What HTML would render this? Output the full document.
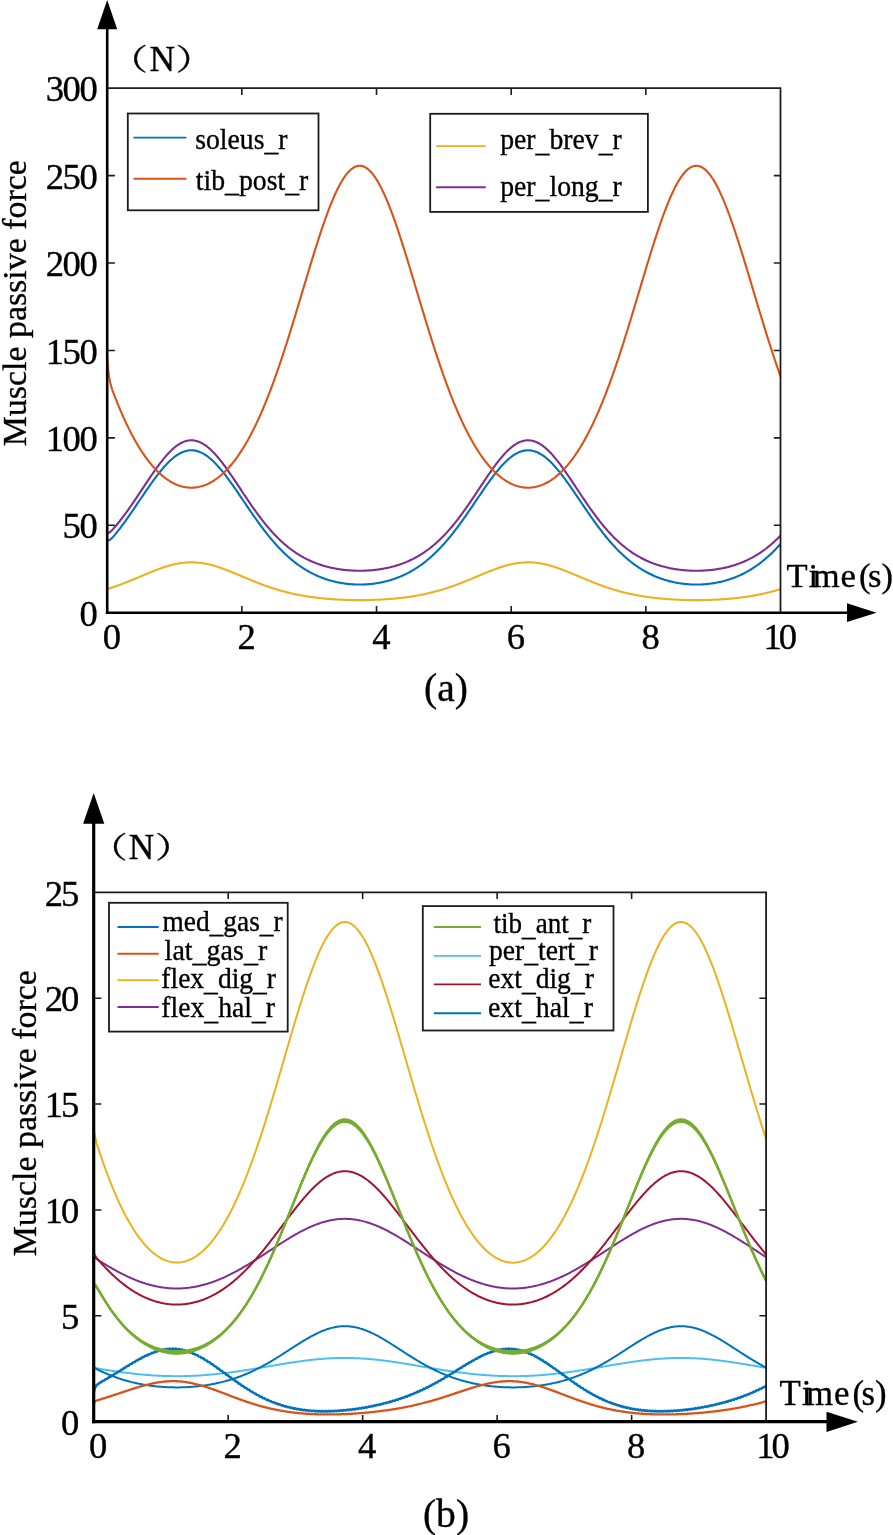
<!DOCTYPE html>
<html lang="en"><head><meta charset="utf-8"><title>Muscle passive force</title>
<style>html,body{margin:0;padding:0;background:#fff}svg{display:block}text{font-family:'Liberation Serif', serif;fill:#000;stroke:#000;stroke-width:0.35px}</style>
</head><body>
<svg width="893" height="1535" viewBox="0 0 893 1535">
<rect width="893" height="1535" fill="#fff"/>
<clipPath id="ca"><rect x="107.20" y="86.20" width="673.90" height="528.50"/></clipPath>
<g clip-path="url(#ca)" fill="none" stroke-linejoin="round" stroke-linecap="butt">
<path d="M107.2 589.10L108.2 588.78L109.2 588.47L110.2 588.14L111.2 587.82L112.2 587.48L113.2 587.15L114.2 586.80L115.2 586.46L116.2 586.10L117.2 585.75L118.2 585.38L119.2 585.02L120.2 584.65L121.2 584.27L122.2 583.89L123.2 583.51L124.2 583.13L125.2 582.74L126.2 582.34L127.2 581.94L128.2 581.54L129.2 581.14L130.2 580.73L131.2 580.32L132.2 579.91L133.2 579.50L134.2 579.08L135.2 578.66L136.2 578.25L137.2 577.83L138.2 577.40L139.2 576.98L140.2 576.56L141.2 576.14L142.2 575.71L143.2 575.29L144.2 574.87L145.2 574.45L146.2 574.03L147.2 573.62L148.2 573.20L149.2 572.79L150.2 572.38L151.2 571.97L152.2 571.57L153.2 571.17L154.2 570.78L155.2 570.39L156.2 570.00L157.2 569.62L158.2 569.25L159.2 568.88L160.2 568.52L161.2 568.17L162.2 567.82L163.2 567.48L164.2 567.15L165.2 566.83L166.2 566.51L167.2 566.21L168.2 565.91L169.2 565.63L170.2 565.35L171.2 565.09L172.2 564.83L173.2 564.59L174.2 564.35L175.2 564.13L176.2 563.93L177.2 563.73L178.2 563.54L179.2 563.37L180.2 563.21L181.2 563.07L182.2 562.93L183.2 562.81L184.2 562.71L185.2 562.61L186.2 562.53L187.2 562.47L188.2 562.42L189.2 562.38L190.2 562.36L191.2 562.35L192.2 562.35L193.2 562.37L194.2 562.40L195.2 562.45L196.2 562.51L197.2 562.59L198.2 562.68L199.2 562.78L200.2 562.89L201.2 563.02L202.2 563.16L203.2 563.32L204.2 563.49L205.2 563.67L206.2 563.86L207.2 564.06L208.2 564.28L209.2 564.51L210.2 564.75L211.2 565.00L212.2 565.26L213.2 565.54L214.2 565.82L215.2 566.11L216.2 566.41L217.2 566.72L218.2 567.04L219.2 567.37L220.2 567.71L221.2 568.05L222.2 568.41L223.2 568.76L224.2 569.13L225.2 569.50L226.2 569.88L227.2 570.26L228.2 570.65L229.2 571.04L230.2 571.44L231.2 571.84L232.2 572.25L233.2 572.66L234.2 573.07L235.2 573.48L236.2 573.90L237.2 574.31L238.2 574.73L239.2 575.16L240.2 575.58L241.2 576.00L242.2 576.42L243.2 576.84L244.2 577.27L245.2 577.69L246.2 578.11L247.2 578.53L248.2 578.95L249.2 579.36L250.2 579.78L251.2 580.19L252.2 580.60L253.2 581.01L254.2 581.41L255.2 581.81L256.2 582.21L257.2 582.61L258.2 583.00L259.2 583.39L260.2 583.77L261.2 584.15L262.2 584.53L263.2 584.90L264.2 585.27L265.2 585.63L266.2 585.99L267.2 586.34L268.2 586.69L269.2 587.03L270.2 587.37L271.2 587.71L272.2 588.04L273.2 588.36L274.2 588.68L275.2 589.00L276.2 589.31L277.2 589.61L278.2 589.91L279.2 590.20L280.2 590.49L281.2 590.77L282.2 591.05L283.2 591.33L284.2 591.59L285.2 591.86L286.2 592.11L287.2 592.37L288.2 592.61L289.2 592.86L290.2 593.09L291.2 593.33L292.2 593.55L293.2 593.78L294.2 593.99L295.2 594.21L296.2 594.41L297.2 594.62L298.2 594.82L299.2 595.01L300.2 595.20L301.2 595.38L302.2 595.56L303.2 595.74L304.2 595.91L305.2 596.08L306.2 596.24L307.2 596.40L308.2 596.56L309.2 596.71L310.2 596.86L311.2 597.00L312.2 597.14L313.2 597.27L314.2 597.40L315.2 597.53L316.2 597.66L317.2 597.78L318.2 597.89L319.2 598.01L320.2 598.12L321.2 598.22L322.2 598.32L323.2 598.42L324.2 598.52L325.2 598.61L326.2 598.70L327.2 598.79L328.2 598.87L329.2 598.96L330.2 599.03L331.2 599.11L332.2 599.18L333.2 599.25L334.2 599.31L335.2 599.38L336.2 599.44L337.2 599.49L338.2 599.55L339.2 599.60L340.2 599.65L341.2 599.70L342.2 599.74L343.2 599.78L344.2 599.82L345.2 599.86L346.2 599.89L347.2 599.92L348.2 599.95L349.2 599.98L350.2 600.00L351.2 600.03L352.2 600.04L353.2 600.06L354.2 600.08L355.2 600.09L356.2 600.10L357.2 600.10L358.2 600.11L359.2 600.11L360.2 600.11L361.2 600.11L362.2 600.10L363.2 600.10L364.2 600.09L365.2 600.08L366.2 600.06L367.2 600.04L368.2 600.03L369.2 600.00L370.2 599.98L371.2 599.95L372.2 599.92L373.2 599.89L374.2 599.86L375.2 599.82L376.2 599.78L377.2 599.74L378.2 599.70L379.2 599.65L380.2 599.60L381.2 599.55L382.2 599.49L383.2 599.44L384.2 599.38L385.2 599.31L386.2 599.25L387.2 599.18L388.2 599.11L389.2 599.03L390.2 598.95L391.2 598.87L392.2 598.79L393.2 598.70L394.2 598.61L395.2 598.52L396.2 598.42L397.2 598.32L398.2 598.22L399.2 598.11L400.2 598.00L401.2 597.89L402.2 597.77L403.2 597.65L404.2 597.53L405.2 597.40L406.2 597.27L407.2 597.13L408.2 596.99L409.2 596.85L410.2 596.70L411.2 596.55L412.2 596.40L413.2 596.24L414.2 596.08L415.2 595.91L416.2 595.74L417.2 595.56L418.2 595.38L419.2 595.19L420.2 595.01L421.2 594.81L422.2 594.61L423.2 594.41L424.2 594.20L425.2 593.99L426.2 593.77L427.2 593.55L428.2 593.32L429.2 593.09L430.2 592.85L431.2 592.61L432.2 592.36L433.2 592.11L434.2 591.85L435.2 591.59L436.2 591.32L437.2 591.05L438.2 590.77L439.2 590.48L440.2 590.19L441.2 589.90L442.2 589.60L443.2 589.30L444.2 588.99L445.2 588.67L446.2 588.35L447.2 588.03L448.2 587.70L449.2 587.37L450.2 587.03L451.2 586.68L452.2 586.33L453.2 585.98L454.2 585.62L455.2 585.26L456.2 584.89L457.2 584.52L458.2 584.14L459.2 583.76L460.2 583.38L461.2 582.99L462.2 582.60L463.2 582.20L464.2 581.80L465.2 581.40L466.2 581.00L467.2 580.59L468.2 580.18L469.2 579.77L470.2 579.35L471.2 578.94L472.2 578.52L473.2 578.10L474.2 577.68L475.2 577.26L476.2 576.83L477.2 576.41L478.2 575.99L479.2 575.57L480.2 575.14L481.2 574.72L482.2 574.30L483.2 573.89L484.2 573.47L485.2 573.06L486.2 572.65L487.2 572.24L488.2 571.83L489.2 571.43L490.2 571.03L491.2 570.64L492.2 570.25L493.2 569.87L494.2 569.49L495.2 569.12L496.2 568.76L497.2 568.40L498.2 568.04L499.2 567.70L500.2 567.36L501.2 567.04L502.2 566.72L503.2 566.41L504.2 566.10L505.2 565.81L506.2 565.53L507.2 565.26L508.2 565.00L509.2 564.74L510.2 564.50L511.2 564.28L512.2 564.06L513.2 563.85L514.2 563.66L515.2 563.48L516.2 563.31L517.2 563.16L518.2 563.02L519.2 562.89L520.2 562.77L521.2 562.67L522.2 562.58L523.2 562.51L524.2 562.45L525.2 562.40L526.2 562.37L527.2 562.35L528.2 562.35L529.2 562.36L530.2 562.38L531.2 562.42L532.2 562.47L533.2 562.54L534.2 562.62L535.2 562.71L536.2 562.82L537.2 562.94L538.2 563.07L539.2 563.22L540.2 563.38L541.2 563.55L542.2 563.73L543.2 563.93L544.2 564.14L545.2 564.36L546.2 564.59L547.2 564.84L548.2 565.09L549.2 565.36L550.2 565.63L551.2 565.92L552.2 566.22L553.2 566.52L554.2 566.84L555.2 567.16L556.2 567.49L557.2 567.83L558.2 568.18L559.2 568.53L560.2 568.89L561.2 569.26L562.2 569.63L563.2 570.01L564.2 570.40L565.2 570.79L566.2 571.18L567.2 571.58L568.2 571.98L569.2 572.39L570.2 572.80L571.2 573.21L572.2 573.63L573.2 574.04L574.2 574.46L575.2 574.88L576.2 575.30L577.2 575.72L578.2 576.15L579.2 576.57L580.2 576.99L581.2 577.41L582.2 577.84L583.2 578.26L584.2 578.68L585.2 579.09L586.2 579.51L587.2 579.92L588.2 580.33L589.2 580.74L590.2 581.15L591.2 581.55L592.2 581.95L593.2 582.35L594.2 582.74L595.2 583.14L596.2 583.52L597.2 583.90L598.2 584.28L599.2 584.66L600.2 585.03L601.2 585.39L602.2 585.76L603.2 586.11L604.2 586.46L605.2 586.81L606.2 587.15L607.2 587.49L608.2 587.82L609.2 588.15L610.2 588.48L611.2 588.79L612.2 589.11L613.2 589.41L614.2 589.71L615.2 590.01L616.2 590.30L617.2 590.59L618.2 590.87L619.2 591.15L620.2 591.42L621.2 591.69L622.2 591.95L623.2 592.20L624.2 592.45L625.2 592.70L626.2 592.94L627.2 593.17L628.2 593.41L629.2 593.63L630.2 593.85L631.2 594.07L632.2 594.28L633.2 594.49L634.2 594.69L635.2 594.88L636.2 595.08L637.2 595.26L638.2 595.45L639.2 595.63L640.2 595.80L641.2 595.97L642.2 596.14L643.2 596.30L644.2 596.46L645.2 596.61L646.2 596.76L647.2 596.91L648.2 597.05L649.2 597.19L650.2 597.32L651.2 597.45L652.2 597.58L653.2 597.70L654.2 597.82L655.2 597.93L656.2 598.04L657.2 598.15L658.2 598.26L659.2 598.36L660.2 598.46L661.2 598.55L662.2 598.65L663.2 598.73L664.2 598.82L665.2 598.90L666.2 598.98L667.2 599.06L668.2 599.13L669.2 599.20L670.2 599.27L671.2 599.34L672.2 599.40L673.2 599.46L674.2 599.51L675.2 599.57L676.2 599.62L677.2 599.67L678.2 599.71L679.2 599.76L680.2 599.80L681.2 599.84L682.2 599.87L683.2 599.90L684.2 599.94L685.2 599.96L686.2 599.99L687.2 600.01L688.2 600.03L689.2 600.05L690.2 600.07L691.2 600.08L692.2 600.09L693.2 600.10L694.2 600.11L695.2 600.11L696.2 600.11L697.2 600.11L698.2 600.11L699.2 600.10L700.2 600.09L701.2 600.08L702.2 600.07L703.2 600.06L704.2 600.04L705.2 600.02L706.2 600.00L707.2 599.97L708.2 599.94L709.2 599.91L710.2 599.88L711.2 599.85L712.2 599.81L713.2 599.77L714.2 599.73L715.2 599.68L716.2 599.63L717.2 599.58L718.2 599.53L719.2 599.47L720.2 599.41L721.2 599.35L722.2 599.29L723.2 599.22L724.2 599.15L725.2 599.08L726.2 599.00L727.2 598.93L728.2 598.84L729.2 598.76L730.2 598.67L731.2 598.58L732.2 598.49L733.2 598.39L734.2 598.29L735.2 598.18L736.2 598.07L737.2 597.96L738.2 597.85L739.2 597.73L740.2 597.61L741.2 597.48L742.2 597.36L743.2 597.22L744.2 597.09L745.2 596.95L746.2 596.80L747.2 596.65L748.2 596.50L749.2 596.34L750.2 596.18L751.2 596.02L752.2 595.85L753.2 595.68L754.2 595.50L755.2 595.32L756.2 595.13L757.2 594.94L758.2 594.74L759.2 594.54L760.2 594.34L761.2 594.13L762.2 593.91L763.2 593.69L764.2 593.47L765.2 593.24L766.2 593.00L767.2 592.77L768.2 592.52L769.2 592.27L770.2 592.02L771.2 591.76L772.2 591.49L773.2 591.22L774.2 590.95L775.2 590.67L776.2 590.38L777.2 590.09L778.2 589.80L779.2 589.50L780.2 589.19L780.5 589.10" stroke="#EDB120" stroke-width="2.1"/>
<path d="M107.2 539.62L108.2 540.20L109.2 540.10L110.2 539.57L111.2 538.78L112.2 537.82L113.2 536.75L114.2 535.61L115.2 534.42L116.2 533.19L117.2 531.94L118.2 530.66L119.2 529.36L120.2 528.05L121.2 526.72L122.2 525.37L123.2 524.01L124.2 522.64L125.2 521.26L126.2 519.86L127.2 518.45L128.2 517.04L129.2 515.61L130.2 514.17L131.2 512.73L132.2 511.28L133.2 509.82L134.2 508.36L135.2 506.89L136.2 505.41L137.2 503.94L138.2 502.46L139.2 500.98L140.2 499.50L141.2 498.02L142.2 496.54L143.2 495.07L144.2 493.60L145.2 492.13L146.2 490.67L147.2 489.22L148.2 487.78L149.2 486.34L150.2 484.92L151.2 483.50L152.2 482.11L153.2 480.72L154.2 479.35L155.2 478.00L156.2 476.67L157.2 475.35L158.2 474.06L159.2 472.79L160.2 471.54L161.2 470.32L162.2 469.12L163.2 467.95L164.2 466.81L165.2 465.69L166.2 464.61L167.2 463.56L168.2 462.54L169.2 461.56L170.2 460.61L171.2 459.69L172.2 458.82L173.2 457.98L174.2 457.18L175.2 456.42L176.2 455.70L177.2 455.03L178.2 454.39L179.2 453.80L180.2 453.26L181.2 452.75L182.2 452.30L183.2 451.89L184.2 451.52L185.2 451.20L186.2 450.93L187.2 450.71L188.2 450.53L189.2 450.40L190.2 450.32L191.2 450.29L192.2 450.31L193.2 450.37L194.2 450.49L195.2 450.65L196.2 450.85L197.2 451.11L198.2 451.41L199.2 451.76L200.2 452.16L201.2 452.60L202.2 453.09L203.2 453.62L204.2 454.20L205.2 454.82L206.2 455.48L207.2 456.18L208.2 456.93L209.2 457.72L210.2 458.54L211.2 459.40L212.2 460.31L213.2 461.24L214.2 462.22L215.2 463.22L216.2 464.26L217.2 465.34L218.2 466.44L219.2 467.57L220.2 468.74L221.2 469.93L222.2 471.14L223.2 472.38L224.2 473.65L225.2 474.93L226.2 476.24L227.2 477.57L228.2 478.91L229.2 480.28L230.2 481.65L231.2 483.05L232.2 484.46L233.2 485.88L234.2 487.31L235.2 488.75L236.2 490.20L237.2 491.66L238.2 493.12L239.2 494.59L240.2 496.06L241.2 497.54L242.2 499.02L243.2 500.50L244.2 501.98L245.2 503.46L246.2 504.94L247.2 506.41L248.2 507.88L249.2 509.35L250.2 510.80L251.2 512.26L252.2 513.70L253.2 515.14L254.2 516.57L255.2 517.99L256.2 519.40L257.2 520.80L258.2 522.19L259.2 523.57L260.2 524.93L261.2 526.28L262.2 527.62L263.2 528.95L264.2 530.26L265.2 531.55L266.2 532.83L267.2 534.10L268.2 535.35L269.2 536.58L270.2 537.80L271.2 539.00L272.2 540.18L273.2 541.35L274.2 542.49L275.2 543.63L276.2 544.74L277.2 545.84L278.2 546.92L279.2 547.98L280.2 549.02L281.2 550.05L282.2 551.06L283.2 552.05L284.2 553.02L285.2 553.97L286.2 554.91L287.2 555.83L288.2 556.73L289.2 557.62L290.2 558.48L291.2 559.33L292.2 560.16L293.2 560.98L294.2 561.78L295.2 562.56L296.2 563.32L297.2 564.07L298.2 564.80L299.2 565.51L300.2 566.21L301.2 566.89L302.2 567.56L303.2 568.21L304.2 568.85L305.2 569.46L306.2 570.07L307.2 570.66L308.2 571.23L309.2 571.79L310.2 572.34L311.2 572.87L312.2 573.39L313.2 573.89L314.2 574.38L315.2 574.85L316.2 575.32L317.2 575.76L318.2 576.20L319.2 576.62L320.2 577.03L321.2 577.43L322.2 577.82L323.2 578.19L324.2 578.55L325.2 578.90L326.2 579.24L327.2 579.56L328.2 579.88L329.2 580.18L330.2 580.47L331.2 580.75L332.2 581.02L333.2 581.28L334.2 581.53L335.2 581.77L336.2 582.00L337.2 582.21L338.2 582.42L339.2 582.62L340.2 582.80L341.2 582.98L342.2 583.15L343.2 583.30L344.2 583.45L345.2 583.59L346.2 583.72L347.2 583.84L348.2 583.95L349.2 584.05L350.2 584.14L351.2 584.22L352.2 584.29L353.2 584.36L354.2 584.41L355.2 584.46L356.2 584.49L357.2 584.52L358.2 584.54L359.2 584.55L360.2 584.55L361.2 584.54L362.2 584.52L363.2 584.49L364.2 584.45L365.2 584.41L366.2 584.35L367.2 584.29L368.2 584.22L369.2 584.14L370.2 584.05L371.2 583.94L372.2 583.84L373.2 583.72L374.2 583.59L375.2 583.45L376.2 583.30L377.2 583.14L378.2 582.98L379.2 582.80L380.2 582.61L381.2 582.42L382.2 582.21L383.2 581.99L384.2 581.76L385.2 581.53L386.2 581.28L387.2 581.02L388.2 580.75L389.2 580.47L390.2 580.17L391.2 579.87L392.2 579.56L393.2 579.23L394.2 578.89L395.2 578.54L396.2 578.18L397.2 577.81L398.2 577.42L399.2 577.02L400.2 576.61L401.2 576.19L402.2 575.75L403.2 575.30L404.2 574.84L405.2 574.37L406.2 573.88L407.2 573.37L408.2 572.86L409.2 572.32L410.2 571.78L411.2 571.22L412.2 570.64L413.2 570.05L414.2 569.45L415.2 568.83L416.2 568.19L417.2 567.54L418.2 566.88L419.2 566.19L420.2 565.50L421.2 564.78L422.2 564.05L423.2 563.30L424.2 562.54L425.2 561.76L426.2 560.96L427.2 560.14L428.2 559.31L429.2 558.46L430.2 557.60L431.2 556.71L432.2 555.81L433.2 554.89L434.2 553.95L435.2 553.00L436.2 552.02L437.2 551.03L438.2 550.02L439.2 549.00L440.2 547.95L441.2 546.89L442.2 545.81L443.2 544.71L444.2 543.60L445.2 542.47L446.2 541.32L447.2 540.15L448.2 538.97L449.2 537.77L450.2 536.55L451.2 535.31L452.2 534.07L453.2 532.80L454.2 531.52L455.2 530.22L456.2 528.91L457.2 527.59L458.2 526.25L459.2 524.90L460.2 523.53L461.2 522.16L462.2 520.77L463.2 519.37L464.2 517.96L465.2 516.54L466.2 515.11L467.2 513.67L468.2 512.22L469.2 510.77L470.2 509.31L471.2 507.84L472.2 506.37L473.2 504.90L474.2 503.42L475.2 501.94L476.2 500.46L477.2 498.98L478.2 497.50L479.2 496.03L480.2 494.55L481.2 493.08L482.2 491.62L483.2 490.16L484.2 488.71L485.2 487.27L486.2 485.84L487.2 484.42L488.2 483.01L489.2 481.62L490.2 480.24L491.2 478.88L492.2 477.53L493.2 476.21L494.2 474.90L495.2 473.61L496.2 472.35L497.2 471.11L498.2 469.90L499.2 468.71L500.2 467.55L501.2 466.41L502.2 465.31L503.2 464.24L504.2 463.20L505.2 462.19L506.2 461.22L507.2 460.28L508.2 459.38L509.2 458.52L510.2 457.70L511.2 456.91L512.2 456.17L513.2 455.46L514.2 454.80L515.2 454.18L516.2 453.61L517.2 453.08L518.2 452.59L519.2 452.15L520.2 451.75L521.2 451.40L522.2 451.10L523.2 450.85L524.2 450.64L525.2 450.48L526.2 450.37L527.2 450.31L528.2 450.29L529.2 450.33L530.2 450.41L531.2 450.54L532.2 450.71L533.2 450.94L534.2 451.21L535.2 451.53L536.2 451.90L537.2 452.31L538.2 452.77L539.2 453.27L540.2 453.82L541.2 454.41L542.2 455.04L543.2 455.72L544.2 456.44L545.2 457.20L546.2 458.00L547.2 458.84L548.2 459.72L549.2 460.63L550.2 461.58L551.2 462.57L552.2 463.58L553.2 464.64L554.2 465.72L555.2 466.83L556.2 467.98L557.2 469.15L558.2 470.35L559.2 471.57L560.2 472.82L561.2 474.09L562.2 475.39L563.2 476.70L564.2 478.04L565.2 479.39L566.2 480.76L567.2 482.14L568.2 483.54L569.2 484.95L570.2 486.38L571.2 487.81L572.2 489.26L573.2 490.71L574.2 492.17L575.2 493.64L576.2 495.11L577.2 496.58L578.2 498.06L579.2 499.54L580.2 501.02L581.2 502.50L582.2 503.98L583.2 505.45L584.2 506.92L585.2 508.39L586.2 509.86L587.2 511.31L588.2 512.77L589.2 514.21L590.2 515.64L591.2 517.07L592.2 518.49L593.2 519.90L594.2 521.29L595.2 522.68L596.2 524.05L597.2 525.41L598.2 526.75L599.2 528.09L600.2 529.41L601.2 530.71L602.2 532.00L603.2 533.28L604.2 534.54L605.2 535.78L606.2 537.01L607.2 538.22L608.2 539.41L609.2 540.59L610.2 541.75L611.2 542.89L612.2 544.02L613.2 545.13L614.2 546.22L615.2 547.29L616.2 548.35L617.2 549.38L618.2 550.40L619.2 551.41L620.2 552.39L621.2 553.36L622.2 554.30L623.2 555.24L624.2 556.15L625.2 557.04L626.2 557.92L627.2 558.78L628.2 559.63L629.2 560.45L630.2 561.26L631.2 562.05L632.2 562.83L633.2 563.58L634.2 564.33L635.2 565.05L636.2 565.76L637.2 566.45L638.2 567.13L639.2 567.79L640.2 568.43L641.2 569.06L642.2 569.68L643.2 570.28L644.2 570.86L645.2 571.43L646.2 571.99L647.2 572.53L648.2 573.05L649.2 573.56L650.2 574.06L651.2 574.55L652.2 575.02L653.2 575.47L654.2 575.92L655.2 576.35L656.2 576.77L657.2 577.17L658.2 577.57L659.2 577.95L660.2 578.32L661.2 578.68L662.2 579.02L663.2 579.35L664.2 579.68L665.2 579.99L666.2 580.28L667.2 580.57L668.2 580.85L669.2 581.12L670.2 581.37L671.2 581.62L672.2 581.85L673.2 582.07L674.2 582.29L675.2 582.49L676.2 582.68L677.2 582.87L678.2 583.04L679.2 583.20L680.2 583.36L681.2 583.50L682.2 583.64L683.2 583.76L684.2 583.88L685.2 583.98L686.2 584.08L687.2 584.17L688.2 584.25L689.2 584.32L690.2 584.38L691.2 584.43L692.2 584.47L693.2 584.50L694.2 584.53L695.2 584.54L696.2 584.55L697.2 584.54L698.2 584.53L699.2 584.51L700.2 584.48L701.2 584.44L702.2 584.39L703.2 584.33L704.2 584.27L705.2 584.19L706.2 584.11L707.2 584.01L708.2 583.91L709.2 583.79L710.2 583.67L711.2 583.54L712.2 583.40L713.2 583.25L714.2 583.09L715.2 582.92L716.2 582.74L717.2 582.54L718.2 582.34L719.2 582.13L720.2 581.91L721.2 581.68L722.2 581.44L723.2 581.19L724.2 580.92L725.2 580.65L726.2 580.36L727.2 580.07L728.2 579.76L729.2 579.44L730.2 579.11L731.2 578.77L732.2 578.42L733.2 578.05L734.2 577.67L735.2 577.28L736.2 576.88L737.2 576.47L738.2 576.04L739.2 575.60L740.2 575.14L741.2 574.68L742.2 574.20L743.2 573.70L744.2 573.19L745.2 572.67L746.2 572.14L747.2 571.58L748.2 571.02L749.2 570.44L750.2 569.84L751.2 569.23L752.2 568.61L753.2 567.97L754.2 567.31L755.2 566.64L756.2 565.95L757.2 565.25L758.2 564.53L759.2 563.79L760.2 563.04L761.2 562.27L762.2 561.48L763.2 560.68L764.2 559.85L765.2 559.02L766.2 558.16L767.2 557.29L768.2 556.40L769.2 555.49L770.2 554.56L771.2 553.62L772.2 552.66L773.2 551.68L774.2 550.68L775.2 549.67L776.2 548.63L777.2 547.58L778.2 546.51L779.2 545.43L780.2 544.32L780.5 543.99" stroke="#0072BD" stroke-width="2.1"/>
<path d="M107.2 533.33L108.2 533.17L109.2 532.64L110.2 531.89L111.2 530.98L112.2 529.98L113.2 528.92L114.2 527.80L115.2 526.65L116.2 525.47L117.2 524.26L118.2 523.03L119.2 521.78L120.2 520.51L121.2 519.23L122.2 517.93L123.2 516.61L124.2 515.27L125.2 513.92L126.2 512.55L127.2 511.17L128.2 509.77L129.2 508.36L130.2 506.94L131.2 505.51L132.2 504.06L133.2 502.61L134.2 501.14L135.2 499.67L136.2 498.19L137.2 496.70L138.2 495.20L139.2 493.70L140.2 492.20L141.2 490.69L142.2 489.18L143.2 487.67L144.2 486.17L145.2 484.66L146.2 483.15L147.2 481.65L148.2 480.16L149.2 478.67L150.2 477.19L151.2 475.72L152.2 474.26L153.2 472.81L154.2 471.37L155.2 469.95L156.2 468.55L157.2 467.17L158.2 465.80L159.2 464.46L160.2 463.13L161.2 461.84L162.2 460.56L163.2 459.32L164.2 458.10L165.2 456.91L166.2 455.75L167.2 454.63L168.2 453.53L169.2 452.48L170.2 451.46L171.2 450.47L172.2 449.53L173.2 448.63L174.2 447.76L175.2 446.94L176.2 446.17L177.2 445.44L178.2 444.75L179.2 444.11L180.2 443.52L181.2 442.97L182.2 442.48L183.2 442.03L184.2 441.63L185.2 441.29L186.2 440.99L187.2 440.75L188.2 440.56L189.2 440.42L190.2 440.33L191.2 440.30L192.2 440.31L193.2 440.38L194.2 440.51L195.2 440.68L196.2 440.91L197.2 441.19L198.2 441.51L199.2 441.89L200.2 442.33L201.2 442.81L202.2 443.33L203.2 443.91L204.2 444.54L205.2 445.21L206.2 445.93L207.2 446.69L208.2 447.49L209.2 448.34L210.2 449.23L211.2 450.16L212.2 451.13L213.2 452.14L214.2 453.19L215.2 454.27L216.2 455.38L217.2 456.53L218.2 457.71L219.2 458.92L220.2 460.15L221.2 461.42L222.2 462.71L223.2 464.02L224.2 465.36L225.2 466.72L226.2 468.10L227.2 469.50L228.2 470.91L229.2 472.34L230.2 473.78L231.2 475.24L232.2 476.71L233.2 478.19L234.2 479.67L235.2 481.17L236.2 482.66L237.2 484.17L238.2 485.68L239.2 487.18L240.2 488.69L241.2 490.20L242.2 491.71L243.2 493.22L244.2 494.72L245.2 496.21L246.2 497.70L247.2 499.19L248.2 500.67L249.2 502.13L250.2 503.59L251.2 505.04L252.2 506.48L253.2 507.90L254.2 509.32L255.2 510.72L256.2 512.10L257.2 513.47L258.2 514.83L259.2 516.17L260.2 517.50L261.2 518.81L262.2 520.10L263.2 521.38L264.2 522.64L265.2 523.88L266.2 525.10L267.2 526.30L268.2 527.49L269.2 528.66L270.2 529.81L271.2 530.93L272.2 532.04L273.2 533.14L274.2 534.21L275.2 535.26L276.2 536.29L277.2 537.31L278.2 538.30L279.2 539.28L280.2 540.23L281.2 541.17L282.2 542.09L283.2 542.99L284.2 543.87L285.2 544.73L286.2 545.57L287.2 546.40L288.2 547.21L289.2 548.00L290.2 548.77L291.2 549.52L292.2 550.26L293.2 550.97L294.2 551.68L295.2 552.36L296.2 553.03L297.2 553.68L298.2 554.32L299.2 554.93L300.2 555.54L301.2 556.13L302.2 556.70L303.2 557.26L304.2 557.80L305.2 558.33L306.2 558.85L307.2 559.35L308.2 559.83L309.2 560.31L310.2 560.77L311.2 561.21L312.2 561.65L313.2 562.07L314.2 562.48L315.2 562.87L316.2 563.26L317.2 563.63L318.2 563.99L319.2 564.34L320.2 564.68L321.2 565.01L322.2 565.32L323.2 565.63L324.2 565.92L325.2 566.21L326.2 566.48L327.2 566.75L328.2 567.01L329.2 567.25L330.2 567.49L331.2 567.71L332.2 567.93L333.2 568.14L334.2 568.34L335.2 568.53L336.2 568.72L337.2 568.89L338.2 569.06L339.2 569.21L340.2 569.36L341.2 569.50L342.2 569.64L343.2 569.76L344.2 569.88L345.2 569.99L346.2 570.09L347.2 570.19L348.2 570.27L349.2 570.35L350.2 570.42L351.2 570.49L352.2 570.55L353.2 570.60L354.2 570.64L355.2 570.67L356.2 570.70L357.2 570.72L358.2 570.74L359.2 570.75L360.2 570.75L361.2 570.74L362.2 570.72L363.2 570.70L364.2 570.67L365.2 570.64L366.2 570.59L367.2 570.54L368.2 570.49L369.2 570.42L370.2 570.35L371.2 570.27L372.2 570.18L373.2 570.09L374.2 569.99L375.2 569.88L376.2 569.76L377.2 569.63L378.2 569.50L379.2 569.36L380.2 569.21L381.2 569.05L382.2 568.89L383.2 568.71L384.2 568.53L385.2 568.34L386.2 568.14L387.2 567.93L388.2 567.71L389.2 567.48L390.2 567.25L391.2 567.00L392.2 566.74L393.2 566.48L394.2 566.20L395.2 565.92L396.2 565.62L397.2 565.32L398.2 565.00L399.2 564.67L400.2 564.33L401.2 563.98L402.2 563.62L403.2 563.25L404.2 562.86L405.2 562.47L406.2 562.06L407.2 561.64L408.2 561.20L409.2 560.75L410.2 560.29L411.2 559.82L412.2 559.33L413.2 558.83L414.2 558.32L415.2 557.79L416.2 557.24L417.2 556.69L418.2 556.11L419.2 555.52L420.2 554.92L421.2 554.30L422.2 553.66L423.2 553.01L424.2 552.34L425.2 551.66L426.2 550.96L427.2 550.24L428.2 549.50L429.2 548.75L430.2 547.98L431.2 547.19L432.2 546.38L433.2 545.55L434.2 544.71L435.2 543.85L436.2 542.97L437.2 542.07L438.2 541.15L439.2 540.21L440.2 539.25L441.2 538.28L442.2 537.28L443.2 536.27L444.2 535.23L445.2 534.18L446.2 533.11L447.2 532.02L448.2 530.91L449.2 529.78L450.2 528.63L451.2 527.46L452.2 526.27L453.2 525.07L454.2 523.85L455.2 522.60L456.2 521.35L457.2 520.07L458.2 518.78L459.2 517.47L460.2 516.14L461.2 514.80L462.2 513.44L463.2 512.07L464.2 510.68L465.2 509.28L466.2 507.87L467.2 506.44L468.2 505.00L469.2 503.56L470.2 502.10L471.2 500.63L472.2 499.15L473.2 497.67L474.2 496.18L475.2 494.68L476.2 493.18L477.2 491.67L478.2 490.17L479.2 488.66L480.2 487.15L481.2 485.64L482.2 484.13L483.2 482.63L484.2 481.13L485.2 479.64L486.2 478.15L487.2 476.67L488.2 475.20L489.2 473.75L490.2 472.31L491.2 470.88L492.2 469.46L493.2 468.07L494.2 466.69L495.2 465.33L496.2 463.99L497.2 462.68L498.2 461.39L499.2 460.12L500.2 458.89L501.2 457.68L502.2 456.50L503.2 455.35L504.2 454.24L505.2 453.16L506.2 452.12L507.2 451.11L508.2 450.14L509.2 449.21L510.2 448.32L511.2 447.47L512.2 446.67L513.2 445.91L514.2 445.19L515.2 444.52L516.2 443.90L517.2 443.32L518.2 442.79L519.2 442.31L520.2 441.88L521.2 441.51L522.2 441.18L523.2 440.90L524.2 440.68L525.2 440.50L526.2 440.38L527.2 440.31L528.2 440.30L529.2 440.33L530.2 440.42L531.2 440.56L532.2 440.75L533.2 441.00L534.2 441.29L535.2 441.64L536.2 442.04L537.2 442.49L538.2 442.98L539.2 443.53L540.2 444.13L541.2 444.77L542.2 445.45L543.2 446.19L544.2 446.96L545.2 447.79L546.2 448.65L547.2 449.55L548.2 450.50L549.2 451.48L550.2 452.50L551.2 453.56L552.2 454.65L553.2 455.78L554.2 456.94L555.2 458.13L556.2 459.35L557.2 460.59L558.2 461.87L559.2 463.17L560.2 464.49L561.2 465.84L562.2 467.20L563.2 468.59L564.2 469.99L565.2 471.41L566.2 472.84L567.2 474.29L568.2 475.75L569.2 477.23L570.2 478.71L571.2 480.19L572.2 481.69L573.2 483.19L574.2 484.70L575.2 486.20L576.2 487.71L577.2 489.22L578.2 490.73L579.2 492.24L580.2 493.74L581.2 495.24L582.2 496.74L583.2 498.22L584.2 499.71L585.2 501.18L586.2 502.64L587.2 504.10L588.2 505.54L589.2 506.98L590.2 508.40L591.2 509.81L592.2 511.20L593.2 512.58L594.2 513.95L595.2 515.30L596.2 516.64L597.2 517.96L598.2 519.26L599.2 520.55L600.2 521.82L601.2 523.07L602.2 524.31L603.2 525.52L604.2 526.72L605.2 527.90L606.2 529.06L607.2 530.20L608.2 531.33L609.2 532.43L610.2 533.51L611.2 534.58L612.2 535.62L613.2 536.65L614.2 537.66L615.2 538.65L616.2 539.62L617.2 540.56L618.2 541.50L619.2 542.41L620.2 543.30L621.2 544.17L622.2 545.03L623.2 545.87L624.2 546.68L625.2 547.48L626.2 548.27L627.2 549.03L628.2 549.78L629.2 550.51L630.2 551.22L631.2 551.92L632.2 552.60L633.2 553.26L634.2 553.90L635.2 554.53L636.2 555.15L637.2 555.75L638.2 556.33L639.2 556.90L640.2 557.45L641.2 557.99L642.2 558.51L643.2 559.02L644.2 559.52L645.2 560.00L646.2 560.47L647.2 560.92L648.2 561.37L649.2 561.80L650.2 562.21L651.2 562.62L652.2 563.01L653.2 563.39L654.2 563.76L655.2 564.11L656.2 564.46L657.2 564.79L658.2 565.12L659.2 565.43L660.2 565.73L661.2 566.03L662.2 566.31L663.2 566.58L664.2 566.84L665.2 567.09L666.2 567.34L667.2 567.57L668.2 567.79L669.2 568.01L670.2 568.21L671.2 568.41L672.2 568.60L673.2 568.78L674.2 568.95L675.2 569.11L676.2 569.27L677.2 569.41L678.2 569.55L679.2 569.68L680.2 569.80L681.2 569.92L682.2 570.03L683.2 570.12L684.2 570.22L685.2 570.30L686.2 570.38L687.2 570.45L688.2 570.51L689.2 570.56L690.2 570.61L691.2 570.65L692.2 570.69L693.2 570.71L694.2 570.73L695.2 570.74L696.2 570.75L697.2 570.74L698.2 570.73L699.2 570.72L700.2 570.69L701.2 570.66L702.2 570.62L703.2 570.58L704.2 570.53L705.2 570.46L706.2 570.40L707.2 570.32L708.2 570.24L709.2 570.15L710.2 570.05L711.2 569.95L712.2 569.84L713.2 569.72L714.2 569.59L715.2 569.45L716.2 569.31L717.2 569.15L718.2 568.99L719.2 568.83L720.2 568.65L721.2 568.46L722.2 568.27L723.2 568.06L724.2 567.85L725.2 567.63L726.2 567.40L727.2 567.16L728.2 566.91L729.2 566.65L730.2 566.38L731.2 566.10L732.2 565.81L733.2 565.52L734.2 565.21L735.2 564.88L736.2 564.55L737.2 564.21L738.2 563.86L739.2 563.49L740.2 563.11L741.2 562.73L742.2 562.32L743.2 561.91L744.2 561.49L745.2 561.05L746.2 560.60L747.2 560.13L748.2 559.65L749.2 559.16L750.2 558.65L751.2 558.13L752.2 557.60L753.2 557.05L754.2 556.49L755.2 555.91L756.2 555.31L757.2 554.70L758.2 554.08L759.2 553.44L760.2 552.78L761.2 552.11L762.2 551.41L763.2 550.71L764.2 549.98L765.2 549.24L766.2 548.48L767.2 547.70L768.2 546.91L769.2 546.09L770.2 545.26L771.2 544.41L772.2 543.54L773.2 542.65L774.2 541.75L775.2 540.82L776.2 539.88L777.2 538.91L778.2 537.93L779.2 536.93L780.2 535.91L780.5 535.60" stroke="#7E2F8E" stroke-width="2.1"/>
<path d="M107.2 357.09L108.2 369.97L109.2 377.52L110.2 382.53L111.2 386.31L112.2 389.48L113.2 392.34L114.2 395.04L115.2 397.64L116.2 400.18L117.2 402.67L118.2 405.11L119.2 407.51L120.2 409.87L121.2 412.19L122.2 414.47L123.2 416.72L124.2 418.93L125.2 421.10L126.2 423.23L127.2 425.32L128.2 427.38L129.2 429.40L130.2 431.37L131.2 433.32L132.2 435.22L133.2 437.08L134.2 438.91L135.2 440.70L136.2 442.46L137.2 444.17L138.2 445.85L139.2 447.49L140.2 449.10L141.2 450.67L142.2 452.20L143.2 453.70L144.2 455.16L145.2 456.59L146.2 457.98L147.2 459.33L148.2 460.66L149.2 461.94L150.2 463.19L151.2 464.41L152.2 465.60L153.2 466.75L154.2 467.86L155.2 468.95L156.2 470.00L157.2 471.02L158.2 472.01L159.2 472.96L160.2 473.88L161.2 474.77L162.2 475.63L163.2 476.46L164.2 477.26L165.2 478.03L166.2 478.76L167.2 479.47L168.2 480.14L169.2 480.79L170.2 481.40L171.2 481.99L172.2 482.55L173.2 483.07L174.2 483.57L175.2 484.04L176.2 484.48L177.2 484.89L178.2 485.27L179.2 485.63L180.2 485.95L181.2 486.25L182.2 486.52L183.2 486.76L184.2 486.97L185.2 487.16L186.2 487.32L187.2 487.45L188.2 487.55L189.2 487.62L190.2 487.67L191.2 487.69L192.2 487.68L193.2 487.64L194.2 487.58L195.2 487.48L196.2 487.36L197.2 487.21L198.2 487.04L199.2 486.83L200.2 486.60L201.2 486.34L202.2 486.05L203.2 485.74L204.2 485.39L205.2 485.02L206.2 484.62L207.2 484.19L208.2 483.73L209.2 483.24L210.2 482.72L211.2 482.17L212.2 481.60L213.2 480.99L214.2 480.36L215.2 479.69L216.2 478.99L217.2 478.27L218.2 477.51L219.2 476.72L220.2 475.91L221.2 475.06L222.2 474.18L223.2 473.26L224.2 472.32L225.2 471.34L226.2 470.34L227.2 469.29L228.2 468.22L229.2 467.11L230.2 465.97L231.2 464.80L232.2 463.59L233.2 462.35L234.2 461.08L235.2 459.77L236.2 458.42L237.2 457.04L238.2 455.63L239.2 454.18L240.2 452.69L241.2 451.17L242.2 449.61L243.2 448.02L244.2 446.39L245.2 444.72L246.2 443.02L247.2 441.28L248.2 439.50L249.2 437.68L250.2 435.83L251.2 433.94L252.2 432.01L253.2 430.04L254.2 428.04L255.2 425.99L256.2 423.91L257.2 421.79L258.2 419.64L259.2 417.44L260.2 415.21L261.2 412.94L262.2 410.63L263.2 408.28L264.2 405.89L265.2 403.47L266.2 401.01L267.2 398.51L268.2 395.98L269.2 393.41L270.2 390.80L271.2 388.16L272.2 385.48L273.2 382.77L274.2 380.02L275.2 377.24L276.2 374.42L277.2 371.57L278.2 368.69L279.2 365.78L280.2 362.83L281.2 359.86L282.2 356.86L283.2 353.82L284.2 350.76L285.2 347.68L286.2 344.56L287.2 341.43L288.2 338.27L289.2 335.08L290.2 331.88L291.2 328.66L292.2 325.41L293.2 322.15L294.2 318.88L295.2 315.59L296.2 312.28L297.2 308.97L298.2 305.65L299.2 302.31L300.2 298.98L301.2 295.63L302.2 292.29L303.2 288.94L304.2 285.59L305.2 282.25L306.2 278.91L307.2 275.58L308.2 272.26L309.2 268.94L310.2 265.64L311.2 262.36L312.2 259.09L313.2 255.85L314.2 252.62L315.2 249.42L316.2 246.25L317.2 243.10L318.2 239.99L319.2 236.91L320.2 233.86L321.2 230.85L322.2 227.89L323.2 224.96L324.2 222.08L325.2 219.25L326.2 216.47L327.2 213.74L328.2 211.06L329.2 208.44L330.2 205.88L331.2 203.39L332.2 200.95L333.2 198.58L334.2 196.28L335.2 194.05L336.2 191.89L337.2 189.80L338.2 187.79L339.2 185.86L340.2 184.00L341.2 182.23L342.2 180.54L343.2 178.94L344.2 177.42L345.2 175.99L346.2 174.65L347.2 173.39L348.2 172.23L349.2 171.17L350.2 170.19L351.2 169.31L352.2 168.53L353.2 167.84L354.2 167.25L355.2 166.76L356.2 166.37L357.2 166.07L358.2 165.87L359.2 165.77L360.2 165.78L361.2 165.88L362.2 166.08L363.2 166.37L364.2 166.77L365.2 167.27L366.2 167.86L367.2 168.55L368.2 169.33L369.2 170.22L370.2 171.19L371.2 172.26L372.2 173.42L373.2 174.68L374.2 176.02L375.2 177.46L376.2 178.98L377.2 180.58L378.2 182.28L379.2 184.05L380.2 185.91L381.2 187.84L382.2 189.85L383.2 191.94L384.2 194.10L385.2 196.34L386.2 198.64L387.2 201.01L388.2 203.45L389.2 205.95L390.2 208.51L391.2 211.13L392.2 213.81L393.2 216.54L394.2 219.32L395.2 222.15L396.2 225.03L397.2 227.96L398.2 230.93L399.2 233.94L400.2 236.98L401.2 240.06L402.2 243.18L403.2 246.33L404.2 249.50L405.2 252.70L406.2 255.93L407.2 259.18L408.2 262.44L409.2 265.73L410.2 269.03L411.2 272.34L412.2 275.66L413.2 278.99L414.2 282.33L415.2 285.68L416.2 289.02L417.2 292.37L418.2 295.72L419.2 299.06L420.2 302.40L421.2 305.73L422.2 309.05L423.2 312.37L424.2 315.67L425.2 318.96L426.2 322.24L427.2 325.49L428.2 328.74L429.2 331.96L430.2 335.16L431.2 338.35L432.2 341.51L433.2 344.64L434.2 347.75L435.2 350.84L436.2 353.90L437.2 356.93L438.2 359.93L439.2 362.91L440.2 365.85L441.2 368.76L442.2 371.64L443.2 374.49L444.2 377.31L445.2 380.09L446.2 382.84L447.2 385.55L448.2 388.23L449.2 390.87L450.2 393.47L451.2 396.04L452.2 398.58L453.2 401.07L454.2 403.53L455.2 405.95L456.2 408.34L457.2 410.69L458.2 412.99L459.2 415.26L460.2 417.50L461.2 419.69L462.2 421.85L463.2 423.97L464.2 426.05L465.2 428.09L466.2 430.09L467.2 432.06L468.2 433.99L469.2 435.88L470.2 437.73L471.2 439.54L472.2 441.32L473.2 443.06L474.2 444.76L475.2 446.43L476.2 448.06L477.2 449.65L478.2 451.21L479.2 452.73L480.2 454.22L481.2 455.67L482.2 457.08L483.2 458.46L484.2 459.80L485.2 461.11L486.2 462.38L487.2 463.62L488.2 464.83L489.2 466.00L490.2 467.14L491.2 468.25L492.2 469.32L493.2 470.36L494.2 471.37L495.2 472.34L496.2 473.29L497.2 474.20L498.2 475.08L499.2 475.93L500.2 476.74L501.2 477.53L502.2 478.29L503.2 479.01L504.2 479.71L505.2 480.37L506.2 481.01L507.2 481.61L508.2 482.19L509.2 482.73L510.2 483.25L511.2 483.74L512.2 484.20L513.2 484.63L514.2 485.03L515.2 485.40L516.2 485.74L517.2 486.06L518.2 486.35L519.2 486.61L520.2 486.84L521.2 487.04L522.2 487.22L523.2 487.37L524.2 487.49L525.2 487.58L526.2 487.64L527.2 487.68L528.2 487.69L529.2 487.67L530.2 487.62L531.2 487.55L532.2 487.44L533.2 487.31L534.2 487.16L535.2 486.97L536.2 486.76L537.2 486.51L538.2 486.24L539.2 485.95L540.2 485.62L541.2 485.26L542.2 484.88L543.2 484.47L544.2 484.03L545.2 483.56L546.2 483.06L547.2 482.53L548.2 481.97L549.2 481.39L550.2 480.77L551.2 480.13L552.2 479.45L553.2 478.74L554.2 478.01L555.2 477.24L556.2 476.44L557.2 475.61L558.2 474.75L559.2 473.86L560.2 472.94L561.2 471.98L562.2 470.99L563.2 469.97L564.2 468.92L565.2 467.84L566.2 466.72L567.2 465.57L568.2 464.38L569.2 463.16L570.2 461.91L571.2 460.62L572.2 459.30L573.2 457.94L574.2 456.55L575.2 455.13L576.2 453.66L577.2 452.16L578.2 450.63L579.2 449.06L580.2 447.45L581.2 445.81L582.2 444.13L583.2 442.41L584.2 440.66L585.2 438.87L586.2 437.04L587.2 435.17L588.2 433.27L589.2 431.33L590.2 429.35L591.2 427.33L592.2 425.27L593.2 423.18L594.2 421.04L595.2 418.87L596.2 416.66L597.2 414.42L598.2 412.13L599.2 409.81L600.2 407.45L601.2 405.05L602.2 402.62L603.2 400.14L604.2 397.63L605.2 395.09L606.2 392.50L607.2 389.88L608.2 387.23L609.2 384.54L610.2 381.81L611.2 379.05L612.2 376.26L613.2 373.43L614.2 370.57L615.2 367.67L616.2 364.75L617.2 361.80L618.2 358.81L619.2 355.80L620.2 352.76L621.2 349.69L622.2 346.59L623.2 343.47L624.2 340.32L625.2 337.16L626.2 333.96L627.2 330.75L628.2 327.52L629.2 324.27L630.2 321.01L631.2 317.73L632.2 314.43L633.2 311.13L634.2 307.81L635.2 304.48L636.2 301.15L637.2 297.81L638.2 294.46L639.2 291.11L640.2 287.77L641.2 284.42L642.2 281.08L643.2 277.74L644.2 274.41L645.2 271.10L646.2 267.79L647.2 264.49L648.2 261.22L649.2 257.96L650.2 254.72L651.2 251.50L652.2 248.31L653.2 245.14L654.2 242.01L655.2 238.90L656.2 235.84L657.2 232.80L658.2 229.81L659.2 226.86L660.2 223.95L661.2 221.09L662.2 218.27L663.2 215.51L664.2 212.80L665.2 210.14L666.2 207.54L667.2 205.00L668.2 202.53L669.2 200.11L670.2 197.77L671.2 195.49L672.2 193.28L673.2 191.15L674.2 189.09L675.2 187.11L676.2 185.20L677.2 183.37L678.2 181.63L679.2 179.97L680.2 178.40L681.2 176.91L682.2 175.51L683.2 174.20L684.2 172.98L685.2 171.85L686.2 170.81L687.2 169.87L688.2 169.03L689.2 168.28L690.2 167.62L691.2 167.07L692.2 166.61L693.2 166.25L694.2 165.99L695.2 165.83L696.2 165.76L697.2 165.80L698.2 165.93L699.2 166.17L700.2 166.50L701.2 166.93L702.2 167.46L703.2 168.09L704.2 168.81L705.2 169.63L706.2 170.55L707.2 171.56L708.2 172.66L709.2 173.85L710.2 175.14L711.2 176.51L712.2 177.98L713.2 179.53L714.2 181.17L715.2 182.89L716.2 184.69L717.2 186.57L718.2 188.54L719.2 190.57L720.2 192.69L721.2 194.88L722.2 197.13L723.2 199.46L724.2 201.86L725.2 204.32L726.2 206.84L727.2 209.42L728.2 212.06L729.2 214.76L730.2 217.51L731.2 220.31L732.2 223.16L733.2 226.05L734.2 228.99L735.2 231.98L736.2 235.00L737.2 238.06L738.2 241.15L739.2 244.28L740.2 247.43L741.2 250.62L742.2 253.83L743.2 257.06L744.2 260.32L745.2 263.59L746.2 266.88L747.2 270.18L748.2 273.50L749.2 276.83L750.2 280.16L751.2 283.50L752.2 286.85L753.2 290.19L754.2 293.54L755.2 296.89L756.2 300.23L757.2 303.56L758.2 306.89L759.2 310.21L760.2 313.52L761.2 316.82L762.2 320.11L763.2 323.38L764.2 326.63L765.2 329.87L766.2 333.08L767.2 336.28L768.2 339.45L769.2 342.61L770.2 345.73L771.2 348.84L772.2 351.91L773.2 354.96L774.2 357.98L775.2 360.98L776.2 363.94L777.2 366.87L778.2 369.77L779.2 372.64L780.2 375.48L780.5 376.33" stroke="#D95319" stroke-width="2.1"/>
</g>
<g stroke="#1c1c1c" stroke-width="1.8" fill="none">
<path d="M107.20 88.20 H780.50 V612.70"/>
<path d="M241.86 88.20 v6.70 M241.86 612.70 v-6.70 M376.52 88.20 v6.70 M376.52 612.70 v-6.70 M511.18 88.20 v6.70 M511.18 612.70 v-6.70 M645.84 88.20 v6.70 M645.84 612.70 v-6.70 M107.20 525.28 h7.70 M780.50 525.28 h-6.70 M107.20 437.87 h7.70 M780.50 437.87 h-6.70 M107.20 350.45 h7.70 M780.50 350.45 h-6.70 M107.20 263.03 h7.70 M780.50 263.03 h-6.70 M107.20 175.62 h7.70 M780.50 175.62 h-6.70 " stroke-width="1.6"/>
</g>
<g stroke="#000" stroke-width="2.60" fill="none">
<path d="M107.20 614.00 V20.00"/>
<path d="M105.90 612.70 H856.50"/>
</g>
<path d="M107.2 0 L97.2 29.2 H117.2 Z" fill="#000"/>
<path d="M876.5 612.7 L847 603.3 V622.1 Z" fill="#000"/>
<clipPath id="cb"><rect x="93.70" y="890.30" width="673.00" height="533.40"/></clipPath>
<g clip-path="url(#cb)" fill="none" stroke-linejoin="round" stroke-linecap="butt">
<path d="M93.7 1130.74L94.7 1135.06L95.7 1139.31L96.7 1143.49L97.7 1146.57L98.7 1149.61L99.7 1152.61L100.7 1155.57L101.7 1158.48L102.7 1161.36L103.7 1164.19L104.7 1166.98L105.7 1169.73L106.7 1172.44L107.7 1175.11L108.7 1177.73L109.7 1180.31L110.7 1182.85L111.7 1185.35L112.7 1187.80L113.7 1190.22L114.7 1192.58L115.7 1194.91L116.7 1197.20L117.7 1199.44L118.7 1201.64L119.7 1203.80L120.7 1205.92L121.7 1207.99L122.7 1210.02L123.7 1212.01L124.7 1213.96L125.7 1215.87L126.7 1217.74L127.7 1219.57L128.7 1221.35L129.7 1223.10L130.7 1224.80L131.7 1226.47L132.7 1228.09L133.7 1229.67L134.7 1231.22L135.7 1232.72L136.7 1234.19L137.7 1235.61L138.7 1237.00L139.7 1238.35L140.7 1239.66L141.7 1240.93L142.7 1242.16L143.7 1243.35L144.7 1244.51L145.7 1245.63L146.7 1246.71L147.7 1247.76L148.7 1248.76L149.7 1249.73L150.7 1250.67L151.7 1251.56L152.7 1252.43L153.7 1253.25L154.7 1254.04L155.7 1254.79L156.7 1255.51L157.7 1256.19L158.7 1256.83L159.7 1257.44L160.7 1258.02L161.7 1258.56L162.7 1259.06L163.7 1259.54L164.7 1259.97L165.7 1260.37L166.7 1260.74L167.7 1261.07L168.7 1261.37L169.7 1261.63L170.7 1261.86L171.7 1262.05L172.7 1262.22L173.7 1262.34L174.7 1262.43L175.7 1262.49L176.7 1262.52L177.7 1262.51L178.7 1262.46L179.7 1262.39L180.7 1262.28L181.7 1262.13L182.7 1261.95L183.7 1261.74L184.7 1261.49L185.7 1261.21L186.7 1260.89L187.7 1260.54L188.7 1260.16L189.7 1259.74L190.7 1259.28L191.7 1258.80L192.7 1258.27L193.7 1257.72L194.7 1257.13L195.7 1256.50L196.7 1255.84L197.7 1255.14L198.7 1254.41L199.7 1253.64L200.7 1252.84L201.7 1252.00L202.7 1251.13L203.7 1250.22L204.7 1249.27L205.7 1248.29L206.7 1247.27L207.7 1246.22L208.7 1245.12L209.7 1244.00L210.7 1242.83L211.7 1241.63L212.7 1240.39L213.7 1239.11L214.7 1237.80L215.7 1236.45L216.7 1235.06L217.7 1233.63L218.7 1232.17L219.7 1230.67L220.7 1229.13L221.7 1227.55L222.7 1225.93L223.7 1224.27L224.7 1222.58L225.7 1220.84L226.7 1219.07L227.7 1217.26L228.7 1215.41L229.7 1213.52L230.7 1211.59L231.7 1209.62L232.7 1207.62L233.7 1205.57L234.7 1203.49L235.7 1201.36L236.7 1199.20L237.7 1197.00L238.7 1194.76L239.7 1192.48L240.7 1190.16L241.7 1187.80L242.7 1185.41L243.7 1182.98L244.7 1180.50L245.7 1178.00L246.7 1175.45L247.7 1172.87L248.7 1170.25L249.7 1167.59L250.7 1164.90L251.7 1162.17L252.7 1159.41L253.7 1156.61L254.7 1153.78L255.7 1150.91L256.7 1148.01L257.7 1145.08L258.7 1142.12L259.7 1139.12L260.7 1136.10L261.7 1133.04L262.7 1129.96L263.7 1126.85L264.7 1123.71L265.7 1120.54L266.7 1117.35L267.7 1114.13L268.7 1110.89L269.7 1107.63L270.7 1104.35L271.7 1101.05L272.7 1097.73L273.7 1094.39L274.7 1091.03L275.7 1087.66L276.7 1084.27L277.7 1080.88L278.7 1077.47L279.7 1074.05L280.7 1070.63L281.7 1067.20L282.7 1063.76L283.7 1060.32L284.7 1056.89L285.7 1053.45L286.7 1050.01L287.7 1046.58L288.7 1043.15L289.7 1039.73L290.7 1036.32L291.7 1032.93L292.7 1029.54L293.7 1026.17L294.7 1022.82L295.7 1019.49L296.7 1016.18L297.7 1012.90L298.7 1009.64L299.7 1006.40L300.7 1003.20L301.7 1000.03L302.7 996.90L303.7 993.80L304.7 990.74L305.7 987.72L306.7 984.74L307.7 981.81L308.7 978.92L309.7 976.09L310.7 973.30L311.7 970.57L312.7 967.90L313.7 965.28L314.7 962.72L315.7 960.23L316.7 957.79L317.7 955.43L318.7 953.13L319.7 950.90L320.7 948.74L321.7 946.65L322.7 944.64L323.7 942.70L324.7 940.84L325.7 939.07L326.7 937.37L327.7 935.75L328.7 934.22L329.7 932.78L330.7 931.42L331.7 930.14L332.7 928.96L333.7 927.87L334.7 926.86L335.7 925.95L336.7 925.13L337.7 924.40L338.7 923.77L339.7 923.23L340.7 922.79L341.7 922.44L342.7 922.19L343.7 922.03L344.7 921.97L345.7 922.00L346.7 922.13L347.7 922.36L348.7 922.68L349.7 923.10L350.7 923.61L351.7 924.22L352.7 924.92L353.7 925.71L354.7 926.60L355.7 927.57L356.7 928.64L357.7 929.80L358.7 931.05L359.7 932.38L360.7 933.80L361.7 935.31L362.7 936.90L363.7 938.58L364.7 940.33L365.7 942.17L366.7 944.08L367.7 946.07L368.7 948.14L369.7 950.28L370.7 952.49L371.7 954.77L372.7 957.12L373.7 959.53L374.7 962.01L375.7 964.55L376.7 967.15L377.7 969.81L378.7 972.53L379.7 975.30L380.7 978.12L381.7 980.99L382.7 983.91L383.7 986.87L384.7 989.88L385.7 992.93L386.7 996.02L387.7 999.14L388.7 1002.30L389.7 1005.50L390.7 1008.72L391.7 1011.97L392.7 1015.25L393.7 1018.55L394.7 1021.88L395.7 1025.22L396.7 1028.59L397.7 1031.97L398.7 1035.36L399.7 1038.77L400.7 1042.18L401.7 1045.61L402.7 1049.04L403.7 1052.48L404.7 1055.91L405.7 1059.35L406.7 1062.79L407.7 1066.23L408.7 1069.66L409.7 1073.09L410.7 1076.51L411.7 1079.92L412.7 1083.32L413.7 1086.71L414.7 1090.08L415.7 1093.44L416.7 1096.78L417.7 1100.11L418.7 1103.42L419.7 1106.71L420.7 1109.98L421.7 1113.22L422.7 1116.45L423.7 1119.64L424.7 1122.82L425.7 1125.96L426.7 1129.09L427.7 1132.18L428.7 1135.24L429.7 1138.27L430.7 1141.28L431.7 1144.25L432.7 1147.19L433.7 1150.10L434.7 1152.98L435.7 1155.82L436.7 1158.63L437.7 1161.40L438.7 1164.14L439.7 1166.84L440.7 1169.51L441.7 1172.14L442.7 1174.73L443.7 1177.29L444.7 1179.81L445.7 1182.29L446.7 1184.73L447.7 1187.14L448.7 1189.51L449.7 1191.84L450.7 1194.13L451.7 1196.38L452.7 1198.59L453.7 1200.77L454.7 1202.90L455.7 1205.00L456.7 1207.05L457.7 1209.07L458.7 1211.05L459.7 1212.99L460.7 1214.89L461.7 1216.76L462.7 1218.58L463.7 1220.36L464.7 1222.11L465.7 1223.82L466.7 1225.48L467.7 1227.11L468.7 1228.70L469.7 1230.26L470.7 1231.77L471.7 1233.25L472.7 1234.69L473.7 1236.09L474.7 1237.45L475.7 1238.78L476.7 1240.06L477.7 1241.31L478.7 1242.53L479.7 1243.71L480.7 1244.85L481.7 1245.95L482.7 1247.02L483.7 1248.05L484.7 1249.04L485.7 1250.00L486.7 1250.92L487.7 1251.81L488.7 1252.66L489.7 1253.47L490.7 1254.25L491.7 1255.00L492.7 1255.70L493.7 1256.38L494.7 1257.02L495.7 1257.62L496.7 1258.19L497.7 1258.73L498.7 1259.23L499.7 1259.69L500.7 1260.13L501.7 1260.52L502.7 1260.89L503.7 1261.22L504.7 1261.51L505.7 1261.78L506.7 1262.00L507.7 1262.20L508.7 1262.36L509.7 1262.48L510.7 1262.58L511.7 1262.63L512.7 1262.66L513.7 1262.65L514.7 1262.61L515.7 1262.53L516.7 1262.42L517.7 1262.28L518.7 1262.10L519.7 1261.89L520.7 1261.64L521.7 1261.37L522.7 1261.05L523.7 1260.70L524.7 1260.32L525.7 1259.91L526.7 1259.46L527.7 1258.97L528.7 1258.46L529.7 1257.90L530.7 1257.31L531.7 1256.69L532.7 1256.03L533.7 1255.34L534.7 1254.61L535.7 1253.85L536.7 1253.05L537.7 1252.22L538.7 1251.35L539.7 1250.45L540.7 1249.51L541.7 1248.53L542.7 1247.52L543.7 1246.47L544.7 1245.38L545.7 1244.26L546.7 1243.10L547.7 1241.91L548.7 1240.67L549.7 1239.40L550.7 1238.10L551.7 1236.75L552.7 1235.37L553.7 1233.95L554.7 1232.49L555.7 1230.99L556.7 1229.46L557.7 1227.89L558.7 1226.28L559.7 1224.63L560.7 1222.94L561.7 1221.21L562.7 1219.45L563.7 1217.64L564.7 1215.80L565.7 1213.92L566.7 1211.99L567.7 1210.03L568.7 1208.03L569.7 1206.00L570.7 1203.92L571.7 1201.80L572.7 1199.65L573.7 1197.45L574.7 1195.22L575.7 1192.95L576.7 1190.64L577.7 1188.29L578.7 1185.90L579.7 1183.47L580.7 1181.01L581.7 1178.51L582.7 1175.97L583.7 1173.39L584.7 1170.78L585.7 1168.13L586.7 1165.45L587.7 1162.73L588.7 1159.97L589.7 1157.18L590.7 1154.35L591.7 1151.49L592.7 1148.60L593.7 1145.68L594.7 1142.72L595.7 1139.73L596.7 1136.71L597.7 1133.66L598.7 1130.58L599.7 1127.47L600.7 1124.34L601.7 1121.18L602.7 1117.99L603.7 1114.78L604.7 1111.55L605.7 1108.29L606.7 1105.01L607.7 1101.71L608.7 1098.39L609.7 1095.06L610.7 1091.70L611.7 1088.34L612.7 1084.95L613.7 1081.56L614.7 1078.15L615.7 1074.74L616.7 1071.32L617.7 1067.89L618.7 1064.45L619.7 1061.01L620.7 1057.57L621.7 1054.14L622.7 1050.70L623.7 1047.26L624.7 1043.84L625.7 1040.42L626.7 1037.01L627.7 1033.61L628.7 1030.22L629.7 1026.85L630.7 1023.49L631.7 1020.16L632.7 1016.84L633.7 1013.55L634.7 1010.29L635.7 1007.05L636.7 1003.84L637.7 1000.66L638.7 997.52L639.7 994.41L640.7 991.35L641.7 988.32L642.7 985.33L643.7 982.39L644.7 979.50L645.7 976.65L646.7 973.86L647.7 971.12L648.7 968.43L649.7 965.80L650.7 963.23L651.7 960.72L652.7 958.27L653.7 955.89L654.7 953.58L655.7 951.34L656.7 949.16L657.7 947.06L658.7 945.03L659.7 943.08L660.7 941.21L661.7 939.41L662.7 937.70L663.7 936.07L664.7 934.52L665.7 933.06L666.7 931.68L667.7 930.39L668.7 929.19L669.7 928.08L670.7 927.06L671.7 926.13L672.7 925.29L673.7 924.54L674.7 923.89L675.7 923.33L676.7 922.87L677.7 922.50L678.7 922.23L679.7 922.06L680.7 921.97L681.7 921.99L682.7 922.10L683.7 922.31L684.7 922.61L685.7 923.01L686.7 923.50L687.7 924.09L688.7 924.77L689.7 925.54L690.7 926.41L691.7 927.37L692.7 928.42L693.7 929.56L694.7 930.79L695.7 932.11L696.7 933.51L697.7 935.00L698.7 936.58L699.7 938.24L700.7 939.98L701.7 941.80L702.7 943.69L703.7 945.67L704.7 947.72L705.7 949.84L706.7 952.04L707.7 954.31L708.7 956.64L709.7 959.04L710.7 961.51L711.7 964.04L712.7 966.63L713.7 969.27L714.7 971.98L715.7 974.74L716.7 977.55L717.7 980.41L718.7 983.32L719.7 986.27L720.7 989.27L721.7 992.32L722.7 995.40L723.7 998.51L724.7 1001.67L725.7 1004.85L726.7 1008.07L727.7 1011.32L728.7 1014.59L729.7 1017.89L730.7 1021.21L731.7 1024.55L732.7 1027.91L733.7 1031.29L734.7 1034.68L735.7 1038.09L736.7 1041.50L737.7 1044.92L738.7 1048.35L739.7 1051.79L740.7 1055.23L741.7 1058.67L742.7 1062.10L743.7 1065.54L744.7 1068.98L745.7 1072.40L746.7 1075.82L747.7 1079.24L748.7 1082.64L749.7 1086.03L750.7 1089.41L751.7 1092.77L752.7 1096.12L753.7 1099.45L754.7 1102.76L755.7 1106.05L756.7 1109.33L757.7 1112.58L758.7 1115.80L759.7 1119.01L760.7 1122.18L761.7 1125.34L762.7 1128.46L763.7 1131.56L764.7 1134.63L765.7 1137.67L766.1 1138.88" stroke="#EDB120" stroke-width="2.0"/>
<path d="M93.7 1256.53L94.7 1257.39L95.7 1258.25L96.7 1259.11L97.7 1259.74L98.7 1260.38L99.7 1261.01L100.7 1261.63L101.7 1262.26L102.7 1262.88L103.7 1263.49L104.7 1264.10L105.7 1264.71L106.7 1265.31L107.7 1265.91L108.7 1266.50L109.7 1267.09L110.7 1267.67L111.7 1268.24L112.7 1268.82L113.7 1269.38L114.7 1269.94L115.7 1270.49L116.7 1271.04L117.7 1271.58L118.7 1272.11L119.7 1272.64L120.7 1273.16L121.7 1273.67L122.7 1274.18L123.7 1274.68L124.7 1275.17L125.7 1275.65L126.7 1276.13L127.7 1276.60L128.7 1277.06L129.7 1277.51L130.7 1277.96L131.7 1278.40L132.7 1278.82L133.7 1279.25L134.7 1279.66L135.7 1280.06L136.7 1280.46L137.7 1280.84L138.7 1281.22L139.7 1281.59L140.7 1281.95L141.7 1282.30L142.7 1282.64L143.7 1282.97L144.7 1283.30L145.7 1283.61L146.7 1283.92L147.7 1284.21L148.7 1284.50L149.7 1284.77L150.7 1285.04L151.7 1285.30L152.7 1285.54L153.7 1285.78L154.7 1286.01L155.7 1286.23L156.7 1286.44L157.7 1286.64L158.7 1286.82L159.7 1287.00L160.7 1287.17L161.7 1287.33L162.7 1287.48L163.7 1287.62L164.7 1287.74L165.7 1287.86L166.7 1287.97L167.7 1288.07L168.7 1288.16L169.7 1288.23L170.7 1288.30L171.7 1288.36L172.7 1288.40L173.7 1288.44L174.7 1288.47L175.7 1288.48L176.7 1288.49L177.7 1288.48L178.7 1288.47L179.7 1288.44L180.7 1288.41L181.7 1288.36L182.7 1288.30L183.7 1288.24L184.7 1288.16L185.7 1288.08L186.7 1287.98L187.7 1287.87L188.7 1287.75L189.7 1287.63L190.7 1287.49L191.7 1287.34L192.7 1287.18L193.7 1287.02L194.7 1286.84L195.7 1286.65L196.7 1286.45L197.7 1286.25L198.7 1286.03L199.7 1285.80L200.7 1285.56L201.7 1285.32L202.7 1285.06L203.7 1284.80L204.7 1284.52L205.7 1284.24L206.7 1283.94L207.7 1283.64L208.7 1283.32L209.7 1283.00L210.7 1282.67L211.7 1282.33L212.7 1281.98L213.7 1281.62L214.7 1281.25L215.7 1280.87L216.7 1280.49L217.7 1280.09L218.7 1279.69L219.7 1279.28L220.7 1278.86L221.7 1278.43L222.7 1278.00L223.7 1277.55L224.7 1277.10L225.7 1276.64L226.7 1276.17L227.7 1275.69L228.7 1275.21L229.7 1274.72L230.7 1274.22L231.7 1273.72L232.7 1273.20L233.7 1272.68L234.7 1272.16L235.7 1271.62L236.7 1271.08L237.7 1270.54L238.7 1269.99L239.7 1269.43L240.7 1268.86L241.7 1268.29L242.7 1267.72L243.7 1267.13L244.7 1266.55L245.7 1265.96L246.7 1265.36L247.7 1264.76L248.7 1264.15L249.7 1263.54L250.7 1262.93L251.7 1262.31L252.7 1261.68L253.7 1261.06L254.7 1260.43L255.7 1259.79L256.7 1259.16L257.7 1258.52L258.7 1257.88L259.7 1257.23L260.7 1256.59L261.7 1255.94L262.7 1255.29L263.7 1254.64L264.7 1253.98L265.7 1253.33L266.7 1252.67L267.7 1252.02L268.7 1251.36L269.7 1250.70L270.7 1250.05L271.7 1249.39L272.7 1248.74L273.7 1248.08L274.7 1247.43L275.7 1246.78L276.7 1246.12L277.7 1245.48L278.7 1244.83L279.7 1244.18L280.7 1243.54L281.7 1242.90L282.7 1242.27L283.7 1241.63L284.7 1241.01L285.7 1240.38L286.7 1239.76L287.7 1239.14L288.7 1238.53L289.7 1237.92L290.7 1237.32L291.7 1236.72L292.7 1236.13L293.7 1235.55L294.7 1234.97L295.7 1234.40L296.7 1233.83L297.7 1233.27L298.7 1232.72L299.7 1232.18L300.7 1231.64L301.7 1231.12L302.7 1230.60L303.7 1230.09L304.7 1229.58L305.7 1229.09L306.7 1228.60L307.7 1228.13L308.7 1227.66L309.7 1227.21L310.7 1226.76L311.7 1226.33L312.7 1225.90L313.7 1225.49L314.7 1225.09L315.7 1224.69L316.7 1224.31L317.7 1223.94L318.7 1223.59L319.7 1223.24L320.7 1222.91L321.7 1222.59L322.7 1222.28L323.7 1221.98L324.7 1221.70L325.7 1221.43L326.7 1221.17L327.7 1220.92L328.7 1220.69L329.7 1220.47L330.7 1220.27L331.7 1220.08L332.7 1219.90L333.7 1219.73L334.7 1219.58L335.7 1219.45L336.7 1219.32L337.7 1219.22L338.7 1219.12L339.7 1219.04L340.7 1218.98L341.7 1218.92L342.7 1218.89L343.7 1218.86L344.7 1218.85L345.7 1218.86L346.7 1218.88L347.7 1218.91L348.7 1218.96L349.7 1219.02L350.7 1219.10L351.7 1219.19L352.7 1219.29L353.7 1219.41L354.7 1219.54L355.7 1219.69L356.7 1219.85L357.7 1220.02L358.7 1220.21L359.7 1220.41L360.7 1220.63L361.7 1220.86L362.7 1221.10L363.7 1221.35L364.7 1221.62L365.7 1221.90L366.7 1222.19L367.7 1222.50L368.7 1222.82L369.7 1223.15L370.7 1223.49L371.7 1223.84L372.7 1224.21L373.7 1224.59L374.7 1224.97L375.7 1225.37L376.7 1225.79L377.7 1226.21L378.7 1226.64L379.7 1227.08L380.7 1227.53L381.7 1228.00L382.7 1228.47L383.7 1228.95L384.7 1229.44L385.7 1229.94L386.7 1230.45L387.7 1230.97L388.7 1231.49L389.7 1232.03L390.7 1232.57L391.7 1233.12L392.7 1233.67L393.7 1234.24L394.7 1234.81L395.7 1235.38L396.7 1235.97L397.7 1236.56L398.7 1237.15L399.7 1237.75L400.7 1238.36L401.7 1238.97L402.7 1239.58L403.7 1240.20L404.7 1240.83L405.7 1241.46L406.7 1242.09L407.7 1242.72L408.7 1243.36L409.7 1244.00L410.7 1244.65L411.7 1245.29L412.7 1245.94L413.7 1246.59L414.7 1247.24L415.7 1247.90L416.7 1248.55L417.7 1249.21L418.7 1249.86L419.7 1250.52L420.7 1251.17L421.7 1251.83L422.7 1252.49L423.7 1253.14L424.7 1253.80L425.7 1254.45L426.7 1255.10L427.7 1255.75L428.7 1256.40L429.7 1257.05L430.7 1257.70L431.7 1258.34L432.7 1258.98L433.7 1259.61L434.7 1260.25L435.7 1260.88L436.7 1261.51L437.7 1262.13L438.7 1262.75L439.7 1263.37L440.7 1263.98L441.7 1264.59L442.7 1265.19L443.7 1265.79L444.7 1266.38L445.7 1266.97L446.7 1267.55L447.7 1268.13L448.7 1268.70L449.7 1269.27L450.7 1269.83L451.7 1270.38L452.7 1270.93L453.7 1271.47L454.7 1272.01L455.7 1272.53L456.7 1273.06L457.7 1273.57L458.7 1274.08L459.7 1274.58L460.7 1275.07L461.7 1275.56L462.7 1276.04L463.7 1276.51L464.7 1276.97L465.7 1277.42L466.7 1277.87L467.7 1278.31L468.7 1278.74L469.7 1279.16L470.7 1279.58L471.7 1279.98L472.7 1280.38L473.7 1280.77L474.7 1281.15L475.7 1281.52L476.7 1281.88L477.7 1282.23L478.7 1282.57L479.7 1282.91L480.7 1283.23L481.7 1283.55L482.7 1283.86L483.7 1284.15L484.7 1284.44L485.7 1284.72L486.7 1284.99L487.7 1285.25L488.7 1285.50L489.7 1285.74L490.7 1285.97L491.7 1286.19L492.7 1286.40L493.7 1286.60L494.7 1286.79L495.7 1286.97L496.7 1287.14L497.7 1287.30L498.7 1287.45L499.7 1287.59L500.7 1287.72L501.7 1287.84L502.7 1287.95L503.7 1288.05L504.7 1288.14L505.7 1288.22L506.7 1288.29L507.7 1288.35L508.7 1288.39L509.7 1288.43L510.7 1288.46L511.7 1288.48L512.7 1288.49L513.7 1288.48L514.7 1288.47L515.7 1288.45L516.7 1288.41L517.7 1288.37L518.7 1288.32L519.7 1288.25L520.7 1288.18L521.7 1288.09L522.7 1288.00L523.7 1287.89L524.7 1287.78L525.7 1287.65L526.7 1287.52L527.7 1287.37L528.7 1287.22L529.7 1287.05L530.7 1286.88L531.7 1286.69L532.7 1286.49L533.7 1286.29L534.7 1286.07L535.7 1285.85L536.7 1285.61L537.7 1285.37L538.7 1285.11L539.7 1284.85L540.7 1284.58L541.7 1284.29L542.7 1284.00L543.7 1283.70L544.7 1283.39L545.7 1283.07L546.7 1282.74L547.7 1282.40L548.7 1282.05L549.7 1281.69L550.7 1281.33L551.7 1280.95L552.7 1280.57L553.7 1280.17L554.7 1279.77L555.7 1279.36L556.7 1278.94L557.7 1278.52L558.7 1278.08L559.7 1277.64L560.7 1277.19L561.7 1276.73L562.7 1276.26L563.7 1275.79L564.7 1275.31L565.7 1274.82L566.7 1274.32L567.7 1273.82L568.7 1273.31L569.7 1272.79L570.7 1272.26L571.7 1271.73L572.7 1271.19L573.7 1270.65L574.7 1270.10L575.7 1269.54L576.7 1268.98L577.7 1268.41L578.7 1267.83L579.7 1267.25L580.7 1266.67L581.7 1266.08L582.7 1265.48L583.7 1264.88L584.7 1264.27L585.7 1263.66L586.7 1263.05L587.7 1262.43L588.7 1261.81L589.7 1261.18L590.7 1260.55L591.7 1259.92L592.7 1259.29L593.7 1258.65L594.7 1258.01L595.7 1257.36L596.7 1256.72L597.7 1256.07L598.7 1255.42L599.7 1254.77L600.7 1254.11L601.7 1253.46L602.7 1252.80L603.7 1252.15L604.7 1251.49L605.7 1250.84L606.7 1250.18L607.7 1249.52L608.7 1248.87L609.7 1248.21L610.7 1247.56L611.7 1246.91L612.7 1246.25L613.7 1245.61L614.7 1244.96L615.7 1244.31L616.7 1243.67L617.7 1243.03L618.7 1242.39L619.7 1241.76L620.7 1241.13L621.7 1240.50L622.7 1239.88L623.7 1239.27L624.7 1238.65L625.7 1238.04L626.7 1237.44L627.7 1236.84L628.7 1236.25L629.7 1235.67L630.7 1235.09L631.7 1234.51L632.7 1233.95L633.7 1233.39L634.7 1232.83L635.7 1232.29L636.7 1231.75L637.7 1231.22L638.7 1230.70L639.7 1230.19L640.7 1229.68L641.7 1229.19L642.7 1228.70L643.7 1228.22L644.7 1227.76L645.7 1227.30L646.7 1226.85L647.7 1226.41L648.7 1225.99L649.7 1225.57L650.7 1225.17L651.7 1224.77L652.7 1224.39L653.7 1224.02L654.7 1223.66L655.7 1223.31L656.7 1222.97L657.7 1222.65L658.7 1222.34L659.7 1222.04L660.7 1221.75L661.7 1221.48L662.7 1221.22L663.7 1220.97L664.7 1220.74L665.7 1220.52L666.7 1220.31L667.7 1220.11L668.7 1219.93L669.7 1219.77L670.7 1219.61L671.7 1219.47L672.7 1219.35L673.7 1219.24L674.7 1219.14L675.7 1219.06L676.7 1218.99L677.7 1218.93L678.7 1218.89L679.7 1218.87L680.7 1218.85L681.7 1218.86L682.7 1218.87L683.7 1218.90L684.7 1218.95L685.7 1219.01L686.7 1219.08L687.7 1219.17L688.7 1219.27L689.7 1219.39L690.7 1219.52L691.7 1219.66L692.7 1219.82L693.7 1219.99L694.7 1220.17L695.7 1220.37L696.7 1220.58L697.7 1220.81L698.7 1221.05L699.7 1221.30L700.7 1221.56L701.7 1221.84L702.7 1222.13L703.7 1222.44L704.7 1222.75L705.7 1223.08L706.7 1223.42L707.7 1223.77L708.7 1224.13L709.7 1224.51L710.7 1224.90L711.7 1225.29L712.7 1225.70L713.7 1226.12L714.7 1226.55L715.7 1226.99L716.7 1227.44L717.7 1227.90L718.7 1228.37L719.7 1228.85L720.7 1229.34L721.7 1229.84L722.7 1230.35L723.7 1230.86L724.7 1231.39L725.7 1231.92L726.7 1232.46L727.7 1233.01L728.7 1233.56L729.7 1234.12L730.7 1234.69L731.7 1235.27L732.7 1235.85L733.7 1236.44L734.7 1237.03L735.7 1237.63L736.7 1238.24L737.7 1238.85L738.7 1239.46L739.7 1240.08L740.7 1240.70L741.7 1241.33L742.7 1241.96L743.7 1242.60L744.7 1243.23L745.7 1243.87L746.7 1244.52L747.7 1245.16L748.7 1245.81L749.7 1246.46L750.7 1247.11L751.7 1247.77L752.7 1248.42L753.7 1249.08L754.7 1249.73L755.7 1250.39L756.7 1251.04L757.7 1251.70L758.7 1252.36L759.7 1253.01L760.7 1253.67L761.7 1254.32L762.7 1254.97L763.7 1255.62L764.7 1256.27L765.7 1256.92L766.1 1257.18" stroke="#7E2F8E" stroke-width="2.0"/>
<path d="M93.7 1253.35L94.7 1254.95L95.7 1256.52L96.7 1258.08L97.7 1259.23L98.7 1260.37L99.7 1261.49L100.7 1262.60L101.7 1263.71L102.7 1264.79L103.7 1265.87L104.7 1266.93L105.7 1267.98L106.7 1269.01L107.7 1270.03L108.7 1271.03L109.7 1272.03L110.7 1273.00L111.7 1273.97L112.7 1274.91L113.7 1275.85L114.7 1276.77L115.7 1277.67L116.7 1278.56L117.7 1279.44L118.7 1280.29L119.7 1281.14L120.7 1281.97L121.7 1282.78L122.7 1283.58L123.7 1284.36L124.7 1285.13L125.7 1285.89L126.7 1286.62L127.7 1287.35L128.7 1288.05L129.7 1288.75L130.7 1289.42L131.7 1290.09L132.7 1290.73L133.7 1291.36L134.7 1291.98L135.7 1292.58L136.7 1293.17L137.7 1293.74L138.7 1294.29L139.7 1294.83L140.7 1295.36L141.7 1295.87L142.7 1296.37L143.7 1296.85L144.7 1297.31L145.7 1297.76L146.7 1298.20L147.7 1298.62L148.7 1299.03L149.7 1299.42L150.7 1299.80L151.7 1300.16L152.7 1300.51L153.7 1300.84L154.7 1301.16L155.7 1301.47L156.7 1301.76L157.7 1302.03L158.7 1302.29L159.7 1302.54L160.7 1302.77L161.7 1302.99L162.7 1303.20L163.7 1303.39L164.7 1303.56L165.7 1303.73L166.7 1303.87L167.7 1304.01L168.7 1304.13L169.7 1304.23L170.7 1304.33L171.7 1304.40L172.7 1304.47L173.7 1304.52L174.7 1304.55L175.7 1304.57L176.7 1304.58L177.7 1304.57L178.7 1304.55L179.7 1304.52L180.7 1304.47L181.7 1304.41L182.7 1304.33L183.7 1304.24L184.7 1304.14L185.7 1304.02L186.7 1303.89L187.7 1303.74L188.7 1303.58L189.7 1303.40L190.7 1303.21L191.7 1303.01L192.7 1302.79L193.7 1302.56L194.7 1302.31L195.7 1302.05L196.7 1301.78L197.7 1301.49L198.7 1301.19L199.7 1300.87L200.7 1300.54L201.7 1300.19L202.7 1299.83L203.7 1299.45L204.7 1299.06L205.7 1298.65L206.7 1298.23L207.7 1297.80L208.7 1297.35L209.7 1296.88L210.7 1296.41L211.7 1295.91L212.7 1295.40L213.7 1294.88L214.7 1294.34L215.7 1293.78L216.7 1293.21L217.7 1292.63L218.7 1292.03L219.7 1291.41L220.7 1290.78L221.7 1290.14L222.7 1289.48L223.7 1288.80L224.7 1288.11L225.7 1287.41L226.7 1286.68L227.7 1285.95L228.7 1285.20L229.7 1284.43L230.7 1283.65L231.7 1282.85L232.7 1282.04L233.7 1281.21L234.7 1280.36L235.7 1279.51L236.7 1278.63L237.7 1277.75L238.7 1276.84L239.7 1275.92L240.7 1274.99L241.7 1274.05L242.7 1273.08L243.7 1272.11L244.7 1271.12L245.7 1270.11L246.7 1269.09L247.7 1268.06L248.7 1267.02L249.7 1265.96L250.7 1264.88L251.7 1263.80L252.7 1262.70L253.7 1261.58L254.7 1260.46L255.7 1259.32L256.7 1258.17L257.7 1257.01L258.7 1255.84L259.7 1254.66L260.7 1253.46L261.7 1252.26L262.7 1251.04L263.7 1249.81L264.7 1248.58L265.7 1247.33L266.7 1246.08L267.7 1244.82L268.7 1243.55L269.7 1242.27L270.7 1240.99L271.7 1239.70L272.7 1238.40L273.7 1237.10L274.7 1235.79L275.7 1234.48L276.7 1233.16L277.7 1231.84L278.7 1230.52L279.7 1229.19L280.7 1227.86L281.7 1226.53L282.7 1225.20L283.7 1223.87L284.7 1222.55L285.7 1221.22L286.7 1219.89L287.7 1218.57L288.7 1217.25L289.7 1215.94L290.7 1214.62L291.7 1213.32L292.7 1212.02L293.7 1210.73L294.7 1209.44L295.7 1208.17L296.7 1206.90L297.7 1205.65L298.7 1204.40L299.7 1203.17L300.7 1201.94L301.7 1200.74L302.7 1199.54L303.7 1198.36L304.7 1197.20L305.7 1196.05L306.7 1194.92L307.7 1193.80L308.7 1192.71L309.7 1191.63L310.7 1190.58L311.7 1189.54L312.7 1188.53L313.7 1187.54L314.7 1186.57L315.7 1185.63L316.7 1184.71L317.7 1183.81L318.7 1182.95L319.7 1182.10L320.7 1181.29L321.7 1180.50L322.7 1179.74L323.7 1179.01L324.7 1178.31L325.7 1177.64L326.7 1177.01L327.7 1176.40L328.7 1175.82L329.7 1175.28L330.7 1174.77L331.7 1174.29L332.7 1173.84L333.7 1173.43L334.7 1173.06L335.7 1172.71L336.7 1172.41L337.7 1172.13L338.7 1171.90L339.7 1171.69L340.7 1171.53L341.7 1171.40L342.7 1171.30L343.7 1171.24L344.7 1171.22L345.7 1171.23L346.7 1171.28L347.7 1171.37L348.7 1171.49L349.7 1171.64L350.7 1171.83L351.7 1172.06L352.7 1172.32L353.7 1172.62L354.7 1172.96L355.7 1173.32L356.7 1173.72L357.7 1174.16L358.7 1174.63L359.7 1175.13L360.7 1175.66L361.7 1176.23L362.7 1176.83L363.7 1177.46L364.7 1178.12L365.7 1178.81L366.7 1179.53L367.7 1180.28L368.7 1181.06L369.7 1181.87L370.7 1182.70L371.7 1183.57L372.7 1184.45L373.7 1185.36L374.7 1186.30L375.7 1187.26L376.7 1188.25L377.7 1189.25L378.7 1190.28L379.7 1191.33L380.7 1192.40L381.7 1193.49L382.7 1194.60L383.7 1195.73L384.7 1196.87L385.7 1198.03L386.7 1199.21L387.7 1200.40L388.7 1201.60L389.7 1202.82L390.7 1204.05L391.7 1205.29L392.7 1206.55L393.7 1207.81L394.7 1209.08L395.7 1210.36L396.7 1211.65L397.7 1212.95L398.7 1214.25L399.7 1215.56L400.7 1216.88L401.7 1218.20L402.7 1219.52L403.7 1220.84L404.7 1222.17L405.7 1223.50L406.7 1224.83L407.7 1226.16L408.7 1227.49L409.7 1228.81L410.7 1230.14L411.7 1231.47L412.7 1232.79L413.7 1234.10L414.7 1235.42L415.7 1236.73L416.7 1238.03L417.7 1239.33L418.7 1240.62L419.7 1241.91L420.7 1243.19L421.7 1244.46L422.7 1245.73L423.7 1246.98L424.7 1248.23L425.7 1249.47L426.7 1250.69L427.7 1251.91L428.7 1253.12L429.7 1254.32L430.7 1255.51L431.7 1256.68L432.7 1257.85L433.7 1259.00L434.7 1260.14L435.7 1261.27L436.7 1262.38L437.7 1263.49L438.7 1264.58L439.7 1265.65L440.7 1266.72L441.7 1267.77L442.7 1268.80L443.7 1269.83L444.7 1270.83L445.7 1271.83L446.7 1272.81L447.7 1273.77L448.7 1274.73L449.7 1275.66L450.7 1276.58L451.7 1277.49L452.7 1278.38L453.7 1279.26L454.7 1280.12L455.7 1280.97L456.7 1281.80L457.7 1282.62L458.7 1283.42L459.7 1284.21L460.7 1284.98L461.7 1285.74L462.7 1286.48L463.7 1287.20L464.7 1287.91L465.7 1288.61L466.7 1289.29L467.7 1289.95L468.7 1290.60L469.7 1291.24L470.7 1291.86L471.7 1292.46L472.7 1293.05L473.7 1293.62L474.7 1294.18L475.7 1294.73L476.7 1295.25L477.7 1295.77L478.7 1296.27L479.7 1296.75L480.7 1297.22L481.7 1297.67L482.7 1298.11L483.7 1298.54L484.7 1298.95L485.7 1299.34L486.7 1299.72L487.7 1300.09L488.7 1300.44L489.7 1300.78L490.7 1301.10L491.7 1301.41L492.7 1301.70L493.7 1301.98L494.7 1302.24L495.7 1302.49L496.7 1302.73L497.7 1302.95L498.7 1303.16L499.7 1303.35L500.7 1303.53L501.7 1303.70L502.7 1303.85L503.7 1303.98L504.7 1304.11L505.7 1304.21L506.7 1304.31L507.7 1304.39L508.7 1304.46L509.7 1304.51L510.7 1304.55L511.7 1304.57L512.7 1304.58L513.7 1304.58L514.7 1304.56L515.7 1304.53L516.7 1304.48L517.7 1304.42L518.7 1304.35L519.7 1304.26L520.7 1304.16L521.7 1304.04L522.7 1303.91L523.7 1303.77L524.7 1303.61L525.7 1303.44L526.7 1303.25L527.7 1303.05L528.7 1302.84L529.7 1302.61L530.7 1302.37L531.7 1302.11L532.7 1301.84L533.7 1301.55L534.7 1301.25L535.7 1300.93L536.7 1300.60L537.7 1300.26L538.7 1299.90L539.7 1299.53L540.7 1299.14L541.7 1298.74L542.7 1298.32L543.7 1297.89L544.7 1297.44L545.7 1296.98L546.7 1296.50L547.7 1296.01L548.7 1295.50L549.7 1294.98L550.7 1294.45L551.7 1293.90L552.7 1293.33L553.7 1292.75L554.7 1292.15L555.7 1291.54L556.7 1290.91L557.7 1290.27L558.7 1289.61L559.7 1288.94L560.7 1288.25L561.7 1287.55L562.7 1286.83L563.7 1286.10L564.7 1285.35L565.7 1284.58L566.7 1283.80L567.7 1283.01L568.7 1282.20L569.7 1281.37L570.7 1280.53L571.7 1279.68L572.7 1278.81L573.7 1277.92L574.7 1277.02L575.7 1276.11L576.7 1275.18L577.7 1274.24L578.7 1273.28L579.7 1272.30L580.7 1271.32L581.7 1270.31L582.7 1269.30L583.7 1268.27L584.7 1267.23L585.7 1266.17L586.7 1265.10L587.7 1264.01L588.7 1262.92L589.7 1261.81L590.7 1260.69L591.7 1259.55L592.7 1258.40L593.7 1257.24L594.7 1256.07L595.7 1254.89L596.7 1253.70L597.7 1252.50L598.7 1251.28L599.7 1250.06L600.7 1248.83L601.7 1247.58L602.7 1246.33L603.7 1245.07L604.7 1243.80L605.7 1242.53L606.7 1241.25L607.7 1239.96L608.7 1238.66L609.7 1237.36L610.7 1236.05L611.7 1234.74L612.7 1233.42L613.7 1232.10L614.7 1230.78L615.7 1229.46L616.7 1228.13L617.7 1226.80L618.7 1225.47L619.7 1224.14L620.7 1222.81L621.7 1221.48L622.7 1220.16L623.7 1218.83L624.7 1217.51L625.7 1216.20L626.7 1214.89L627.7 1213.58L628.7 1212.28L629.7 1210.99L630.7 1209.70L631.7 1208.42L632.7 1207.16L633.7 1205.90L634.7 1204.65L635.7 1203.41L636.7 1202.19L637.7 1200.98L638.7 1199.78L639.7 1198.60L640.7 1197.43L641.7 1196.28L642.7 1195.14L643.7 1194.03L644.7 1192.93L645.7 1191.85L646.7 1190.79L647.7 1189.75L648.7 1188.73L649.7 1187.74L650.7 1186.76L651.7 1185.81L652.7 1184.89L653.7 1183.99L654.7 1183.12L655.7 1182.27L656.7 1181.45L657.7 1180.66L658.7 1179.89L659.7 1179.16L660.7 1178.45L661.7 1177.78L662.7 1177.13L663.7 1176.52L664.7 1175.93L665.7 1175.38L666.7 1174.87L667.7 1174.38L668.7 1173.93L669.7 1173.51L670.7 1173.13L671.7 1172.78L672.7 1172.46L673.7 1172.18L674.7 1171.94L675.7 1171.73L676.7 1171.56L677.7 1171.42L678.7 1171.32L679.7 1171.25L680.7 1171.22L681.7 1171.23L682.7 1171.27L683.7 1171.35L684.7 1171.46L685.7 1171.61L686.7 1171.79L687.7 1172.01L688.7 1172.27L689.7 1172.56L690.7 1172.89L691.7 1173.25L692.7 1173.64L693.7 1174.07L694.7 1174.53L695.7 1175.03L696.7 1175.56L697.7 1176.12L698.7 1176.71L699.7 1177.33L700.7 1177.99L701.7 1178.67L702.7 1179.39L703.7 1180.13L704.7 1180.91L705.7 1181.71L706.7 1182.54L707.7 1183.39L708.7 1184.27L709.7 1185.18L710.7 1186.11L711.7 1187.07L712.7 1188.05L713.7 1189.05L714.7 1190.08L715.7 1191.12L716.7 1192.19L717.7 1193.27L718.7 1194.38L719.7 1195.50L720.7 1196.64L721.7 1197.80L722.7 1198.97L723.7 1200.16L724.7 1201.36L725.7 1202.58L726.7 1203.80L727.7 1205.04L728.7 1206.29L729.7 1207.56L730.7 1208.83L731.7 1210.11L732.7 1211.40L733.7 1212.69L734.7 1213.99L735.7 1215.30L736.7 1216.61L737.7 1217.93L738.7 1219.25L739.7 1220.58L740.7 1221.90L741.7 1223.23L742.7 1224.56L743.7 1225.89L744.7 1227.22L745.7 1228.55L746.7 1229.88L747.7 1231.20L748.7 1232.52L749.7 1233.84L750.7 1235.16L751.7 1236.47L752.7 1237.77L753.7 1239.07L754.7 1240.37L755.7 1241.65L756.7 1242.93L757.7 1244.21L758.7 1245.47L759.7 1246.73L760.7 1247.98L761.7 1249.22L762.7 1250.45L763.7 1251.67L764.7 1252.88L765.7 1254.08L766.1 1254.56" stroke="#A2142F" stroke-width="2.0"/>
<path d="M93.7 1367.70L94.7 1367.93L95.7 1368.15L96.7 1368.38L97.7 1368.54L98.7 1368.71L99.7 1368.88L100.7 1369.04L101.7 1369.20L102.7 1369.37L103.7 1369.53L104.7 1369.69L105.7 1369.85L106.7 1370.01L107.7 1370.17L108.7 1370.32L109.7 1370.48L110.7 1370.63L111.7 1370.78L112.7 1370.93L113.7 1371.08L114.7 1371.23L115.7 1371.38L116.7 1371.52L117.7 1371.67L118.7 1371.81L119.7 1371.95L120.7 1372.08L121.7 1372.22L122.7 1372.36L123.7 1372.49L124.7 1372.62L125.7 1372.75L126.7 1372.87L127.7 1373.00L128.7 1373.12L129.7 1373.24L130.7 1373.36L131.7 1373.48L132.7 1373.59L133.7 1373.70L134.7 1373.81L135.7 1373.92L136.7 1374.03L137.7 1374.13L138.7 1374.23L139.7 1374.33L140.7 1374.42L141.7 1374.52L142.7 1374.61L143.7 1374.70L144.7 1374.78L145.7 1374.87L146.7 1374.95L147.7 1375.03L148.7 1375.11L149.7 1375.18L150.7 1375.25L151.7 1375.32L152.7 1375.39L153.7 1375.45L154.7 1375.51L155.7 1375.57L156.7 1375.62L157.7 1375.68L158.7 1375.73L159.7 1375.78L160.7 1375.82L161.7 1375.86L162.7 1375.90L163.7 1375.94L164.7 1375.98L165.7 1376.01L166.7 1376.04L167.7 1376.06L168.7 1376.09L169.7 1376.11L170.7 1376.12L171.7 1376.14L172.7 1376.15L173.7 1376.16L174.7 1376.17L175.7 1376.17L176.7 1376.17L177.7 1376.17L178.7 1376.17L179.7 1376.16L180.7 1376.15L181.7 1376.14L182.7 1376.13L183.7 1376.11L184.7 1376.09L185.7 1376.06L186.7 1376.04L187.7 1376.01L188.7 1375.98L189.7 1375.94L190.7 1375.91L191.7 1375.87L192.7 1375.83L193.7 1375.78L194.7 1375.73L195.7 1375.68L196.7 1375.63L197.7 1375.57L198.7 1375.52L199.7 1375.45L200.7 1375.39L201.7 1375.32L202.7 1375.26L203.7 1375.19L204.7 1375.11L205.7 1375.04L206.7 1374.96L207.7 1374.87L208.7 1374.79L209.7 1374.70L210.7 1374.62L211.7 1374.53L212.7 1374.43L213.7 1374.34L214.7 1374.24L215.7 1374.14L216.7 1374.03L217.7 1373.93L218.7 1373.82L219.7 1373.71L220.7 1373.60L221.7 1373.49L222.7 1373.37L223.7 1373.25L224.7 1373.13L225.7 1373.01L226.7 1372.88L227.7 1372.76L228.7 1372.63L229.7 1372.50L230.7 1372.37L231.7 1372.23L232.7 1372.10L233.7 1371.96L234.7 1371.82L235.7 1371.68L236.7 1371.53L237.7 1371.39L238.7 1371.24L239.7 1371.10L240.7 1370.95L241.7 1370.80L242.7 1370.64L243.7 1370.49L244.7 1370.34L245.7 1370.18L246.7 1370.02L247.7 1369.86L248.7 1369.70L249.7 1369.54L250.7 1369.38L251.7 1369.22L252.7 1369.05L253.7 1368.89L254.7 1368.72L255.7 1368.56L256.7 1368.39L257.7 1368.22L258.7 1368.06L259.7 1367.89L260.7 1367.72L261.7 1367.55L262.7 1367.38L263.7 1367.21L264.7 1367.04L265.7 1366.86L266.7 1366.69L267.7 1366.52L268.7 1366.35L269.7 1366.18L270.7 1366.01L271.7 1365.84L272.7 1365.67L273.7 1365.50L274.7 1365.33L275.7 1365.16L276.7 1364.99L277.7 1364.82L278.7 1364.65L279.7 1364.48L280.7 1364.32L281.7 1364.15L282.7 1363.98L283.7 1363.82L284.7 1363.66L285.7 1363.49L286.7 1363.33L287.7 1363.17L288.7 1363.02L289.7 1362.86L290.7 1362.70L291.7 1362.55L292.7 1362.40L293.7 1362.25L294.7 1362.10L295.7 1361.95L296.7 1361.80L297.7 1361.66L298.7 1361.52L299.7 1361.38L300.7 1361.24L301.7 1361.10L302.7 1360.97L303.7 1360.84L304.7 1360.71L305.7 1360.58L306.7 1360.46L307.7 1360.33L308.7 1360.21L309.7 1360.10L310.7 1359.98L311.7 1359.87L312.7 1359.76L313.7 1359.66L314.7 1359.55L315.7 1359.45L316.7 1359.35L317.7 1359.26L318.7 1359.17L319.7 1359.08L320.7 1358.99L321.7 1358.91L322.7 1358.83L323.7 1358.76L324.7 1358.68L325.7 1358.61L326.7 1358.55L327.7 1358.49L328.7 1358.43L329.7 1358.37L330.7 1358.32L331.7 1358.27L332.7 1358.22L333.7 1358.18L334.7 1358.14L335.7 1358.11L336.7 1358.08L337.7 1358.05L338.7 1358.03L339.7 1358.00L340.7 1357.99L341.7 1357.97L342.7 1357.96L343.7 1357.96L344.7 1357.96L345.7 1357.96L346.7 1357.96L347.7 1357.97L348.7 1357.98L349.7 1358.00L350.7 1358.02L351.7 1358.04L352.7 1358.07L353.7 1358.10L354.7 1358.13L355.7 1358.17L356.7 1358.21L357.7 1358.26L358.7 1358.30L359.7 1358.36L360.7 1358.41L361.7 1358.47L362.7 1358.53L363.7 1358.60L364.7 1358.66L365.7 1358.74L366.7 1358.81L367.7 1358.89L368.7 1358.97L369.7 1359.05L370.7 1359.14L371.7 1359.23L372.7 1359.33L373.7 1359.42L374.7 1359.52L375.7 1359.63L376.7 1359.73L377.7 1359.84L378.7 1359.95L379.7 1360.06L380.7 1360.18L381.7 1360.30L382.7 1360.42L383.7 1360.55L384.7 1360.67L385.7 1360.80L386.7 1360.93L387.7 1361.06L388.7 1361.20L389.7 1361.34L390.7 1361.48L391.7 1361.62L392.7 1361.76L393.7 1361.91L394.7 1362.05L395.7 1362.20L396.7 1362.35L397.7 1362.51L398.7 1362.66L399.7 1362.81L400.7 1362.97L401.7 1363.13L402.7 1363.29L403.7 1363.45L404.7 1363.61L405.7 1363.77L406.7 1363.94L407.7 1364.10L408.7 1364.27L409.7 1364.43L410.7 1364.60L411.7 1364.77L412.7 1364.94L413.7 1365.11L414.7 1365.28L415.7 1365.45L416.7 1365.62L417.7 1365.79L418.7 1365.96L419.7 1366.13L420.7 1366.30L421.7 1366.47L422.7 1366.64L423.7 1366.82L424.7 1366.99L425.7 1367.16L426.7 1367.33L427.7 1367.50L428.7 1367.67L429.7 1367.84L430.7 1368.01L431.7 1368.18L432.7 1368.34L433.7 1368.51L434.7 1368.68L435.7 1368.84L436.7 1369.01L437.7 1369.17L438.7 1369.34L439.7 1369.50L440.7 1369.66L441.7 1369.82L442.7 1369.98L443.7 1370.14L444.7 1370.29L445.7 1370.45L446.7 1370.60L447.7 1370.75L448.7 1370.90L449.7 1371.05L450.7 1371.20L451.7 1371.35L452.7 1371.49L453.7 1371.64L454.7 1371.78L455.7 1371.92L456.7 1372.06L457.7 1372.19L458.7 1372.33L459.7 1372.46L460.7 1372.59L461.7 1372.72L462.7 1372.85L463.7 1372.97L464.7 1373.10L465.7 1373.22L466.7 1373.34L467.7 1373.45L468.7 1373.57L469.7 1373.68L470.7 1373.79L471.7 1373.90L472.7 1374.00L473.7 1374.11L474.7 1374.21L475.7 1374.31L476.7 1374.40L477.7 1374.50L478.7 1374.59L479.7 1374.68L480.7 1374.77L481.7 1374.85L482.7 1374.93L483.7 1375.01L484.7 1375.09L485.7 1375.16L486.7 1375.24L487.7 1375.31L488.7 1375.37L489.7 1375.44L490.7 1375.50L491.7 1375.56L492.7 1375.61L493.7 1375.67L494.7 1375.72L495.7 1375.77L496.7 1375.81L497.7 1375.86L498.7 1375.90L499.7 1375.93L500.7 1375.97L501.7 1376.00L502.7 1376.03L503.7 1376.06L504.7 1376.08L505.7 1376.10L506.7 1376.12L507.7 1376.14L508.7 1376.15L509.7 1376.16L510.7 1376.17L511.7 1376.17L512.7 1376.17L513.7 1376.17L514.7 1376.17L515.7 1376.16L516.7 1376.16L517.7 1376.14L518.7 1376.13L519.7 1376.11L520.7 1376.09L521.7 1376.07L522.7 1376.04L523.7 1376.02L524.7 1375.98L525.7 1375.95L526.7 1375.91L527.7 1375.88L528.7 1375.83L529.7 1375.79L530.7 1375.74L531.7 1375.69L532.7 1375.64L533.7 1375.58L534.7 1375.53L535.7 1375.47L536.7 1375.40L537.7 1375.34L538.7 1375.27L539.7 1375.20L540.7 1375.13L541.7 1375.05L542.7 1374.97L543.7 1374.89L544.7 1374.81L545.7 1374.72L546.7 1374.63L547.7 1374.54L548.7 1374.45L549.7 1374.36L550.7 1374.26L551.7 1374.16L552.7 1374.05L553.7 1373.95L554.7 1373.84L555.7 1373.73L556.7 1373.62L557.7 1373.51L558.7 1373.39L559.7 1373.28L560.7 1373.16L561.7 1373.03L562.7 1372.91L563.7 1372.78L564.7 1372.65L565.7 1372.52L566.7 1372.39L567.7 1372.26L568.7 1372.12L569.7 1371.99L570.7 1371.85L571.7 1371.71L572.7 1371.56L573.7 1371.42L574.7 1371.27L575.7 1371.13L576.7 1370.98L577.7 1370.83L578.7 1370.67L579.7 1370.52L580.7 1370.37L581.7 1370.21L582.7 1370.05L583.7 1369.90L584.7 1369.74L585.7 1369.58L586.7 1369.41L587.7 1369.25L588.7 1369.09L589.7 1368.92L590.7 1368.76L591.7 1368.59L592.7 1368.42L593.7 1368.26L594.7 1368.09L595.7 1367.92L596.7 1367.75L597.7 1367.58L598.7 1367.41L599.7 1367.24L600.7 1367.07L601.7 1366.90L602.7 1366.73L603.7 1366.56L604.7 1366.38L605.7 1366.21L606.7 1366.04L607.7 1365.87L608.7 1365.70L609.7 1365.53L610.7 1365.36L611.7 1365.19L612.7 1365.02L613.7 1364.85L614.7 1364.68L615.7 1364.52L616.7 1364.35L617.7 1364.18L618.7 1364.02L619.7 1363.85L620.7 1363.69L621.7 1363.53L622.7 1363.37L623.7 1363.21L624.7 1363.05L625.7 1362.89L626.7 1362.73L627.7 1362.58L628.7 1362.43L629.7 1362.28L630.7 1362.13L631.7 1361.98L632.7 1361.83L633.7 1361.69L634.7 1361.54L635.7 1361.40L636.7 1361.27L637.7 1361.13L638.7 1360.99L639.7 1360.86L640.7 1360.73L641.7 1360.61L642.7 1360.48L643.7 1360.36L644.7 1360.24L645.7 1360.12L646.7 1360.01L647.7 1359.89L648.7 1359.78L649.7 1359.68L650.7 1359.57L651.7 1359.47L652.7 1359.37L653.7 1359.28L654.7 1359.19L655.7 1359.10L656.7 1359.01L657.7 1358.93L658.7 1358.85L659.7 1358.77L660.7 1358.70L661.7 1358.63L662.7 1358.56L663.7 1358.50L664.7 1358.44L665.7 1358.38L666.7 1358.33L667.7 1358.28L668.7 1358.23L669.7 1358.19L670.7 1358.15L671.7 1358.11L672.7 1358.08L673.7 1358.05L674.7 1358.03L675.7 1358.01L676.7 1357.99L677.7 1357.98L678.7 1357.97L679.7 1357.96L680.7 1357.96L681.7 1357.96L682.7 1357.96L683.7 1357.97L684.7 1357.98L685.7 1358.00L686.7 1358.01L687.7 1358.04L688.7 1358.06L689.7 1358.09L690.7 1358.13L691.7 1358.16L692.7 1358.20L693.7 1358.25L694.7 1358.29L695.7 1358.34L696.7 1358.40L697.7 1358.46L698.7 1358.52L699.7 1358.58L700.7 1358.65L701.7 1358.72L702.7 1358.80L703.7 1358.87L704.7 1358.95L705.7 1359.04L706.7 1359.12L707.7 1359.21L708.7 1359.31L709.7 1359.40L710.7 1359.50L711.7 1359.61L712.7 1359.71L713.7 1359.82L714.7 1359.93L715.7 1360.04L716.7 1360.16L717.7 1360.28L718.7 1360.40L719.7 1360.52L720.7 1360.65L721.7 1360.77L722.7 1360.90L723.7 1361.04L724.7 1361.17L725.7 1361.31L726.7 1361.45L727.7 1361.59L728.7 1361.73L729.7 1361.88L730.7 1362.02L731.7 1362.17L732.7 1362.32L733.7 1362.48L734.7 1362.63L735.7 1362.78L736.7 1362.94L737.7 1363.10L738.7 1363.26L739.7 1363.42L740.7 1363.58L741.7 1363.74L742.7 1363.90L743.7 1364.07L744.7 1364.23L745.7 1364.40L746.7 1364.57L747.7 1364.74L748.7 1364.90L749.7 1365.07L750.7 1365.24L751.7 1365.41L752.7 1365.58L753.7 1365.75L754.7 1365.93L755.7 1366.10L756.7 1366.27L757.7 1366.44L758.7 1366.61L759.7 1366.78L760.7 1366.95L761.7 1367.12L762.7 1367.29L763.7 1367.46L764.7 1367.63L765.7 1367.80L766.1 1367.87" stroke="#4DBEEE" stroke-width="2.0"/>
<path d="M93.7 1367.07L94.7 1367.77L95.7 1368.45L96.7 1369.13L97.7 1369.62L98.7 1370.11L99.7 1370.59L100.7 1371.07L101.7 1371.53L102.7 1371.99L103.7 1372.44L104.7 1372.89L105.7 1373.32L106.7 1373.75L107.7 1374.18L108.7 1374.59L109.7 1375.00L110.7 1375.40L111.7 1375.79L112.7 1376.17L113.7 1376.55L114.7 1376.92L115.7 1377.28L116.7 1377.64L117.7 1377.99L118.7 1378.33L119.7 1378.66L120.7 1378.99L121.7 1379.30L122.7 1379.62L123.7 1379.92L124.7 1380.22L125.7 1380.51L126.7 1380.79L127.7 1381.07L128.7 1381.34L129.7 1381.61L130.7 1381.86L131.7 1382.11L132.7 1382.36L133.7 1382.60L134.7 1382.83L135.7 1383.05L136.7 1383.27L137.7 1383.48L138.7 1383.69L139.7 1383.89L140.7 1384.08L141.7 1384.27L142.7 1384.45L143.7 1384.63L144.7 1384.80L145.7 1384.96L146.7 1385.12L147.7 1385.27L148.7 1385.42L149.7 1385.56L150.7 1385.70L151.7 1385.83L152.7 1385.95L153.7 1386.07L154.7 1386.19L155.7 1386.30L156.7 1386.40L157.7 1386.50L158.7 1386.59L159.7 1386.68L160.7 1386.76L161.7 1386.84L162.7 1386.91L163.7 1386.98L164.7 1387.04L165.7 1387.10L166.7 1387.15L167.7 1387.20L168.7 1387.24L169.7 1387.28L170.7 1387.31L171.7 1387.34L172.7 1387.36L173.7 1387.37L174.7 1387.39L175.7 1387.39L176.7 1387.40L177.7 1387.40L178.7 1387.39L179.7 1387.38L180.7 1387.36L181.7 1387.34L182.7 1387.31L183.7 1387.28L184.7 1387.24L185.7 1387.20L186.7 1387.15L187.7 1387.10L188.7 1387.04L189.7 1386.98L190.7 1386.92L191.7 1386.84L192.7 1386.77L193.7 1386.69L194.7 1386.60L195.7 1386.51L196.7 1386.41L197.7 1386.30L198.7 1386.20L199.7 1386.08L200.7 1385.96L201.7 1385.84L202.7 1385.71L203.7 1385.57L204.7 1385.43L205.7 1385.29L206.7 1385.13L207.7 1384.97L208.7 1384.81L209.7 1384.64L210.7 1384.47L211.7 1384.28L212.7 1384.10L213.7 1383.90L214.7 1383.70L215.7 1383.50L216.7 1383.29L217.7 1383.07L218.7 1382.85L219.7 1382.61L220.7 1382.38L221.7 1382.13L222.7 1381.88L223.7 1381.63L224.7 1381.36L225.7 1381.09L226.7 1380.82L227.7 1380.53L228.7 1380.24L229.7 1379.95L230.7 1379.64L231.7 1379.33L232.7 1379.01L233.7 1378.69L234.7 1378.35L235.7 1378.01L236.7 1377.67L237.7 1377.31L238.7 1376.95L239.7 1376.58L240.7 1376.20L241.7 1375.82L242.7 1375.43L243.7 1375.03L244.7 1374.62L245.7 1374.21L246.7 1373.79L247.7 1373.36L248.7 1372.92L249.7 1372.48L250.7 1372.03L251.7 1371.57L252.7 1371.10L253.7 1370.63L254.7 1370.15L255.7 1369.66L256.7 1369.17L257.7 1368.66L258.7 1368.15L259.7 1367.64L260.7 1367.11L261.7 1366.58L262.7 1366.05L263.7 1365.50L264.7 1364.95L265.7 1364.39L266.7 1363.83L267.7 1363.26L268.7 1362.68L269.7 1362.10L270.7 1361.52L271.7 1360.92L272.7 1360.33L273.7 1359.72L274.7 1359.11L275.7 1358.50L276.7 1357.88L277.7 1357.26L278.7 1356.64L279.7 1356.01L280.7 1355.38L281.7 1354.74L282.7 1354.10L283.7 1353.46L284.7 1352.82L285.7 1352.18L286.7 1351.53L287.7 1350.88L288.7 1350.23L289.7 1349.59L290.7 1348.94L291.7 1348.29L292.7 1347.64L293.7 1347.00L294.7 1346.35L295.7 1345.71L296.7 1345.07L297.7 1344.44L298.7 1343.80L299.7 1343.17L300.7 1342.55L301.7 1341.93L302.7 1341.31L303.7 1340.70L304.7 1340.10L305.7 1339.50L306.7 1338.92L307.7 1338.33L308.7 1337.76L309.7 1337.20L310.7 1336.64L311.7 1336.09L312.7 1335.56L313.7 1335.03L314.7 1334.52L315.7 1334.02L316.7 1333.53L317.7 1333.05L318.7 1332.58L319.7 1332.13L320.7 1331.69L321.7 1331.27L322.7 1330.86L323.7 1330.46L324.7 1330.08L325.7 1329.72L326.7 1329.37L327.7 1329.04L328.7 1328.73L329.7 1328.43L330.7 1328.15L331.7 1327.89L332.7 1327.65L333.7 1327.42L334.7 1327.22L335.7 1327.03L336.7 1326.86L337.7 1326.71L338.7 1326.58L339.7 1326.47L340.7 1326.37L341.7 1326.30L342.7 1326.25L343.7 1326.22L344.7 1326.21L345.7 1326.21L346.7 1326.24L347.7 1326.29L348.7 1326.35L349.7 1326.44L350.7 1326.54L351.7 1326.67L352.7 1326.81L353.7 1326.98L354.7 1327.16L355.7 1327.36L356.7 1327.58L357.7 1327.82L358.7 1328.08L359.7 1328.35L360.7 1328.64L361.7 1328.95L362.7 1329.28L363.7 1329.62L364.7 1329.98L365.7 1330.35L366.7 1330.74L367.7 1331.15L368.7 1331.57L369.7 1332.00L370.7 1332.45L371.7 1332.91L372.7 1333.39L373.7 1333.88L374.7 1334.38L375.7 1334.89L376.7 1335.41L377.7 1335.94L378.7 1336.49L379.7 1337.04L380.7 1337.60L381.7 1338.17L382.7 1338.75L383.7 1339.34L384.7 1339.93L385.7 1340.53L386.7 1341.14L387.7 1341.75L388.7 1342.37L389.7 1343.00L390.7 1343.62L391.7 1344.26L392.7 1344.89L393.7 1345.53L394.7 1346.17L395.7 1346.82L396.7 1347.46L397.7 1348.11L398.7 1348.76L399.7 1349.40L400.7 1350.05L401.7 1350.70L402.7 1351.35L403.7 1351.99L404.7 1352.64L405.7 1353.28L406.7 1353.92L407.7 1354.56L408.7 1355.20L409.7 1355.83L410.7 1356.46L411.7 1357.09L412.7 1357.71L413.7 1358.33L414.7 1358.94L415.7 1359.55L416.7 1360.16L417.7 1360.75L418.7 1361.35L419.7 1361.94L420.7 1362.52L421.7 1363.10L422.7 1363.67L423.7 1364.24L424.7 1364.79L425.7 1365.35L426.7 1365.89L427.7 1366.43L428.7 1366.96L429.7 1367.49L430.7 1368.01L431.7 1368.52L432.7 1369.03L433.7 1369.52L434.7 1370.01L435.7 1370.50L436.7 1370.97L437.7 1371.44L438.7 1371.90L439.7 1372.35L440.7 1372.80L441.7 1373.24L442.7 1373.67L443.7 1374.09L444.7 1374.51L445.7 1374.92L446.7 1375.32L447.7 1375.71L448.7 1376.10L449.7 1376.48L450.7 1376.85L451.7 1377.21L452.7 1377.57L453.7 1377.92L454.7 1378.26L455.7 1378.59L456.7 1378.92L457.7 1379.24L458.7 1379.55L459.7 1379.86L460.7 1380.16L461.7 1380.45L462.7 1380.74L463.7 1381.02L464.7 1381.29L465.7 1381.55L466.7 1381.81L467.7 1382.06L468.7 1382.31L469.7 1382.55L470.7 1382.78L471.7 1383.01L472.7 1383.23L473.7 1383.44L474.7 1383.65L475.7 1383.85L476.7 1384.04L477.7 1384.23L478.7 1384.42L479.7 1384.59L480.7 1384.76L481.7 1384.93L482.7 1385.09L483.7 1385.24L484.7 1385.39L485.7 1385.53L486.7 1385.67L487.7 1385.80L488.7 1385.93L489.7 1386.05L490.7 1386.16L491.7 1386.27L492.7 1386.38L493.7 1386.48L494.7 1386.57L495.7 1386.66L496.7 1386.74L497.7 1386.82L498.7 1386.90L499.7 1386.96L500.7 1387.03L501.7 1387.09L502.7 1387.14L503.7 1387.19L504.7 1387.23L505.7 1387.27L506.7 1387.30L507.7 1387.33L508.7 1387.35L509.7 1387.37L510.7 1387.39L511.7 1387.39L512.7 1387.40L513.7 1387.40L514.7 1387.39L515.7 1387.38L516.7 1387.36L517.7 1387.34L518.7 1387.32L519.7 1387.29L520.7 1387.25L521.7 1387.21L522.7 1387.16L523.7 1387.11L524.7 1387.06L525.7 1387.00L526.7 1386.93L527.7 1386.86L528.7 1386.78L529.7 1386.70L530.7 1386.62L531.7 1386.52L532.7 1386.43L533.7 1386.33L534.7 1386.22L535.7 1386.11L536.7 1385.99L537.7 1385.86L538.7 1385.74L539.7 1385.60L540.7 1385.46L541.7 1385.32L542.7 1385.16L543.7 1385.01L544.7 1384.84L545.7 1384.68L546.7 1384.50L547.7 1384.32L548.7 1384.14L549.7 1383.94L550.7 1383.75L551.7 1383.54L552.7 1383.33L553.7 1383.11L554.7 1382.89L555.7 1382.66L556.7 1382.43L557.7 1382.18L558.7 1381.93L559.7 1381.68L560.7 1381.42L561.7 1381.15L562.7 1380.87L563.7 1380.59L564.7 1380.30L565.7 1380.01L566.7 1379.70L567.7 1379.39L568.7 1379.08L569.7 1378.75L570.7 1378.42L571.7 1378.08L572.7 1377.74L573.7 1377.38L574.7 1377.02L575.7 1376.66L576.7 1376.28L577.7 1375.90L578.7 1375.51L579.7 1375.11L580.7 1374.71L581.7 1374.29L582.7 1373.87L583.7 1373.45L584.7 1373.01L585.7 1372.57L586.7 1372.12L587.7 1371.66L588.7 1371.20L589.7 1370.73L590.7 1370.25L591.7 1369.76L592.7 1369.27L593.7 1368.77L594.7 1368.26L595.7 1367.74L596.7 1367.22L597.7 1366.69L598.7 1366.15L599.7 1365.61L600.7 1365.06L601.7 1364.51L602.7 1363.94L603.7 1363.38L604.7 1362.80L605.7 1362.22L606.7 1361.63L607.7 1361.04L608.7 1360.45L609.7 1359.84L610.7 1359.24L611.7 1358.62L612.7 1358.01L613.7 1357.39L614.7 1356.76L615.7 1356.14L616.7 1355.50L617.7 1354.87L618.7 1354.23L619.7 1353.59L620.7 1352.95L621.7 1352.30L622.7 1351.66L623.7 1351.01L624.7 1350.36L625.7 1349.72L626.7 1349.07L627.7 1348.42L628.7 1347.77L629.7 1347.13L630.7 1346.48L631.7 1345.84L632.7 1345.20L633.7 1344.56L634.7 1343.93L635.7 1343.30L636.7 1342.67L637.7 1342.05L638.7 1341.44L639.7 1340.83L640.7 1340.22L641.7 1339.62L642.7 1339.03L643.7 1338.45L644.7 1337.87L645.7 1337.31L646.7 1336.75L647.7 1336.20L648.7 1335.67L649.7 1335.14L650.7 1334.62L651.7 1334.12L652.7 1333.62L653.7 1333.14L654.7 1332.67L655.7 1332.22L656.7 1331.78L657.7 1331.35L658.7 1330.94L659.7 1330.54L660.7 1330.16L661.7 1329.79L662.7 1329.44L663.7 1329.11L664.7 1328.79L665.7 1328.49L666.7 1328.21L667.7 1327.94L668.7 1327.69L669.7 1327.47L670.7 1327.25L671.7 1327.06L672.7 1326.89L673.7 1326.74L674.7 1326.60L675.7 1326.49L676.7 1326.39L677.7 1326.32L678.7 1326.26L679.7 1326.22L680.7 1326.21L681.7 1326.21L682.7 1326.23L683.7 1326.27L684.7 1326.34L685.7 1326.42L686.7 1326.52L687.7 1326.64L688.7 1326.78L689.7 1326.94L690.7 1327.12L691.7 1327.32L692.7 1327.54L693.7 1327.77L694.7 1328.02L695.7 1328.29L696.7 1328.58L697.7 1328.89L698.7 1329.21L699.7 1329.55L700.7 1329.91L701.7 1330.28L702.7 1330.67L703.7 1331.07L704.7 1331.48L705.7 1331.92L706.7 1332.36L707.7 1332.82L708.7 1333.29L709.7 1333.78L710.7 1334.28L711.7 1334.78L712.7 1335.30L713.7 1335.83L714.7 1336.38L715.7 1336.93L716.7 1337.49L717.7 1338.06L718.7 1338.63L719.7 1339.22L720.7 1339.81L721.7 1340.41L722.7 1341.02L723.7 1341.63L724.7 1342.25L725.7 1342.87L726.7 1343.50L727.7 1344.13L728.7 1344.76L729.7 1345.40L730.7 1346.04L731.7 1346.69L732.7 1347.33L733.7 1347.98L734.7 1348.63L735.7 1349.27L736.7 1349.92L737.7 1350.57L738.7 1351.22L739.7 1351.86L740.7 1352.51L741.7 1353.15L742.7 1353.79L743.7 1354.43L744.7 1355.07L745.7 1355.70L746.7 1356.33L747.7 1356.96L748.7 1357.58L749.7 1358.20L750.7 1358.82L751.7 1359.43L752.7 1360.03L753.7 1360.64L754.7 1361.23L755.7 1361.82L756.7 1362.40L757.7 1362.98L758.7 1363.56L759.7 1364.12L760.7 1364.68L761.7 1365.24L762.7 1365.78L763.7 1366.32L764.7 1366.86L765.7 1367.39L766.1 1367.59" stroke="#0072BD" stroke-width="2.0"/>
<path d="M93.7 1403.29L94.7 1401.85L95.7 1401.07L96.7 1400.54L97.7 1400.21L98.7 1399.89L99.7 1399.58L100.7 1399.28L101.7 1398.97L102.7 1398.67L103.7 1398.36L104.7 1398.05L105.7 1397.73L106.7 1397.42L107.7 1397.10L108.7 1396.78L109.7 1396.45L110.7 1396.13L111.7 1395.80L112.7 1395.47L113.7 1395.15L114.7 1394.81L115.7 1394.48L116.7 1394.15L117.7 1393.82L118.7 1393.48L119.7 1393.15L120.7 1392.81L121.7 1392.48L122.7 1392.14L123.7 1391.81L124.7 1391.47L125.7 1391.14L126.7 1390.81L127.7 1390.48L128.7 1390.15L129.7 1389.82L130.7 1389.49L131.7 1389.17L132.7 1388.85L133.7 1388.53L134.7 1388.22L135.7 1387.91L136.7 1387.60L137.7 1387.30L138.7 1387.00L139.7 1386.70L140.7 1386.41L141.7 1386.13L142.7 1385.85L143.7 1385.57L144.7 1385.30L145.7 1385.04L146.7 1384.79L147.7 1384.54L148.7 1384.30L149.7 1384.06L150.7 1383.83L151.7 1383.61L152.7 1383.40L153.7 1383.20L154.7 1383.00L155.7 1382.82L156.7 1382.64L157.7 1382.47L158.7 1382.32L159.7 1382.17L160.7 1382.03L161.7 1381.90L162.7 1381.78L163.7 1381.67L164.7 1381.57L165.7 1381.49L166.7 1381.41L167.7 1381.35L168.7 1381.29L169.7 1381.25L170.7 1381.22L171.7 1381.19L172.7 1381.19L173.7 1381.19L174.7 1381.20L175.7 1381.23L176.7 1381.26L177.7 1381.31L178.7 1381.37L179.7 1381.44L180.7 1381.52L181.7 1381.61L182.7 1381.72L183.7 1381.83L184.7 1381.96L185.7 1382.10L186.7 1382.24L187.7 1382.40L188.7 1382.57L189.7 1382.75L190.7 1382.94L191.7 1383.14L192.7 1383.35L193.7 1383.57L194.7 1383.80L195.7 1384.03L196.7 1384.28L197.7 1384.53L198.7 1384.80L199.7 1385.07L200.7 1385.35L201.7 1385.63L202.7 1385.93L203.7 1386.23L204.7 1386.54L205.7 1386.85L206.7 1387.17L207.7 1387.50L208.7 1387.83L209.7 1388.17L210.7 1388.51L211.7 1388.86L212.7 1389.21L213.7 1389.56L214.7 1389.92L215.7 1390.29L216.7 1390.65L217.7 1391.02L218.7 1391.39L219.7 1391.77L220.7 1392.14L221.7 1392.52L222.7 1392.90L223.7 1393.28L224.7 1393.66L225.7 1394.04L226.7 1394.42L227.7 1394.80L228.7 1395.19L229.7 1395.57L230.7 1395.95L231.7 1396.33L232.7 1396.71L233.7 1397.08L234.7 1397.46L235.7 1397.83L236.7 1398.20L237.7 1398.57L238.7 1398.94L239.7 1399.30L240.7 1399.66L241.7 1400.02L242.7 1400.38L243.7 1400.73L244.7 1401.08L245.7 1401.42L246.7 1401.76L247.7 1402.10L248.7 1402.44L249.7 1402.77L250.7 1403.09L251.7 1403.41L252.7 1403.73L253.7 1404.04L254.7 1404.35L255.7 1404.65L256.7 1404.95L257.7 1405.25L258.7 1405.54L259.7 1405.82L260.7 1406.10L261.7 1406.37L262.7 1406.64L263.7 1406.91L264.7 1407.17L265.7 1407.42L266.7 1407.67L267.7 1407.92L268.7 1408.16L269.7 1408.39L270.7 1408.62L271.7 1408.85L272.7 1409.07L273.7 1409.28L274.7 1409.49L275.7 1409.70L276.7 1409.90L277.7 1410.09L278.7 1410.28L279.7 1410.47L280.7 1410.65L281.7 1410.82L282.7 1410.99L283.7 1411.16L284.7 1411.32L285.7 1411.48L286.7 1411.63L287.7 1411.78L288.7 1411.92L289.7 1412.06L290.7 1412.19L291.7 1412.32L292.7 1412.45L293.7 1412.57L294.7 1412.69L295.7 1412.80L296.7 1412.91L297.7 1413.01L298.7 1413.11L299.7 1413.21L300.7 1413.30L301.7 1413.39L302.7 1413.47L303.7 1413.55L304.7 1413.63L305.7 1413.70L306.7 1413.77L307.7 1413.83L308.7 1413.90L309.7 1413.95L310.7 1414.01L311.7 1414.06L312.7 1414.11L313.7 1414.15L314.7 1414.20L315.7 1414.23L316.7 1414.27L317.7 1414.30L318.7 1414.33L319.7 1414.35L320.7 1414.38L321.7 1414.40L322.7 1414.41L323.7 1414.43L324.7 1414.44L325.7 1414.45L326.7 1414.45L327.7 1414.45L328.7 1414.45L329.7 1414.45L330.7 1414.44L331.7 1414.43L332.7 1414.42L333.7 1414.41L334.7 1414.39L335.7 1414.37L336.7 1414.35L337.7 1414.33L338.7 1414.30L339.7 1414.27L340.7 1414.24L341.7 1414.21L342.7 1414.17L343.7 1414.13L344.7 1414.09L345.7 1414.05L346.7 1414.00L347.7 1413.96L348.7 1413.91L349.7 1413.85L350.7 1413.80L351.7 1413.74L352.7 1413.68L353.7 1413.62L354.7 1413.56L355.7 1413.49L356.7 1413.42L357.7 1413.35L358.7 1413.28L359.7 1413.21L360.7 1413.13L361.7 1413.05L362.7 1412.97L363.7 1412.88L364.7 1412.80L365.7 1412.71L366.7 1412.62L367.7 1412.52L368.7 1412.43L369.7 1412.33L370.7 1412.23L371.7 1412.13L372.7 1412.02L373.7 1411.92L374.7 1411.81L375.7 1411.70L376.7 1411.58L377.7 1411.46L378.7 1411.34L379.7 1411.22L380.7 1411.10L381.7 1410.97L382.7 1410.84L383.7 1410.71L384.7 1410.58L385.7 1410.44L386.7 1410.30L387.7 1410.16L388.7 1410.01L389.7 1409.86L390.7 1409.71L391.7 1409.56L392.7 1409.40L393.7 1409.24L394.7 1409.08L395.7 1408.91L396.7 1408.75L397.7 1408.58L398.7 1408.40L399.7 1408.22L400.7 1408.04L401.7 1407.86L402.7 1407.67L403.7 1407.48L404.7 1407.29L405.7 1407.09L406.7 1406.89L407.7 1406.69L408.7 1406.49L409.7 1406.28L410.7 1406.06L411.7 1405.85L412.7 1405.63L413.7 1405.40L414.7 1405.18L415.7 1404.95L416.7 1404.72L417.7 1404.48L418.7 1404.24L419.7 1403.99L420.7 1403.75L421.7 1403.50L422.7 1403.24L423.7 1402.99L424.7 1402.72L425.7 1402.46L426.7 1402.19L427.7 1401.92L428.7 1401.65L429.7 1401.37L430.7 1401.09L431.7 1400.80L432.7 1400.52L433.7 1400.22L434.7 1399.93L435.7 1399.63L436.7 1399.33L437.7 1399.03L438.7 1398.73L439.7 1398.42L440.7 1398.11L441.7 1397.79L442.7 1397.48L443.7 1397.16L444.7 1396.84L445.7 1396.52L446.7 1396.19L447.7 1395.87L448.7 1395.54L449.7 1395.21L450.7 1394.88L451.7 1394.55L452.7 1394.22L453.7 1393.88L454.7 1393.55L455.7 1393.21L456.7 1392.88L457.7 1392.54L458.7 1392.21L459.7 1391.87L460.7 1391.54L461.7 1391.21L462.7 1390.87L463.7 1390.54L464.7 1390.21L465.7 1389.89L466.7 1389.56L467.7 1389.24L468.7 1388.92L469.7 1388.60L470.7 1388.28L471.7 1387.97L472.7 1387.66L473.7 1387.36L474.7 1387.06L475.7 1386.76L476.7 1386.47L477.7 1386.18L478.7 1385.90L479.7 1385.63L480.7 1385.36L481.7 1385.09L482.7 1384.84L483.7 1384.59L484.7 1384.34L485.7 1384.11L486.7 1383.88L487.7 1383.66L488.7 1383.44L489.7 1383.24L490.7 1383.04L491.7 1382.85L492.7 1382.68L493.7 1382.51L494.7 1382.35L495.7 1382.20L496.7 1382.05L497.7 1381.92L498.7 1381.80L499.7 1381.69L500.7 1381.59L501.7 1381.50L502.7 1381.43L503.7 1381.36L504.7 1381.30L505.7 1381.26L506.7 1381.22L507.7 1381.20L508.7 1381.19L509.7 1381.19L510.7 1381.20L511.7 1381.22L512.7 1381.25L513.7 1381.30L514.7 1381.36L515.7 1381.42L516.7 1381.50L517.7 1381.59L518.7 1381.70L519.7 1381.81L520.7 1381.93L521.7 1382.07L522.7 1382.21L523.7 1382.37L524.7 1382.54L525.7 1382.71L526.7 1382.90L527.7 1383.10L528.7 1383.31L529.7 1383.52L530.7 1383.75L531.7 1383.98L532.7 1384.23L533.7 1384.48L534.7 1384.74L535.7 1385.01L536.7 1385.29L537.7 1385.58L538.7 1385.87L539.7 1386.17L540.7 1386.48L541.7 1386.79L542.7 1387.11L543.7 1387.43L544.7 1387.76L545.7 1388.10L546.7 1388.44L547.7 1388.79L548.7 1389.14L549.7 1389.49L550.7 1389.85L551.7 1390.21L552.7 1390.58L553.7 1390.95L554.7 1391.32L555.7 1391.69L556.7 1392.07L557.7 1392.44L558.7 1392.82L559.7 1393.20L560.7 1393.58L561.7 1393.96L562.7 1394.35L563.7 1394.73L564.7 1395.11L565.7 1395.49L566.7 1395.87L567.7 1396.25L568.7 1396.63L569.7 1397.01L570.7 1397.38L571.7 1397.76L572.7 1398.13L573.7 1398.50L574.7 1398.86L575.7 1399.23L576.7 1399.59L577.7 1399.95L578.7 1400.31L579.7 1400.66L580.7 1401.01L581.7 1401.35L582.7 1401.70L583.7 1402.03L584.7 1402.37L585.7 1402.70L586.7 1403.03L587.7 1403.35L588.7 1403.67L589.7 1403.98L590.7 1404.29L591.7 1404.59L592.7 1404.89L593.7 1405.19L594.7 1405.48L595.7 1405.76L596.7 1406.04L597.7 1406.32L598.7 1406.59L599.7 1406.86L600.7 1407.12L601.7 1407.37L602.7 1407.62L603.7 1407.87L604.7 1408.11L605.7 1408.35L606.7 1408.58L607.7 1408.80L608.7 1409.02L609.7 1409.24L610.7 1409.45L611.7 1409.66L612.7 1409.86L613.7 1410.05L614.7 1410.25L615.7 1410.43L616.7 1410.61L617.7 1410.79L618.7 1410.96L619.7 1411.13L620.7 1411.29L621.7 1411.45L622.7 1411.60L623.7 1411.75L624.7 1411.89L625.7 1412.03L626.7 1412.17L627.7 1412.30L628.7 1412.42L629.7 1412.54L630.7 1412.66L631.7 1412.78L632.7 1412.88L633.7 1412.99L634.7 1413.09L635.7 1413.19L636.7 1413.28L637.7 1413.37L638.7 1413.45L639.7 1413.53L640.7 1413.61L641.7 1413.69L642.7 1413.76L643.7 1413.82L644.7 1413.88L645.7 1413.94L646.7 1414.00L647.7 1414.05L648.7 1414.10L649.7 1414.15L650.7 1414.19L651.7 1414.23L652.7 1414.26L653.7 1414.29L654.7 1414.32L655.7 1414.35L656.7 1414.37L657.7 1414.39L658.7 1414.41L659.7 1414.42L660.7 1414.44L661.7 1414.44L662.7 1414.45L663.7 1414.45L664.7 1414.45L665.7 1414.45L666.7 1414.44L667.7 1414.44L668.7 1414.43L669.7 1414.41L670.7 1414.40L671.7 1414.38L672.7 1414.36L673.7 1414.33L674.7 1414.31L675.7 1414.28L676.7 1414.25L677.7 1414.22L678.7 1414.18L679.7 1414.14L680.7 1414.10L681.7 1414.06L682.7 1414.01L683.7 1413.97L684.7 1413.92L685.7 1413.87L686.7 1413.81L687.7 1413.75L688.7 1413.70L689.7 1413.63L690.7 1413.57L691.7 1413.51L692.7 1413.44L693.7 1413.37L694.7 1413.30L695.7 1413.22L696.7 1413.14L697.7 1413.07L698.7 1412.98L699.7 1412.90L700.7 1412.81L701.7 1412.73L702.7 1412.64L703.7 1412.54L704.7 1412.45L705.7 1412.35L706.7 1412.25L707.7 1412.15L708.7 1412.04L709.7 1411.94L710.7 1411.83L711.7 1411.72L712.7 1411.60L713.7 1411.49L714.7 1411.37L715.7 1411.25L716.7 1411.12L717.7 1411.00L718.7 1410.87L719.7 1410.74L720.7 1410.60L721.7 1410.47L722.7 1410.33L723.7 1410.18L724.7 1410.04L725.7 1409.89L726.7 1409.74L727.7 1409.59L728.7 1409.43L729.7 1409.27L730.7 1409.11L731.7 1408.95L732.7 1408.78L733.7 1408.61L734.7 1408.44L735.7 1408.26L736.7 1408.08L737.7 1407.90L738.7 1407.71L739.7 1407.52L740.7 1407.33L741.7 1407.13L742.7 1406.93L743.7 1406.73L744.7 1406.53L745.7 1406.32L746.7 1406.11L747.7 1405.89L748.7 1405.67L749.7 1405.45L750.7 1405.22L751.7 1404.99L752.7 1404.76L753.7 1404.53L754.7 1404.29L755.7 1404.04L756.7 1403.80L757.7 1403.55L758.7 1403.29L759.7 1403.04L760.7 1402.78L761.7 1402.51L762.7 1402.25L763.7 1401.98L764.7 1401.70L765.7 1401.42L766.1 1401.31" stroke="#D95319" stroke-width="2.3"/>
<path d="M93.7 1392.90L94.7 1388.58L95.7 1386.73L96.7 1384.68L97.7 1384.52L98.7 1383.62L99.7 1382.55L100.7 1382.58L101.7 1381.85L102.7 1380.77L103.7 1380.80L104.7 1380.16L105.7 1379.03L106.7 1379.01L107.7 1378.44L108.7 1377.26L109.7 1377.19L110.7 1376.68L111.7 1375.46L112.7 1375.34L113.7 1374.89L114.7 1373.64L115.7 1373.45L116.7 1373.07L117.7 1371.80L118.7 1371.55L119.7 1371.24L120.7 1369.96L121.7 1369.64L122.7 1369.39L123.7 1368.12L124.7 1367.74L125.7 1367.55L126.7 1366.29L127.7 1365.84L128.7 1365.71L129.7 1364.49L130.7 1363.98L131.7 1363.91L132.7 1362.73L133.7 1362.15L134.7 1362.14L135.7 1361.01L136.7 1360.38L137.7 1360.42L138.7 1359.36L139.7 1358.68L140.7 1358.76L141.7 1357.78L142.7 1357.06L143.7 1357.19L144.7 1356.30L145.7 1355.54L146.7 1355.72L147.7 1354.92L148.7 1354.13L149.7 1354.35L150.7 1353.67L151.7 1352.86L152.7 1353.11L153.7 1352.54L154.7 1351.72L155.7 1352.00L156.7 1351.56L157.7 1350.74L158.7 1351.05L159.7 1350.74L160.7 1349.93L161.7 1350.26L162.7 1350.08L163.7 1349.29L164.7 1349.64L165.7 1349.59L166.7 1348.84L167.7 1349.20L168.7 1349.29L169.7 1348.58L170.7 1348.95L171.7 1349.18L172.7 1348.52L173.7 1348.90L174.7 1349.26L175.7 1348.66L176.7 1349.04L177.7 1349.52L178.7 1349.01L179.7 1349.37L180.7 1349.98L181.7 1349.55L182.7 1349.90L183.7 1350.63L184.7 1350.28L185.7 1350.63L186.7 1351.47L187.7 1351.21L188.7 1351.54L189.7 1352.47L190.7 1352.31L191.7 1352.63L192.7 1353.65L193.7 1353.59L194.7 1353.89L195.7 1354.99L196.7 1355.03L197.7 1355.31L198.7 1356.47L199.7 1356.62L200.7 1356.87L201.7 1358.08L202.7 1358.34L203.7 1358.57L204.7 1359.81L205.7 1360.18L206.7 1360.38L207.7 1361.65L208.7 1362.12L209.7 1362.30L210.7 1363.58L211.7 1364.15L212.7 1364.30L213.7 1365.58L214.7 1366.24L215.7 1366.38L216.7 1367.63L217.7 1368.39L218.7 1368.51L219.7 1369.73L220.7 1370.58L221.7 1370.68L222.7 1371.86L223.7 1372.79L224.7 1372.87L225.7 1374.00L226.7 1375.00L227.7 1375.08L228.7 1376.14L229.7 1377.20L230.7 1377.28L231.7 1378.27L232.7 1379.39L233.7 1379.46L234.7 1380.37L235.7 1381.54L236.7 1381.61L237.7 1382.44L238.7 1383.64L239.7 1383.73L240.7 1384.46L241.7 1385.69L242.7 1385.79L243.7 1386.43L244.7 1387.68L245.7 1387.80L246.7 1388.34L247.7 1389.59L248.7 1389.74L249.7 1390.19L250.7 1391.43L251.7 1391.61L252.7 1391.96L253.7 1393.19L254.7 1393.40L255.7 1393.65L256.7 1394.86L257.7 1395.11L258.7 1395.27L259.7 1396.45L260.7 1396.74L261.7 1396.81L262.7 1397.94L263.7 1398.27L264.7 1398.26L265.7 1399.34L266.7 1399.72L267.7 1399.63L268.7 1400.65L269.7 1401.08L270.7 1400.92L271.7 1401.87L272.7 1402.34L273.7 1402.12L274.7 1403.00L275.7 1403.52L276.7 1403.25L277.7 1404.04L278.7 1404.60L279.7 1404.29L280.7 1404.99L281.7 1405.60L282.7 1405.25L283.7 1405.86L284.7 1406.50L285.7 1406.13L286.7 1406.65L287.7 1407.33L288.7 1406.94L289.7 1407.36L290.7 1408.07L291.7 1407.67L292.7 1408.00L293.7 1408.72L294.7 1408.33L295.7 1408.56L296.7 1409.30L297.7 1408.92L298.7 1409.05L299.7 1409.81L300.7 1409.45L301.7 1409.48L302.7 1410.24L303.7 1409.91L304.7 1409.84L305.7 1410.60L306.7 1410.30L307.7 1410.15L308.7 1410.89L309.7 1410.64L310.7 1410.39L311.7 1411.12L312.7 1410.92L313.7 1410.59L314.7 1411.29L315.7 1411.14L316.7 1410.73L317.7 1411.40L318.7 1411.30L319.7 1410.83L320.7 1411.45L321.7 1411.41L322.7 1410.88L323.7 1411.45L324.7 1411.47L325.7 1410.88L326.7 1411.40L327.7 1411.48L328.7 1410.85L329.7 1411.30L330.7 1411.44L331.7 1410.77L332.7 1411.16L333.7 1411.35L334.7 1410.66L335.7 1410.97L336.7 1411.22L337.7 1410.50L338.7 1410.74L339.7 1411.04L340.7 1410.32L341.7 1410.47L342.7 1410.82L343.7 1410.10L344.7 1410.17L345.7 1410.55L346.7 1409.84L347.7 1409.82L348.7 1410.24L349.7 1409.55L350.7 1409.44L351.7 1409.89L352.7 1409.22L353.7 1409.03L354.7 1409.50L355.7 1408.87L356.7 1408.59L357.7 1409.07L358.7 1408.47L359.7 1408.11L360.7 1408.60L361.7 1408.05L362.7 1407.60L363.7 1408.09L364.7 1407.59L365.7 1407.06L366.7 1407.53L367.7 1407.09L368.7 1406.49L369.7 1406.94L370.7 1406.55L371.7 1405.89L372.7 1406.31L373.7 1405.98L374.7 1405.26L375.7 1405.63L376.7 1405.37L377.7 1404.59L378.7 1404.92L379.7 1404.72L380.7 1403.89L381.7 1404.16L382.7 1404.03L383.7 1403.15L384.7 1403.37L385.7 1403.29L386.7 1402.38L387.7 1402.53L388.7 1402.50L389.7 1401.57L390.7 1401.64L391.7 1401.67L392.7 1400.73L393.7 1400.71L394.7 1400.79L395.7 1399.84L396.7 1399.74L397.7 1399.86L398.7 1398.91L399.7 1398.72L400.7 1398.88L401.7 1397.93L402.7 1397.65L403.7 1397.84L404.7 1396.90L405.7 1396.53L406.7 1396.74L407.7 1395.83L408.7 1395.37L409.7 1395.59L410.7 1394.70L411.7 1394.15L412.7 1394.37L413.7 1393.53L414.7 1392.88L415.7 1393.10L416.7 1392.29L417.7 1391.56L418.7 1391.77L419.7 1391.00L420.7 1390.18L421.7 1390.37L422.7 1389.66L423.7 1388.76L424.7 1388.91L425.7 1388.25L426.7 1387.28L427.7 1387.40L428.7 1386.79L429.7 1385.75L430.7 1385.82L431.7 1385.27L432.7 1384.17L433.7 1384.19L434.7 1383.70L435.7 1382.55L436.7 1382.50L437.7 1382.07L438.7 1380.88L439.7 1380.76L440.7 1380.39L441.7 1379.17L442.7 1378.98L443.7 1378.67L444.7 1377.42L445.7 1377.16L446.7 1376.90L447.7 1375.64L448.7 1375.30L449.7 1375.09L450.7 1373.84L451.7 1373.42L452.7 1373.26L453.7 1372.02L454.7 1371.52L455.7 1371.41L456.7 1370.19L457.7 1369.62L458.7 1369.55L459.7 1368.36L460.7 1367.72L461.7 1367.69L462.7 1366.55L463.7 1365.83L464.7 1365.83L465.7 1364.75L466.7 1363.97L467.7 1364.01L468.7 1362.99L469.7 1362.15L470.7 1362.22L471.7 1361.28L472.7 1360.39L473.7 1360.48L474.7 1359.62L475.7 1358.70L476.7 1358.80L477.7 1358.05L478.7 1357.09L479.7 1357.21L480.7 1356.56L481.7 1355.58L482.7 1355.71L483.7 1355.17L484.7 1354.18L485.7 1354.32L486.7 1353.90L487.7 1352.91L488.7 1353.06L489.7 1352.75L490.7 1351.79L491.7 1351.93L492.7 1351.76L493.7 1350.81L494.7 1350.96L495.7 1350.91L496.7 1350.01L497.7 1350.15L498.7 1350.23L499.7 1349.38L500.7 1349.52L501.7 1349.72L502.7 1348.93L503.7 1349.07L504.7 1349.39L505.7 1348.68L506.7 1348.80L507.7 1349.25L508.7 1348.62L509.7 1348.74L510.7 1349.29L511.7 1348.76L512.7 1348.87L513.7 1349.53L514.7 1349.10L515.7 1349.20L516.7 1349.96L517.7 1349.64L518.7 1349.73L519.7 1350.58L520.7 1350.37L521.7 1350.45L522.7 1351.38L523.7 1351.29L524.7 1351.36L525.7 1352.36L526.7 1352.39L527.7 1352.45L528.7 1353.51L529.7 1353.66L530.7 1353.71L531.7 1354.82L532.7 1355.09L533.7 1355.13L534.7 1356.27L535.7 1356.67L536.7 1356.71L537.7 1357.86L538.7 1358.38L539.7 1358.41L540.7 1359.58L541.7 1360.20L542.7 1360.24L543.7 1361.40L544.7 1362.13L545.7 1362.17L546.7 1363.31L547.7 1364.14L548.7 1364.18L549.7 1365.29L550.7 1366.22L551.7 1366.27L552.7 1367.34L553.7 1368.36L554.7 1368.42L555.7 1369.43L556.7 1370.53L557.7 1370.60L558.7 1371.56L559.7 1372.72L560.7 1372.81L561.7 1373.70L562.7 1374.91L563.7 1375.03L564.7 1375.84L565.7 1377.10L566.7 1377.24L567.7 1377.98L568.7 1379.27L569.7 1379.44L570.7 1380.09L571.7 1381.40L572.7 1381.61L573.7 1382.17L574.7 1383.49L575.7 1383.73L576.7 1384.21L577.7 1385.53L578.7 1385.81L579.7 1386.19L580.7 1387.50L581.7 1387.82L582.7 1388.12L583.7 1389.40L584.7 1389.77L585.7 1389.98L586.7 1391.23L587.7 1391.65L588.7 1391.77L589.7 1392.98L590.7 1393.44L591.7 1393.49L592.7 1394.64L593.7 1395.15L594.7 1395.13L595.7 1396.22L596.7 1396.78L597.7 1396.69L598.7 1397.71L599.7 1398.31L600.7 1398.17L601.7 1399.11L602.7 1399.76L603.7 1399.57L604.7 1400.42L605.7 1401.11L606.7 1400.88L607.7 1401.64L608.7 1402.36L609.7 1402.10L610.7 1402.77L611.7 1403.53L612.7 1403.25L613.7 1403.82L614.7 1404.60L615.7 1404.31L616.7 1404.78L617.7 1405.59L618.7 1405.29L619.7 1405.65L620.7 1406.49L621.7 1406.19L622.7 1406.45L623.7 1407.30L624.7 1407.01L625.7 1407.17L626.7 1408.02L627.7 1407.76L628.7 1407.82L629.7 1408.67L630.7 1408.44L631.7 1408.40L632.7 1409.23L633.7 1409.04L634.7 1408.91L635.7 1409.73L636.7 1409.57L637.7 1409.36L638.7 1410.14L639.7 1410.04L640.7 1409.74L641.7 1410.49L642.7 1410.44L643.7 1410.06L644.7 1410.78L645.7 1410.77L646.7 1410.33L647.7 1411.00L648.7 1411.05L649.7 1410.55L650.7 1411.16L651.7 1411.27L652.7 1410.71L653.7 1411.26L654.7 1411.43L655.7 1410.83L656.7 1411.31L657.7 1411.53L658.7 1410.90L659.7 1411.31L660.7 1411.58L661.7 1410.93L662.7 1411.25L663.7 1411.58L664.7 1410.91L665.7 1411.15L666.7 1411.53L667.7 1410.85L668.7 1411.01L669.7 1411.43L670.7 1410.76L671.7 1410.83L672.7 1411.28L673.7 1410.62L674.7 1410.61L675.7 1411.09L676.7 1410.45L677.7 1410.34L678.7 1410.85L679.7 1410.24L680.7 1410.05L681.7 1410.57L682.7 1410.00L683.7 1409.72L684.7 1410.25L685.7 1409.72L686.7 1409.35L687.7 1409.88L688.7 1409.40L689.7 1408.95L690.7 1409.48L691.7 1409.05L692.7 1408.53L693.7 1409.03L694.7 1408.66L695.7 1408.07L696.7 1408.54L697.7 1408.23L698.7 1407.58L699.7 1408.02L700.7 1407.77L701.7 1407.06L702.7 1407.46L703.7 1407.27L704.7 1406.51L705.7 1406.85L706.7 1406.73L707.7 1405.93L708.7 1406.21L709.7 1406.16L710.7 1405.31L711.7 1405.53L712.7 1405.54L713.7 1404.67L714.7 1404.82L715.7 1404.88L716.7 1403.98L717.7 1404.06L718.7 1404.17L719.7 1403.27L720.7 1403.26L721.7 1403.42L722.7 1402.52L723.7 1402.42L724.7 1402.62L725.7 1401.73L726.7 1401.55L727.7 1401.78L728.7 1400.89L729.7 1400.62L730.7 1400.88L731.7 1400.02L732.7 1399.66L733.7 1399.94L734.7 1399.10L735.7 1398.65L736.7 1398.94L737.7 1398.14L738.7 1397.59L739.7 1397.88L740.7 1397.12L741.7 1396.49L742.7 1396.77L743.7 1396.06L744.7 1395.34L745.7 1395.61L746.7 1394.94L747.7 1394.14L748.7 1394.38L749.7 1393.76L750.7 1392.89L751.7 1393.10L752.7 1392.53L753.7 1391.59L754.7 1391.75L755.7 1391.25L756.7 1390.24L757.7 1390.35L758.7 1389.90L759.7 1388.84L760.7 1388.88L761.7 1388.49L762.7 1387.38L763.7 1387.36L764.7 1387.02L765.7 1385.87L766.1 1385.69" stroke="#0072BD" stroke-width="2.5"/>
<path d="M93.7 1285.11L94.7 1284.64L95.7 1285.61L96.7 1287.30L97.7 1288.80L98.7 1290.40L99.7 1292.06L100.7 1293.73L101.7 1295.41L102.7 1297.07L103.7 1298.72L104.7 1300.34L105.7 1301.94L106.7 1303.52L107.7 1305.06L108.7 1306.57L109.7 1308.06L110.7 1309.52L111.7 1310.95L112.7 1312.35L113.7 1313.72L114.7 1315.07L115.7 1316.38L116.7 1317.67L117.7 1318.93L118.7 1320.16L119.7 1321.37L120.7 1322.55L121.7 1323.70L122.7 1324.82L123.7 1325.92L124.7 1326.99L125.7 1328.04L126.7 1329.06L127.7 1330.05L128.7 1331.02L129.7 1331.96L130.7 1332.88L131.7 1333.78L132.7 1334.65L133.7 1335.50L134.7 1336.32L135.7 1337.12L136.7 1337.90L137.7 1338.65L138.7 1339.38L139.7 1340.09L140.7 1340.78L141.7 1341.45L142.7 1342.09L143.7 1342.71L144.7 1343.31L145.7 1343.89L146.7 1344.45L147.7 1344.99L148.7 1345.51L149.7 1346.01L150.7 1346.49L151.7 1346.95L152.7 1347.39L153.7 1347.81L154.7 1348.21L155.7 1348.59L156.7 1348.95L157.7 1349.30L158.7 1349.62L159.7 1349.93L160.7 1350.22L161.7 1350.49L162.7 1350.75L163.7 1350.98L164.7 1351.20L165.7 1351.40L166.7 1351.58L167.7 1351.75L168.7 1351.89L169.7 1352.02L170.7 1352.13L171.7 1352.23L172.7 1352.31L173.7 1352.37L174.7 1352.41L175.7 1352.44L176.7 1352.45L177.7 1352.44L178.7 1352.42L179.7 1352.37L180.7 1352.31L181.7 1352.24L182.7 1352.14L183.7 1352.03L184.7 1351.90L185.7 1351.76L186.7 1351.59L187.7 1351.41L188.7 1351.22L189.7 1351.00L190.7 1350.77L191.7 1350.51L192.7 1350.24L193.7 1349.96L194.7 1349.65L195.7 1349.33L196.7 1348.98L197.7 1348.62L198.7 1348.24L199.7 1347.84L200.7 1347.42L201.7 1346.98L202.7 1346.53L203.7 1346.05L204.7 1345.55L205.7 1345.04L206.7 1344.50L207.7 1343.94L208.7 1343.36L209.7 1342.76L210.7 1342.14L211.7 1341.50L212.7 1340.84L213.7 1340.15L214.7 1339.44L215.7 1338.71L216.7 1337.96L217.7 1337.19L218.7 1336.39L219.7 1335.57L220.7 1334.72L221.7 1333.85L222.7 1332.96L223.7 1332.04L224.7 1331.10L225.7 1330.13L226.7 1329.14L227.7 1328.12L228.7 1327.08L229.7 1326.01L230.7 1324.91L231.7 1323.79L232.7 1322.64L233.7 1321.47L234.7 1320.26L235.7 1319.03L236.7 1317.78L237.7 1316.49L238.7 1315.18L239.7 1313.84L240.7 1312.47L241.7 1311.07L242.7 1309.64L243.7 1308.18L244.7 1306.70L245.7 1305.18L246.7 1303.64L247.7 1302.06L248.7 1300.46L249.7 1298.83L250.7 1297.17L251.7 1295.48L252.7 1293.76L253.7 1292.01L254.7 1290.23L255.7 1288.42L256.7 1286.58L257.7 1284.71L258.7 1282.82L259.7 1280.89L260.7 1278.94L261.7 1276.96L262.7 1274.95L263.7 1272.92L264.7 1270.85L265.7 1268.76L266.7 1266.65L267.7 1264.50L268.7 1262.34L269.7 1260.15L270.7 1257.93L271.7 1255.69L272.7 1253.43L273.7 1251.14L274.7 1248.84L275.7 1246.51L276.7 1244.17L277.7 1241.80L278.7 1239.42L279.7 1237.02L280.7 1234.61L281.7 1232.18L282.7 1229.74L283.7 1227.28L284.7 1224.82L285.7 1222.34L286.7 1219.86L287.7 1217.37L288.7 1214.87L289.7 1212.37L290.7 1209.87L291.7 1207.36L292.7 1204.86L293.7 1202.36L294.7 1199.86L295.7 1197.37L296.7 1194.89L297.7 1192.41L298.7 1189.95L299.7 1187.50L300.7 1185.06L301.7 1182.64L302.7 1180.24L303.7 1177.86L304.7 1175.50L305.7 1173.16L306.7 1170.85L307.7 1168.57L308.7 1166.32L309.7 1164.10L310.7 1161.92L311.7 1159.77L312.7 1157.66L313.7 1155.59L314.7 1153.56L315.7 1151.58L316.7 1149.64L317.7 1147.75L318.7 1145.91L319.7 1144.12L320.7 1142.39L321.7 1140.71L322.7 1139.09L323.7 1137.52L324.7 1136.02L325.7 1134.58L326.7 1133.20L327.7 1131.89L328.7 1130.64L329.7 1129.46L330.7 1128.35L331.7 1127.31L332.7 1126.34L333.7 1125.45L334.7 1124.62L335.7 1123.87L336.7 1123.20L337.7 1122.61L338.7 1122.08L339.7 1121.64L340.7 1121.28L341.7 1120.99L342.7 1120.78L343.7 1120.65L344.7 1120.60L345.7 1120.63L346.7 1120.74L347.7 1120.92L348.7 1121.19L349.7 1121.53L350.7 1121.95L351.7 1122.45L352.7 1123.03L353.7 1123.68L354.7 1124.40L355.7 1125.21L356.7 1126.08L357.7 1127.03L358.7 1128.05L359.7 1129.14L360.7 1130.30L361.7 1131.53L362.7 1132.82L363.7 1134.18L364.7 1135.61L365.7 1137.09L366.7 1138.64L367.7 1140.25L368.7 1141.91L369.7 1143.63L370.7 1145.40L371.7 1147.23L372.7 1149.10L373.7 1151.03L374.7 1153.00L375.7 1155.01L376.7 1157.07L377.7 1159.17L378.7 1161.31L379.7 1163.48L380.7 1165.69L381.7 1167.93L382.7 1170.20L383.7 1172.51L384.7 1174.83L385.7 1177.19L386.7 1179.56L387.7 1181.96L388.7 1184.37L389.7 1186.81L390.7 1189.25L391.7 1191.71L392.7 1194.19L393.7 1196.67L394.7 1199.16L395.7 1201.65L396.7 1204.15L397.7 1206.66L398.7 1209.16L399.7 1211.66L400.7 1214.16L401.7 1216.66L402.7 1219.15L403.7 1221.64L404.7 1224.12L405.7 1226.58L406.7 1229.04L407.7 1231.49L408.7 1233.92L409.7 1236.34L410.7 1238.74L411.7 1241.13L412.7 1243.50L413.7 1245.85L414.7 1248.18L415.7 1250.49L416.7 1252.78L417.7 1255.05L418.7 1257.30L419.7 1259.52L420.7 1261.72L421.7 1263.89L422.7 1266.04L423.7 1268.17L424.7 1270.26L425.7 1272.34L426.7 1274.38L427.7 1276.40L428.7 1278.38L429.7 1280.35L430.7 1282.28L431.7 1284.18L432.7 1286.06L433.7 1287.90L434.7 1289.72L435.7 1291.51L436.7 1293.26L437.7 1294.99L438.7 1296.69L439.7 1298.36L440.7 1300.00L441.7 1301.61L442.7 1303.20L443.7 1304.75L444.7 1306.27L445.7 1307.77L446.7 1309.23L447.7 1310.67L448.7 1312.07L449.7 1313.45L450.7 1314.80L451.7 1316.12L452.7 1317.42L453.7 1318.68L454.7 1319.92L455.7 1321.13L456.7 1322.31L457.7 1323.47L458.7 1324.60L459.7 1325.70L460.7 1326.78L461.7 1327.83L462.7 1328.85L463.7 1329.85L464.7 1330.83L465.7 1331.78L466.7 1332.70L467.7 1333.60L468.7 1334.48L469.7 1335.33L470.7 1336.16L471.7 1336.96L472.7 1337.74L473.7 1338.50L474.7 1339.24L475.7 1339.95L476.7 1340.64L477.7 1341.31L478.7 1341.96L479.7 1342.59L480.7 1343.19L481.7 1343.78L482.7 1344.34L483.7 1344.89L484.7 1345.41L485.7 1345.91L486.7 1346.39L487.7 1346.86L488.7 1347.30L489.7 1347.72L490.7 1348.13L491.7 1348.51L492.7 1348.88L493.7 1349.23L494.7 1349.56L495.7 1349.87L496.7 1350.16L497.7 1350.44L498.7 1350.70L499.7 1350.94L500.7 1351.16L501.7 1351.36L502.7 1351.55L503.7 1351.71L504.7 1351.86L505.7 1352.00L506.7 1352.11L507.7 1352.21L508.7 1352.29L509.7 1352.36L510.7 1352.41L511.7 1352.44L512.7 1352.45L513.7 1352.44L514.7 1352.42L515.7 1352.38L516.7 1352.33L517.7 1352.25L518.7 1352.16L519.7 1352.06L520.7 1351.93L521.7 1351.79L522.7 1351.63L523.7 1351.45L524.7 1351.26L525.7 1351.04L526.7 1350.81L527.7 1350.57L528.7 1350.30L529.7 1350.02L530.7 1349.71L531.7 1349.39L532.7 1349.05L533.7 1348.69L534.7 1348.32L535.7 1347.92L536.7 1347.51L537.7 1347.07L538.7 1346.62L539.7 1346.15L540.7 1345.65L541.7 1345.14L542.7 1344.61L543.7 1344.05L544.7 1343.48L545.7 1342.88L546.7 1342.27L547.7 1341.63L548.7 1340.97L549.7 1340.29L550.7 1339.59L551.7 1338.86L552.7 1338.11L553.7 1337.34L554.7 1336.55L555.7 1335.73L556.7 1334.89L557.7 1334.03L558.7 1333.14L559.7 1332.23L560.7 1331.29L561.7 1330.33L562.7 1329.34L563.7 1328.33L564.7 1327.29L565.7 1326.23L566.7 1325.13L567.7 1324.02L568.7 1322.87L569.7 1321.70L570.7 1320.51L571.7 1319.28L572.7 1318.03L573.7 1316.75L574.7 1315.44L575.7 1314.11L576.7 1312.74L577.7 1311.35L578.7 1309.93L579.7 1308.48L580.7 1307.00L581.7 1305.49L582.7 1303.95L583.7 1302.38L584.7 1300.79L585.7 1299.16L586.7 1297.50L587.7 1295.82L588.7 1294.10L589.7 1292.36L590.7 1290.59L591.7 1288.78L592.7 1286.95L593.7 1285.09L594.7 1283.20L595.7 1281.28L596.7 1279.33L597.7 1277.36L598.7 1275.36L599.7 1273.33L600.7 1271.27L601.7 1269.18L602.7 1267.07L603.7 1264.94L604.7 1262.77L605.7 1260.59L606.7 1258.37L607.7 1256.14L608.7 1253.88L609.7 1251.60L610.7 1249.30L611.7 1246.98L612.7 1244.64L613.7 1242.28L614.7 1239.90L615.7 1237.50L616.7 1235.09L617.7 1232.66L618.7 1230.22L619.7 1227.77L620.7 1225.31L621.7 1222.84L622.7 1220.35L623.7 1217.87L624.7 1215.37L625.7 1212.87L626.7 1210.37L627.7 1207.87L628.7 1205.36L629.7 1202.86L630.7 1200.36L631.7 1197.87L632.7 1195.38L633.7 1192.91L634.7 1190.44L635.7 1187.99L636.7 1185.55L637.7 1183.12L638.7 1180.72L639.7 1178.33L640.7 1175.97L641.7 1173.63L642.7 1171.31L643.7 1169.03L644.7 1166.77L645.7 1164.54L646.7 1162.35L647.7 1160.20L648.7 1158.08L649.7 1156.00L650.7 1153.97L651.7 1151.97L652.7 1150.03L653.7 1148.13L654.7 1146.28L655.7 1144.48L656.7 1142.73L657.7 1141.04L658.7 1139.41L659.7 1137.83L660.7 1136.32L661.7 1134.86L662.7 1133.47L663.7 1132.14L664.7 1130.88L665.7 1129.69L666.7 1128.57L667.7 1127.51L668.7 1126.53L669.7 1125.62L670.7 1124.78L671.7 1124.02L672.7 1123.33L673.7 1122.72L674.7 1122.18L675.7 1121.72L676.7 1121.34L677.7 1121.04L678.7 1120.82L679.7 1120.67L680.7 1120.61L681.7 1120.62L682.7 1120.71L683.7 1120.88L684.7 1121.13L685.7 1121.46L686.7 1121.86L687.7 1122.34L688.7 1122.90L689.7 1123.54L690.7 1124.25L691.7 1125.04L692.7 1125.90L693.7 1126.83L694.7 1127.84L695.7 1128.92L696.7 1130.06L697.7 1131.28L698.7 1132.56L699.7 1133.90L700.7 1135.32L701.7 1136.79L702.7 1138.32L703.7 1139.92L704.7 1141.57L705.7 1143.28L706.7 1145.04L707.7 1146.86L708.7 1148.72L709.7 1150.64L710.7 1152.60L711.7 1154.61L712.7 1156.66L713.7 1158.75L714.7 1160.88L715.7 1163.04L716.7 1165.25L717.7 1167.48L718.7 1169.75L719.7 1172.04L720.7 1174.37L721.7 1176.71L722.7 1179.09L723.7 1181.48L724.7 1183.89L725.7 1186.32L726.7 1188.76L727.7 1191.22L728.7 1193.69L729.7 1196.17L730.7 1198.66L731.7 1201.15L732.7 1203.65L733.7 1206.16L734.7 1208.66L735.7 1211.16L736.7 1213.66L737.7 1216.16L738.7 1218.66L739.7 1221.14L740.7 1223.62L741.7 1226.09L742.7 1228.55L743.7 1231.00L744.7 1233.44L745.7 1235.86L746.7 1238.26L747.7 1240.65L748.7 1243.03L749.7 1245.38L750.7 1247.72L751.7 1250.03L752.7 1252.33L753.7 1254.60L754.7 1256.85L755.7 1259.08L756.7 1261.28L757.7 1263.46L758.7 1265.62L759.7 1267.74L760.7 1269.85L761.7 1271.92L762.7 1273.97L763.7 1275.99L764.7 1277.99L765.7 1279.96L766.1 1280.73" stroke="#77AC30" stroke-width="2.15"/>
<path d="M93.7 1284.95L94.7 1284.47L95.7 1285.44L96.7 1287.13L97.7 1288.63L98.7 1290.23L99.7 1291.89L100.7 1293.56L101.7 1295.24L102.7 1296.90L103.7 1298.55L104.7 1300.17L105.7 1301.77L106.7 1303.34L107.7 1304.88L108.7 1306.40L109.7 1307.88L110.7 1309.34L111.7 1310.76L112.7 1312.16L113.7 1313.53L114.7 1314.87L115.7 1316.18L116.7 1317.46L117.7 1318.72L118.7 1319.94L119.7 1321.14L120.7 1322.31L121.7 1323.45L122.7 1324.57L123.7 1325.65L124.7 1326.72L125.7 1327.75L126.7 1328.76L127.7 1329.74L128.7 1330.69L129.7 1331.62L130.7 1332.52L131.7 1333.40L132.7 1334.25L133.7 1335.08L134.7 1335.89L135.7 1336.67L136.7 1337.42L137.7 1338.16L138.7 1338.87L139.7 1339.55L140.7 1340.22L141.7 1340.86L142.7 1341.48L143.7 1342.07L144.7 1342.65L145.7 1343.21L146.7 1343.74L147.7 1344.25L148.7 1344.75L149.7 1345.22L150.7 1345.67L151.7 1346.11L152.7 1346.52L153.7 1346.92L154.7 1347.29L155.7 1347.65L156.7 1347.99L157.7 1348.31L158.7 1348.61L159.7 1348.90L160.7 1349.17L161.7 1349.42L162.7 1349.65L163.7 1349.87L164.7 1350.07L165.7 1350.26L166.7 1350.42L167.7 1350.58L168.7 1350.71L169.7 1350.83L170.7 1350.93L171.7 1351.02L172.7 1351.09L173.7 1351.15L174.7 1351.19L175.7 1351.21L176.7 1351.22L177.7 1351.21L178.7 1351.19L179.7 1351.15L180.7 1351.10L181.7 1351.03L182.7 1350.94L183.7 1350.84L184.7 1350.72L185.7 1350.59L186.7 1350.44L187.7 1350.27L188.7 1350.09L189.7 1349.89L190.7 1349.67L191.7 1349.44L192.7 1349.19L193.7 1348.92L194.7 1348.64L195.7 1348.34L196.7 1348.02L197.7 1347.68L198.7 1347.32L199.7 1346.95L200.7 1346.55L201.7 1346.14L202.7 1345.71L203.7 1345.26L204.7 1344.79L205.7 1344.29L206.7 1343.78L207.7 1343.25L208.7 1342.70L209.7 1342.12L210.7 1341.53L211.7 1340.91L212.7 1340.27L213.7 1339.61L214.7 1338.92L215.7 1338.22L216.7 1337.48L217.7 1336.73L218.7 1335.95L219.7 1335.15L220.7 1334.32L221.7 1333.47L222.7 1332.60L223.7 1331.70L224.7 1330.77L225.7 1329.82L226.7 1328.84L227.7 1327.83L228.7 1326.80L229.7 1325.74L230.7 1324.66L231.7 1323.55L232.7 1322.41L233.7 1321.24L234.7 1320.04L235.7 1318.82L236.7 1317.57L237.7 1316.29L238.7 1314.98L239.7 1313.64L240.7 1312.28L241.7 1310.88L242.7 1309.46L243.7 1308.00L244.7 1306.52L245.7 1305.01L246.7 1303.46L247.7 1301.89L248.7 1300.29L249.7 1298.66L250.7 1297.00L251.7 1295.31L252.7 1293.59L253.7 1291.84L254.7 1290.06L255.7 1288.25L256.7 1286.41L257.7 1284.54L258.7 1282.65L259.7 1280.73L260.7 1278.77L261.7 1276.79L262.7 1274.78L263.7 1272.75L264.7 1270.68L265.7 1268.59L266.7 1266.48L267.7 1264.34L268.7 1262.17L269.7 1259.98L270.7 1257.76L271.7 1255.52L272.7 1253.26L273.7 1250.97L274.7 1248.66L275.7 1246.34L276.7 1243.99L277.7 1241.62L278.7 1239.24L279.7 1236.84L280.7 1234.42L281.7 1231.99L282.7 1229.54L283.7 1227.08L284.7 1224.61L285.7 1222.13L286.7 1219.64L287.7 1217.14L288.7 1214.64L289.7 1212.13L290.7 1209.62L291.7 1207.10L292.7 1204.59L293.7 1202.07L294.7 1199.56L295.7 1197.06L296.7 1194.56L297.7 1192.07L298.7 1189.59L299.7 1187.12L300.7 1184.67L301.7 1182.23L302.7 1179.81L303.7 1177.40L304.7 1175.02L305.7 1172.67L306.7 1170.34L307.7 1168.03L308.7 1165.76L309.7 1163.52L310.7 1161.31L311.7 1159.14L312.7 1157.00L313.7 1154.91L314.7 1152.85L315.7 1150.84L316.7 1148.88L317.7 1146.97L318.7 1145.10L319.7 1143.29L320.7 1141.53L321.7 1139.82L322.7 1138.17L323.7 1136.59L324.7 1135.06L325.7 1133.59L326.7 1132.19L327.7 1130.86L328.7 1129.59L329.7 1128.39L330.7 1127.26L331.7 1126.20L332.7 1125.22L333.7 1124.31L334.7 1123.47L335.7 1122.71L336.7 1122.02L337.7 1121.41L338.7 1120.88L339.7 1120.43L340.7 1120.06L341.7 1119.77L342.7 1119.56L343.7 1119.42L344.7 1119.37L345.7 1119.40L346.7 1119.51L347.7 1119.70L348.7 1119.97L349.7 1120.32L350.7 1120.75L351.7 1121.26L352.7 1121.84L353.7 1122.51L354.7 1123.25L355.7 1124.06L356.7 1124.95L357.7 1125.92L358.7 1126.96L359.7 1128.06L360.7 1129.24L361.7 1130.49L362.7 1131.81L363.7 1133.19L364.7 1134.64L365.7 1136.15L366.7 1137.72L367.7 1139.35L368.7 1141.04L369.7 1142.78L370.7 1144.58L371.7 1146.43L372.7 1148.33L373.7 1150.28L374.7 1152.28L375.7 1154.32L376.7 1156.40L377.7 1158.53L378.7 1160.69L379.7 1162.89L380.7 1165.12L381.7 1167.39L382.7 1169.68L383.7 1172.01L384.7 1174.36L385.7 1176.73L386.7 1179.12L387.7 1181.54L388.7 1183.98L389.7 1186.43L390.7 1188.89L391.7 1191.37L392.7 1193.86L393.7 1196.35L394.7 1198.85L395.7 1201.36L396.7 1203.88L397.7 1206.39L398.7 1208.90L399.7 1211.42L400.7 1213.93L401.7 1216.43L402.7 1218.93L403.7 1221.42L404.7 1223.91L405.7 1226.38L406.7 1228.85L407.7 1231.30L408.7 1233.73L409.7 1236.15L410.7 1238.56L411.7 1240.95L412.7 1243.32L413.7 1245.67L414.7 1248.01L415.7 1250.32L416.7 1252.61L417.7 1254.88L418.7 1257.13L419.7 1259.35L420.7 1261.55L421.7 1263.72L422.7 1265.87L423.7 1268.00L424.7 1270.10L425.7 1272.17L426.7 1274.21L427.7 1276.23L428.7 1278.22L429.7 1280.18L430.7 1282.11L431.7 1284.01L432.7 1285.89L433.7 1287.73L434.7 1289.55L435.7 1291.34L436.7 1293.10L437.7 1294.82L438.7 1296.52L439.7 1298.19L440.7 1299.83L441.7 1301.44L442.7 1303.02L443.7 1304.57L444.7 1306.09L445.7 1307.59L446.7 1309.05L447.7 1310.48L448.7 1311.89L449.7 1313.26L450.7 1314.61L451.7 1315.92L452.7 1317.21L453.7 1318.47L454.7 1319.70L455.7 1320.90L456.7 1322.08L457.7 1323.23L458.7 1324.35L459.7 1325.44L460.7 1326.51L461.7 1327.54L462.7 1328.56L463.7 1329.54L464.7 1330.50L465.7 1331.44L466.7 1332.34L467.7 1333.23L468.7 1334.09L469.7 1334.92L470.7 1335.73L471.7 1336.51L472.7 1337.27L473.7 1338.01L474.7 1338.73L475.7 1339.42L476.7 1340.08L477.7 1340.73L478.7 1341.35L479.7 1341.96L480.7 1342.54L481.7 1343.10L482.7 1343.63L483.7 1344.15L484.7 1344.65L485.7 1345.13L486.7 1345.58L487.7 1346.02L488.7 1346.44L489.7 1346.84L490.7 1347.22L491.7 1347.58L492.7 1347.92L493.7 1348.25L494.7 1348.56L495.7 1348.84L496.7 1349.12L497.7 1349.37L498.7 1349.61L499.7 1349.83L500.7 1350.03L501.7 1350.22L502.7 1350.39L503.7 1350.55L504.7 1350.69L505.7 1350.81L506.7 1350.91L507.7 1351.00L508.7 1351.08L509.7 1351.14L510.7 1351.18L511.7 1351.21L512.7 1351.22L513.7 1351.22L514.7 1351.20L515.7 1351.16L516.7 1351.11L517.7 1351.04L518.7 1350.96L519.7 1350.86L520.7 1350.75L521.7 1350.62L522.7 1350.47L523.7 1350.31L524.7 1350.13L525.7 1349.93L526.7 1349.72L527.7 1349.49L528.7 1349.24L529.7 1348.98L530.7 1348.70L531.7 1348.40L532.7 1348.08L533.7 1347.75L534.7 1347.39L535.7 1347.02L536.7 1346.63L537.7 1346.22L538.7 1345.80L539.7 1345.35L540.7 1344.88L541.7 1344.39L542.7 1343.89L543.7 1343.36L544.7 1342.81L545.7 1342.24L546.7 1341.65L547.7 1341.03L548.7 1340.40L549.7 1339.74L550.7 1339.06L551.7 1338.36L552.7 1337.63L553.7 1336.88L554.7 1336.11L555.7 1335.31L556.7 1334.49L557.7 1333.64L558.7 1332.77L559.7 1331.88L560.7 1330.96L561.7 1330.01L562.7 1329.04L563.7 1328.04L564.7 1327.01L565.7 1325.96L566.7 1324.88L567.7 1323.77L568.7 1322.64L569.7 1321.48L570.7 1320.29L571.7 1319.07L572.7 1317.82L573.7 1316.55L574.7 1315.24L575.7 1313.91L576.7 1312.55L577.7 1311.16L578.7 1309.74L579.7 1308.30L580.7 1306.82L581.7 1305.31L582.7 1303.77L583.7 1302.21L584.7 1300.61L585.7 1298.99L586.7 1297.33L587.7 1295.65L588.7 1293.93L589.7 1292.19L590.7 1290.42L591.7 1288.61L592.7 1286.78L593.7 1284.92L594.7 1283.03L595.7 1281.11L596.7 1279.17L597.7 1277.19L598.7 1275.19L599.7 1273.16L600.7 1271.10L601.7 1269.01L602.7 1266.90L603.7 1264.77L604.7 1262.60L605.7 1260.42L606.7 1258.20L607.7 1255.97L608.7 1253.71L609.7 1251.43L610.7 1249.13L611.7 1246.80L612.7 1244.46L613.7 1242.10L614.7 1239.72L615.7 1237.32L616.7 1234.90L617.7 1232.47L618.7 1230.03L619.7 1227.57L620.7 1225.10L621.7 1222.63L622.7 1220.14L623.7 1217.64L624.7 1215.14L625.7 1212.63L626.7 1210.12L627.7 1207.60L628.7 1205.09L629.7 1202.58L630.7 1200.07L631.7 1197.56L632.7 1195.06L633.7 1192.57L634.7 1190.08L635.7 1187.61L636.7 1185.16L637.7 1182.71L638.7 1180.29L639.7 1177.88L640.7 1175.50L641.7 1173.14L642.7 1170.80L643.7 1168.49L644.7 1166.21L645.7 1163.96L646.7 1161.75L647.7 1159.57L648.7 1157.42L649.7 1155.32L650.7 1153.26L651.7 1151.24L652.7 1149.27L653.7 1147.34L654.7 1145.47L655.7 1143.64L656.7 1141.87L657.7 1140.16L658.7 1138.50L659.7 1136.90L660.7 1135.36L661.7 1133.88L662.7 1132.47L663.7 1131.12L664.7 1129.84L665.7 1128.63L666.7 1127.48L667.7 1126.41L668.7 1125.41L669.7 1124.48L670.7 1123.63L671.7 1122.85L672.7 1122.15L673.7 1121.53L674.7 1120.98L675.7 1120.52L676.7 1120.13L677.7 1119.82L678.7 1119.59L679.7 1119.44L680.7 1119.38L681.7 1119.39L682.7 1119.48L683.7 1119.66L684.7 1119.91L685.7 1120.24L686.7 1120.66L687.7 1121.15L688.7 1121.72L689.7 1122.37L690.7 1123.09L691.7 1123.89L692.7 1124.77L693.7 1125.72L694.7 1126.74L695.7 1127.84L696.7 1129.00L697.7 1130.24L698.7 1131.54L699.7 1132.91L700.7 1134.34L701.7 1135.84L702.7 1137.40L703.7 1139.02L704.7 1140.70L705.7 1142.43L706.7 1144.22L707.7 1146.06L708.7 1147.95L709.7 1149.89L710.7 1151.88L711.7 1153.91L712.7 1155.98L713.7 1158.10L714.7 1160.25L715.7 1162.45L716.7 1164.67L717.7 1166.93L718.7 1169.22L719.7 1171.54L720.7 1173.88L721.7 1176.25L722.7 1178.64L723.7 1181.06L724.7 1183.49L725.7 1185.93L726.7 1188.40L727.7 1190.87L728.7 1193.36L729.7 1195.85L730.7 1198.35L731.7 1200.86L732.7 1203.37L733.7 1205.89L734.7 1208.40L735.7 1210.91L736.7 1213.43L737.7 1215.93L738.7 1218.43L739.7 1220.93L740.7 1223.41L741.7 1225.89L742.7 1228.35L743.7 1230.81L744.7 1233.25L745.7 1235.67L746.7 1238.08L747.7 1240.47L748.7 1242.85L749.7 1245.21L750.7 1247.54L751.7 1249.86L752.7 1252.15L753.7 1254.43L754.7 1256.68L755.7 1258.91L756.7 1261.11L757.7 1263.29L758.7 1265.45L759.7 1267.58L760.7 1269.68L761.7 1271.75L762.7 1273.80L763.7 1275.83L764.7 1277.82L765.7 1279.79L766.1 1280.56" stroke="#77AC30" stroke-width="2.15"/>
<path d="M93.7 1285.28L94.7 1284.81L95.7 1285.78L96.7 1287.47L97.7 1288.97L98.7 1290.57L99.7 1292.23L100.7 1293.90L101.7 1295.58L102.7 1297.24L103.7 1298.89L104.7 1300.52L105.7 1302.12L106.7 1303.69L107.7 1305.23L108.7 1306.75L109.7 1308.24L110.7 1309.70L111.7 1311.13L112.7 1312.54L113.7 1313.92L114.7 1315.26L115.7 1316.58L116.7 1317.88L117.7 1319.14L118.7 1320.38L119.7 1321.60L120.7 1322.78L121.7 1323.94L122.7 1325.08L123.7 1326.18L124.7 1327.27L125.7 1328.32L126.7 1329.36L127.7 1330.37L128.7 1331.35L129.7 1332.31L130.7 1333.24L131.7 1334.16L132.7 1335.05L133.7 1335.91L134.7 1336.75L135.7 1337.57L136.7 1338.37L137.7 1339.15L138.7 1339.90L139.7 1340.63L140.7 1341.34L141.7 1342.03L142.7 1342.70L143.7 1343.35L144.7 1343.97L145.7 1344.58L146.7 1345.17L147.7 1345.73L148.7 1346.27L149.7 1346.80L150.7 1347.30L151.7 1347.79L152.7 1348.25L153.7 1348.70L154.7 1349.12L155.7 1349.53L156.7 1349.92L157.7 1350.28L158.7 1350.63L159.7 1350.96L160.7 1351.27L161.7 1351.56L162.7 1351.84L163.7 1352.09L164.7 1352.32L165.7 1352.54L166.7 1352.74L167.7 1352.91L168.7 1353.07L169.7 1353.21L170.7 1353.34L171.7 1353.44L172.7 1353.52L173.7 1353.59L174.7 1353.64L175.7 1353.67L176.7 1353.68L177.7 1353.67L178.7 1353.64L179.7 1353.60L180.7 1353.53L181.7 1353.45L182.7 1353.35L183.7 1353.23L184.7 1353.09L185.7 1352.93L186.7 1352.75L187.7 1352.56L188.7 1352.34L189.7 1352.11L190.7 1351.86L191.7 1351.59L192.7 1351.30L193.7 1350.99L194.7 1350.66L195.7 1350.31L196.7 1349.95L197.7 1349.56L198.7 1349.16L199.7 1348.73L200.7 1348.29L201.7 1347.83L202.7 1347.34L203.7 1346.84L204.7 1346.32L205.7 1345.78L206.7 1345.21L207.7 1344.63L208.7 1344.03L209.7 1343.40L210.7 1342.76L211.7 1342.09L212.7 1341.40L213.7 1340.69L214.7 1339.96L215.7 1339.21L216.7 1338.44L217.7 1337.64L218.7 1336.82L219.7 1335.98L220.7 1335.12L221.7 1334.23L222.7 1333.32L223.7 1332.39L224.7 1331.43L225.7 1330.45L226.7 1329.44L227.7 1328.41L228.7 1327.36L229.7 1326.27L230.7 1325.17L231.7 1324.04L232.7 1322.88L233.7 1321.70L234.7 1320.49L235.7 1319.25L236.7 1317.98L237.7 1316.69L238.7 1315.37L239.7 1314.03L240.7 1312.65L241.7 1311.25L242.7 1309.82L243.7 1308.36L244.7 1306.87L245.7 1305.36L246.7 1303.81L247.7 1302.24L248.7 1300.63L249.7 1299.00L250.7 1297.34L251.7 1295.65L252.7 1293.93L253.7 1292.18L254.7 1290.40L255.7 1288.59L256.7 1286.75L257.7 1284.88L258.7 1282.99L259.7 1281.06L260.7 1279.11L261.7 1277.13L262.7 1275.12L263.7 1273.09L264.7 1271.02L265.7 1268.93L266.7 1266.82L267.7 1264.67L268.7 1262.51L269.7 1260.32L270.7 1258.10L271.7 1255.86L272.7 1253.60L273.7 1251.32L274.7 1249.01L275.7 1246.69L276.7 1244.34L277.7 1241.98L278.7 1239.60L279.7 1237.21L280.7 1234.79L281.7 1232.37L282.7 1229.93L283.7 1227.48L284.7 1225.02L285.7 1222.55L286.7 1220.08L287.7 1217.59L288.7 1215.11L289.7 1212.61L290.7 1210.12L291.7 1207.63L292.7 1205.14L293.7 1202.65L294.7 1200.16L295.7 1197.69L296.7 1195.22L297.7 1192.76L298.7 1190.31L299.7 1187.87L300.7 1185.45L301.7 1183.05L302.7 1180.67L303.7 1178.31L304.7 1175.97L305.7 1173.66L306.7 1171.37L307.7 1169.11L308.7 1166.88L309.7 1164.69L310.7 1162.53L311.7 1160.41L312.7 1158.32L313.7 1156.28L314.7 1154.27L315.7 1152.32L316.7 1150.40L317.7 1148.54L318.7 1146.73L319.7 1144.96L320.7 1143.25L321.7 1141.60L322.7 1140.00L323.7 1138.46L324.7 1136.98L325.7 1135.56L326.7 1134.21L327.7 1132.92L328.7 1131.69L329.7 1130.53L330.7 1129.44L331.7 1128.42L332.7 1127.47L333.7 1126.59L334.7 1125.78L335.7 1125.04L336.7 1124.38L337.7 1123.80L338.7 1123.29L339.7 1122.85L340.7 1122.49L341.7 1122.21L342.7 1122.01L343.7 1121.88L344.7 1121.83L345.7 1121.86L346.7 1121.96L347.7 1122.15L348.7 1122.40L349.7 1122.74L350.7 1123.15L351.7 1123.64L352.7 1124.21L353.7 1124.85L354.7 1125.56L355.7 1126.35L356.7 1127.21L357.7 1128.14L358.7 1129.14L359.7 1130.21L360.7 1131.35L361.7 1132.56L362.7 1133.84L363.7 1135.17L364.7 1136.57L365.7 1138.04L366.7 1139.56L367.7 1141.14L368.7 1142.78L369.7 1144.47L370.7 1146.22L371.7 1148.02L372.7 1149.87L373.7 1151.77L374.7 1153.72L375.7 1155.71L376.7 1157.74L377.7 1159.81L378.7 1161.92L379.7 1164.07L380.7 1166.26L381.7 1168.48L382.7 1170.73L383.7 1173.01L384.7 1175.31L385.7 1177.64L386.7 1180.00L387.7 1182.38L388.7 1184.77L389.7 1187.19L390.7 1189.62L391.7 1192.06L392.7 1194.52L393.7 1196.99L394.7 1199.46L395.7 1201.94L396.7 1204.43L397.7 1206.92L398.7 1209.42L399.7 1211.91L400.7 1214.40L401.7 1216.89L402.7 1219.37L403.7 1221.85L404.7 1224.32L405.7 1226.79L406.7 1229.24L407.7 1231.68L408.7 1234.11L409.7 1236.53L410.7 1238.93L411.7 1241.31L412.7 1243.68L413.7 1246.03L414.7 1248.36L415.7 1250.67L416.7 1252.96L417.7 1255.22L418.7 1257.47L419.7 1259.69L420.7 1261.89L421.7 1264.06L422.7 1266.21L423.7 1268.34L424.7 1270.43L425.7 1272.51L426.7 1274.55L427.7 1276.57L428.7 1278.55L429.7 1280.51L430.7 1282.45L431.7 1284.35L432.7 1286.23L433.7 1288.07L434.7 1289.89L435.7 1291.68L436.7 1293.43L437.7 1295.16L438.7 1296.86L439.7 1298.53L440.7 1300.18L441.7 1301.79L442.7 1303.37L443.7 1304.92L444.7 1306.45L445.7 1307.94L446.7 1309.41L447.7 1310.85L448.7 1312.26L449.7 1313.64L450.7 1315.00L451.7 1316.32L452.7 1317.62L453.7 1318.89L454.7 1320.14L455.7 1321.36L456.7 1322.55L457.7 1323.71L458.7 1324.85L459.7 1325.96L460.7 1327.05L461.7 1328.11L462.7 1329.15L463.7 1330.17L464.7 1331.15L465.7 1332.12L466.7 1333.06L467.7 1333.98L468.7 1334.87L469.7 1335.74L470.7 1336.59L471.7 1337.41L472.7 1338.21L473.7 1338.99L474.7 1339.75L475.7 1340.49L476.7 1341.20L477.7 1341.90L478.7 1342.57L479.7 1343.22L480.7 1343.85L481.7 1344.46L482.7 1345.05L483.7 1345.62L484.7 1346.17L485.7 1346.70L486.7 1347.20L487.7 1347.69L488.7 1348.16L489.7 1348.61L490.7 1349.04L491.7 1349.45L492.7 1349.84L493.7 1350.21L494.7 1350.56L495.7 1350.90L496.7 1351.21L497.7 1351.51L498.7 1351.78L499.7 1352.04L500.7 1352.28L501.7 1352.50L502.7 1352.70L503.7 1352.88L504.7 1353.04L505.7 1353.19L506.7 1353.31L507.7 1353.42L508.7 1353.51L509.7 1353.58L510.7 1353.63L511.7 1353.66L512.7 1353.68L513.7 1353.67L514.7 1353.65L515.7 1353.61L516.7 1353.54L517.7 1353.47L518.7 1353.37L519.7 1353.25L520.7 1353.12L521.7 1352.96L522.7 1352.79L523.7 1352.60L524.7 1352.39L525.7 1352.16L526.7 1351.91L527.7 1351.64L528.7 1351.36L529.7 1351.05L530.7 1350.73L531.7 1350.38L532.7 1350.02L533.7 1349.64L534.7 1349.24L535.7 1348.82L536.7 1348.38L537.7 1347.92L538.7 1347.44L539.7 1346.94L540.7 1346.42L541.7 1345.89L542.7 1345.33L543.7 1344.75L544.7 1344.15L545.7 1343.53L546.7 1342.89L547.7 1342.22L548.7 1341.54L549.7 1340.84L550.7 1340.11L551.7 1339.36L552.7 1338.59L553.7 1337.80L554.7 1336.99L555.7 1336.15L556.7 1335.29L557.7 1334.41L558.7 1333.50L559.7 1332.58L560.7 1331.62L561.7 1330.65L562.7 1329.64L563.7 1328.62L564.7 1327.57L565.7 1326.49L566.7 1325.39L567.7 1324.27L568.7 1323.11L569.7 1321.93L570.7 1320.73L571.7 1319.50L572.7 1318.24L573.7 1316.95L574.7 1315.64L575.7 1314.30L576.7 1312.93L577.7 1311.53L578.7 1310.11L579.7 1308.66L580.7 1307.17L581.7 1305.66L582.7 1304.12L583.7 1302.56L584.7 1300.96L585.7 1299.33L586.7 1297.67L587.7 1295.99L588.7 1294.27L589.7 1292.53L590.7 1290.76L591.7 1288.95L592.7 1287.12L593.7 1285.26L594.7 1283.37L595.7 1281.45L596.7 1279.50L597.7 1277.53L598.7 1275.53L599.7 1273.50L600.7 1271.44L601.7 1269.35L602.7 1267.24L603.7 1265.10L604.7 1262.94L605.7 1260.76L606.7 1258.55L607.7 1256.31L608.7 1254.05L609.7 1251.77L610.7 1249.47L611.7 1247.15L612.7 1244.81L613.7 1242.45L614.7 1240.08L615.7 1237.69L616.7 1235.28L617.7 1232.86L618.7 1230.42L619.7 1227.97L620.7 1225.51L621.7 1223.05L622.7 1220.57L623.7 1218.09L624.7 1215.60L625.7 1213.11L626.7 1210.62L627.7 1208.13L628.7 1205.63L629.7 1203.14L630.7 1200.66L631.7 1198.18L632.7 1195.71L633.7 1193.25L634.7 1190.80L635.7 1188.36L636.7 1185.94L637.7 1183.53L638.7 1181.14L639.7 1178.78L640.7 1176.44L641.7 1174.12L642.7 1171.82L643.7 1169.56L644.7 1167.33L645.7 1165.12L646.7 1162.96L647.7 1160.83L648.7 1158.73L649.7 1156.68L650.7 1154.67L651.7 1152.70L652.7 1150.78L653.7 1148.91L654.7 1147.08L655.7 1145.31L656.7 1143.59L657.7 1141.93L658.7 1140.32L659.7 1138.76L660.7 1137.27L661.7 1135.84L662.7 1134.47L663.7 1133.17L664.7 1131.93L665.7 1130.76L666.7 1129.65L667.7 1128.62L668.7 1127.65L669.7 1126.76L670.7 1125.93L671.7 1125.18L672.7 1124.51L673.7 1123.91L674.7 1123.38L675.7 1122.93L676.7 1122.56L677.7 1122.26L678.7 1122.04L679.7 1121.90L680.7 1121.83L681.7 1121.85L682.7 1121.94L683.7 1122.10L684.7 1122.35L685.7 1122.67L686.7 1123.07L687.7 1123.54L688.7 1124.09L689.7 1124.71L690.7 1125.41L691.7 1126.19L692.7 1127.03L693.7 1127.95L694.7 1128.94L695.7 1129.99L696.7 1131.12L697.7 1132.32L698.7 1133.58L699.7 1134.90L700.7 1136.29L701.7 1137.74L702.7 1139.25L703.7 1140.82L704.7 1142.45L705.7 1144.13L706.7 1145.87L707.7 1147.66L708.7 1149.50L709.7 1151.39L710.7 1153.32L711.7 1155.30L712.7 1157.33L713.7 1159.39L714.7 1161.50L715.7 1163.64L716.7 1165.82L717.7 1168.03L718.7 1170.27L719.7 1172.55L720.7 1174.85L721.7 1177.18L722.7 1179.53L723.7 1181.90L724.7 1184.29L725.7 1186.70L726.7 1189.13L727.7 1191.57L728.7 1194.03L729.7 1196.49L730.7 1198.97L731.7 1201.45L732.7 1203.93L733.7 1206.42L734.7 1208.92L735.7 1211.41L736.7 1213.90L737.7 1216.39L738.7 1218.88L739.7 1221.36L740.7 1223.83L741.7 1226.30L742.7 1228.75L743.7 1231.19L744.7 1233.63L745.7 1236.04L746.7 1238.45L747.7 1240.83L748.7 1243.20L749.7 1245.56L750.7 1247.89L751.7 1250.21L752.7 1252.50L753.7 1254.77L754.7 1257.02L755.7 1259.25L756.7 1261.45L757.7 1263.63L758.7 1265.79L759.7 1267.91L760.7 1270.02L761.7 1272.09L762.7 1274.14L763.7 1276.16L764.7 1278.16L765.7 1280.12L766.1 1280.90" stroke="#77AC30" stroke-width="2.15"/>
</g>
<g stroke="#1c1c1c" stroke-width="1.8" fill="none">
<path d="M93.70 892.30 H766.10 V1421.70"/>
<path d="M228.18 892.30 v6.70 M228.18 1421.70 v-6.70 M362.66 892.30 v6.70 M362.66 1421.70 v-6.70 M497.14 892.30 v6.70 M497.14 1421.70 v-6.70 M631.62 892.30 v6.70 M631.62 1421.70 v-6.70 M93.70 1315.82 h7.70 M766.10 1315.82 h-6.70 M93.70 1209.94 h7.70 M766.10 1209.94 h-6.70 M93.70 1104.06 h7.70 M766.10 1104.06 h-6.70 M93.70 998.18 h7.70 M766.10 998.18 h-6.70 " stroke-width="1.6"/>
</g>
<g stroke="#000" stroke-width="3.20" fill="none">
<path d="M93.70 1423.30 V812.90"/>
<path d="M92.10 1421.70 H837.90"/>
</g>
<path d="M93.7 792.9 L83.1 823.7 H104.3 Z" fill="#000"/>
<path d="M857.9 1421.8 L826.5 1411.7 V1432 Z" fill="#000"/>
<text x="97.90" y="625.90" font-size="36.6" text-anchor="end" >0</text>
<text x="96.60" y="538.48" font-size="36.6" text-anchor="end" letter-spacing="-1.30">50</text>
<text x="96.60" y="451.07" font-size="36.6" text-anchor="end" letter-spacing="-1.30">100</text>
<text x="96.60" y="363.65" font-size="36.6" text-anchor="end" letter-spacing="-1.30">150</text>
<text x="96.60" y="276.23" font-size="36.6" text-anchor="end" letter-spacing="-1.30">200</text>
<text x="96.60" y="188.82" font-size="36.6" text-anchor="end" letter-spacing="-1.30">250</text>
<text x="96.60" y="101.40" font-size="36.6" text-anchor="end" letter-spacing="-1.30">300</text>
<text x="112.00" y="649.30" font-size="36.6" text-anchor="middle" >0</text>
<text x="246.66" y="649.30" font-size="36.6" text-anchor="middle" >2</text>
<text x="381.32" y="649.30" font-size="36.6" text-anchor="middle" >4</text>
<text x="515.98" y="649.30" font-size="36.6" text-anchor="middle" >6</text>
<text x="650.64" y="649.30" font-size="36.6" text-anchor="middle" >8</text>
<text x="778.70" y="649.30" font-size="36.6" text-anchor="middle" letter-spacing="-3.00">10</text>
<text x="79.20" y="1434.90" font-size="36.6" text-anchor="end" >0</text>
<text x="79.20" y="1329.02" font-size="36.6" text-anchor="end" >5</text>
<text x="77.00" y="1223.14" font-size="36.6" text-anchor="end" letter-spacing="-2.20">10</text>
<text x="77.00" y="1117.26" font-size="36.6" text-anchor="end" letter-spacing="-2.20">15</text>
<text x="77.00" y="1011.38" font-size="36.6" text-anchor="end" letter-spacing="-2.20">20</text>
<text x="77.00" y="905.50" font-size="36.6" text-anchor="end" letter-spacing="-2.20">25</text>
<text x="98.20" y="1458.00" font-size="36.6" text-anchor="middle" >0</text>
<text x="232.68" y="1458.00" font-size="36.6" text-anchor="middle" >2</text>
<text x="367.16" y="1458.00" font-size="36.6" text-anchor="middle" >4</text>
<text x="501.64" y="1458.00" font-size="36.6" text-anchor="middle" >6</text>
<text x="636.12" y="1458.00" font-size="36.6" text-anchor="middle" >8</text>
<text x="771.50" y="1458.00" font-size="36.6" text-anchor="middle" letter-spacing="-3.00">10</text>
<text x="786.6" y="586.7" font-size="34.6" dx="0 2 -5.3 0.8 3.2 -2.6 0">Time(s)</text>
<text x="779.6" y="1405" font-size="34.8" dx="0 2 -5.3 0.8 3.2 -2.6 0">Time(s)</text>
<text font-size="29.5" transform="translate(108.80 69.70) scale(1.33 1)" style="font-family:'Liberation Serif', 'Noto Serif CJK SC', serif">（</text>
<text font-size="35.3" x="149.40" y="70.70">N</text>
<text font-size="29.5" transform="translate(175.60 69.70) scale(1.33 1)" style="font-family:'Liberation Serif', 'Noto Serif CJK SC', serif">）</text>
<text font-size="29.5" transform="translate(88.40 857.60) scale(1.33 1)" style="font-family:'Liberation Serif', 'Noto Serif CJK SC', serif">（</text>
<text font-size="35.3" x="128.70" y="858.70">N</text>
<text font-size="29.5" transform="translate(155.00 857.60) scale(1.33 1)" style="font-family:'Liberation Serif', 'Noto Serif CJK SC', serif">）</text>
<text font-size="33.9" text-anchor="start" transform="translate(26.1 446.3) rotate(-90)">Muscle passive force</text>
<text font-size="33.9" text-anchor="start" transform="translate(35.9 1256.3) rotate(-90)">Muscle passive force</text>
<text x="446.00" y="700.60" font-size="39.6" text-anchor="middle" >(a)</text>
<text x="446.00" y="1526.60" font-size="39.6" text-anchor="middle" >(b)</text>
<rect x="127.80" y="113.50" width="190.70" height="96.80" fill="#fff" stroke="#1c1c1c" stroke-width="1.8"/>
<path d="M133.50 137.60 H186.40" stroke="#0072BD" stroke-width="1.9"/>
<text x="195.20" y="148.80" dy="0 0 0 0 0 0 2.6 -2.6" font-size="28.8" textLength="92.40" lengthAdjust="spacingAndGlyphs">soleus_r</text>
<path d="M133.50 178.80 H186.40" stroke="#D95319" stroke-width="1.9"/>
<text x="195.80" y="189.50" dy="0 0 0 2.6 -2.6 0 0 0 2.6 -2.6" font-size="28.8" textLength="112.50" lengthAdjust="spacingAndGlyphs">tib_post_r</text>
<rect x="430.20" y="113.80" width="217.70" height="98.10" fill="#fff" stroke="#1c1c1c" stroke-width="1.8"/>
<path d="M436.10 146.10 H485.80" stroke="#EDB120" stroke-width="1.9"/>
<text x="500.20" y="149.40" dy="0 0 0 2.6 -2.6 0 0 0 2.6 -2.6" font-size="28.8" textLength="121.60" lengthAdjust="spacingAndGlyphs">per_brev_r</text>
<path d="M436.10 187.20 H485.80" stroke="#7E2F8E" stroke-width="1.9"/>
<text x="500.20" y="195.80" dy="0 0 0 2.6 -2.6 0 0 0 2.6 -2.6" font-size="28.8" textLength="121.60" lengthAdjust="spacingAndGlyphs">per_long_r</text>
<rect x="109.00" y="902.80" width="178.70" height="128.80" fill="#fff" stroke="#1c1c1c" stroke-width="1.8"/>
<path d="M117.50 927.00 H158.70" stroke="#0072BD" stroke-width="1.9"/>
<text x="162.40" y="930.80" dy="0 0 0 2.6 -2.6 0 0 2.6 -2.6" font-size="28.8" textLength="120.30" lengthAdjust="spacingAndGlyphs">med_gas_r</text>
<path d="M117.50 953.70 H158.70" stroke="#D95319" stroke-width="1.9"/>
<text x="164.60" y="959.50" dy="0 0 0 2.6 -2.6 0 0 2.6 -2.6" font-size="28.8" textLength="102.60" lengthAdjust="spacingAndGlyphs">lat_gas_r</text>
<path d="M117.50 980.10 H158.70" stroke="#EDB120" stroke-width="1.9"/>
<text x="161.30" y="987.90" dy="0 0 0 0 2.6 -2.6 0 0 2.6 -2.6" font-size="28.8" textLength="114.70" lengthAdjust="spacingAndGlyphs">flex_dig_r</text>
<path d="M117.50 1007.00 H158.70" stroke="#7E2F8E" stroke-width="1.9"/>
<text x="161.30" y="1017.10" dy="0 0 0 0 2.6 -2.6 0 0 2.6 -2.6" font-size="28.8" textLength="113.70" lengthAdjust="spacingAndGlyphs">flex_hal_r</text>
<rect x="422.80" y="906.10" width="190.70" height="124.40" fill="#fff" stroke="#1c1c1c" stroke-width="1.8"/>
<path d="M433.90 927.00 H481.00" stroke="#77AC30" stroke-width="1.9"/>
<text x="493.50" y="933.20" dy="0 0 0 2.6 -2.6 0 0 2.6 -2.6" font-size="28.8" textLength="97.80" lengthAdjust="spacingAndGlyphs">tib_ant_r</text>
<path d="M433.90 955.90 H481.00" stroke="#4DBEEE" stroke-width="1.9"/>
<text x="489.00" y="959.50" dy="0 0 0 2.6 -2.6 0 0 0 2.6 -2.6" font-size="28.8" textLength="109.00" lengthAdjust="spacingAndGlyphs">per_tert_r</text>
<path d="M433.90 984.40 H481.00" stroke="#A2142F" stroke-width="1.9"/>
<text x="488.30" y="988.10" dy="0 0 0 2.6 -2.6 0 0 2.6 -2.6" font-size="28.8" textLength="105.50" lengthAdjust="spacingAndGlyphs">ext_dig_r</text>
<path d="M433.90 1013.30 H481.00" stroke="#0072BD" stroke-width="1.9"/>
<text x="488.00" y="1017.00" dy="0 0 0 2.6 -2.6 0 0 2.6 -2.6" font-size="28.8" textLength="105.00" lengthAdjust="spacingAndGlyphs">ext_hal_r</text>
</svg></body></html>
